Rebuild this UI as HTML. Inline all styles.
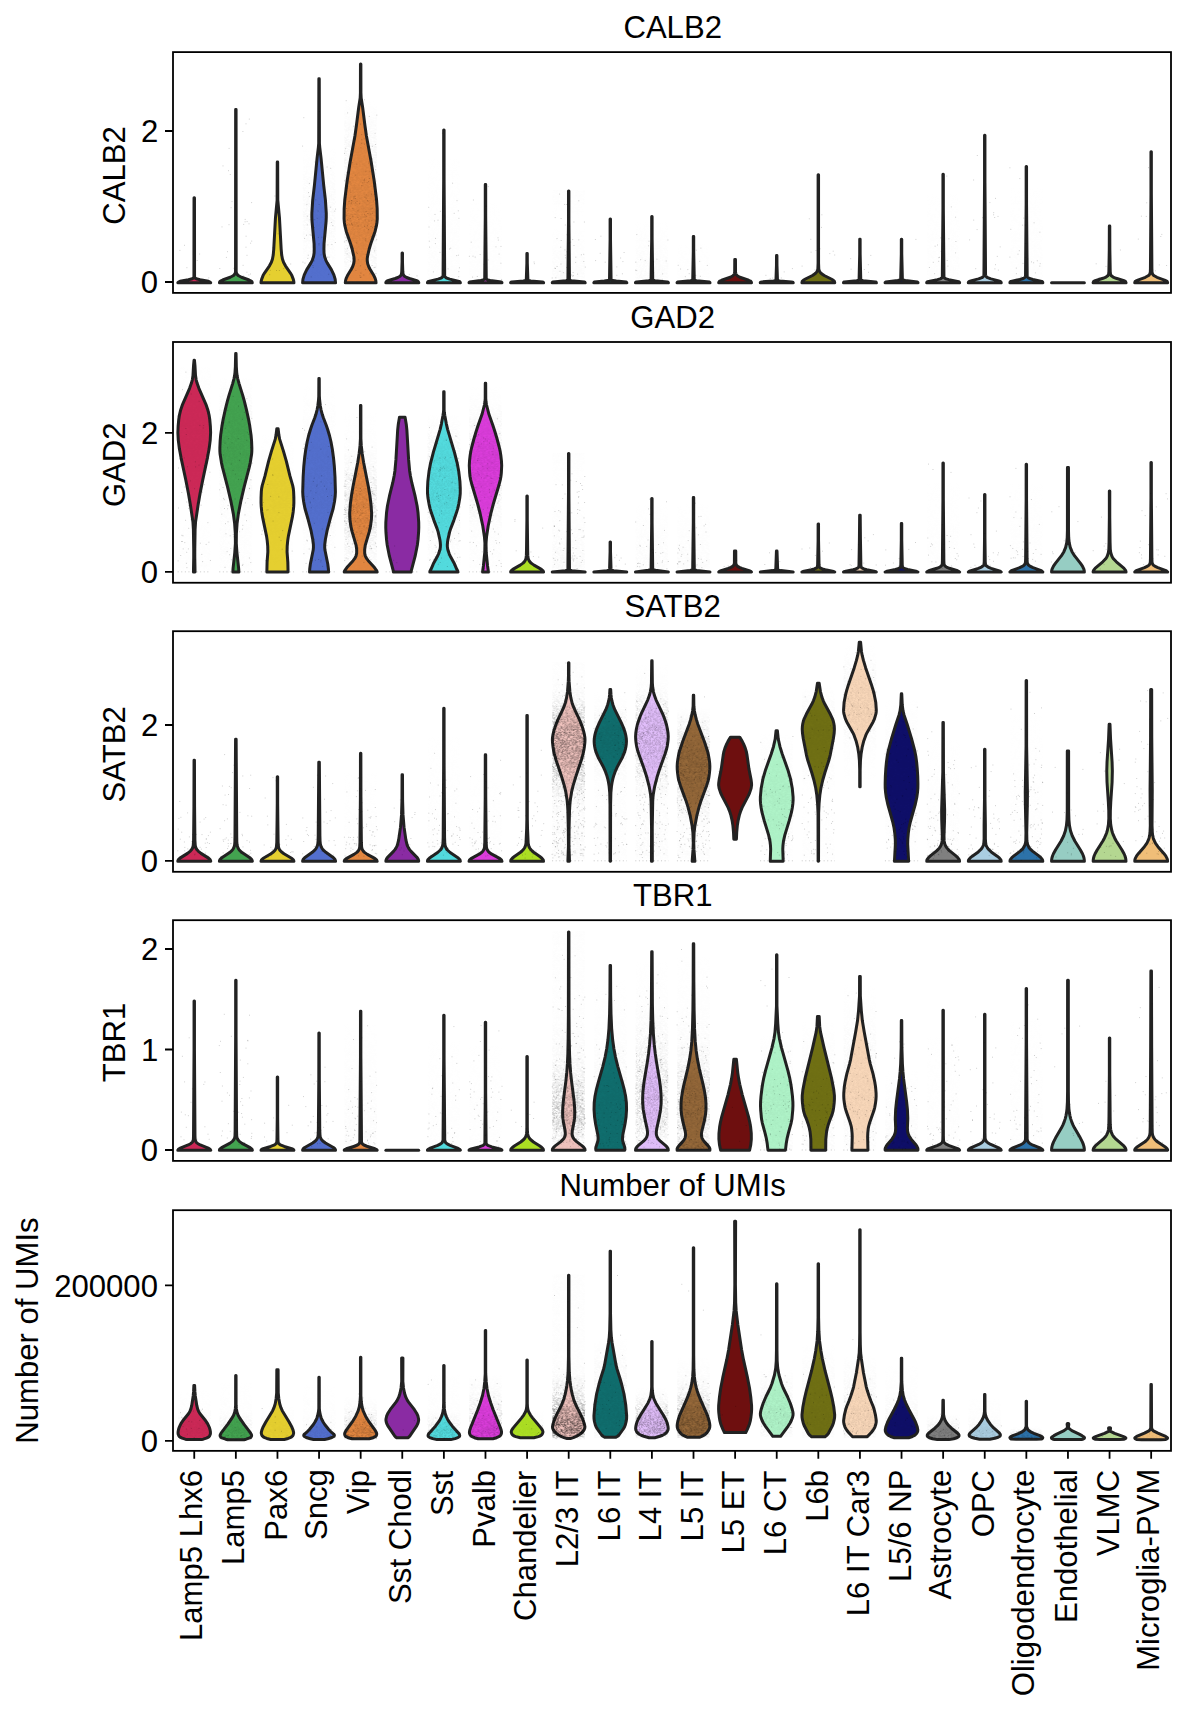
<!DOCTYPE html>
<html lang="en"><head><meta charset="utf-8"><title>Violin plots</title>
<style>html,body{margin:0;padding:0;background:#fff}svg{display:block}text{font-family:"Liberation Sans",sans-serif;font-size:31.1px;fill:#000}.v{stroke:#222222;stroke-width:3.0;stroke-linejoin:round}.ax{fill:none;stroke:#000;stroke-width:1.8}.tk{stroke:#000;stroke-width:1.8;fill:none}stop{stop-color:#fff}.dt{fill:none;stroke:#000;stroke-width:.85;stroke-linecap:square;stroke-opacity:.22}</style></head><body>
<svg width="1187" height="1709" viewBox="0 0 1187 1709">
<rect width="1187" height="1709" fill="#fff"/>
<defs><pattern id="hz" patternUnits="userSpaceOnUse" x="173.447" y="0" width="41.605" height="37"><path d="M4.4 .2h0m2.1 0h0m.9 .3h0m3.7-.2h0m.2-.1h0m1.1-.2h0m.8 .1h0m5.6 .2h0m.4 .2h0m5.7-.2h0m1.9 .1h0m1.2 .1h0m4.4-.4h0m-23.8 1.4h0m.4-.2h0m4.8-.5h0m.7-.1h0m.4-.2h0m.7 .2h0m1 .2h0m2.4 .2h0m.1-.5h0m2.2 .4h0m.9-.4h0m1 .3h0m0 .2h0m.1-.5h0m3.2 0h0m1.4 .6h0m3.4-.1h0m0 .2h0m.2 0h0m2.3 .1h0m.7-.8h0m.2 .3h0m1.7-.1h0m-31.8 1.5h0m.7-.1h0m3.7-.2h0m3.1-.1h0m2.1 0h0m.2 .2h0m.3-.5h0m1.8 .7h0m1.2-.3h0m1.4 .1h0m1.9 .4h0m.6-.4h0m3.4-.5h0m.2 .2h0m2.1-.1h0m.4 .6h0m.5 .1h0m.1-.4h0m.9 .2h0m.3-.5h0m3.6 .8h0m.9-.5h0m1.6-.3h0m.7 .4h0m-31.9 .9h0m.9 .1h0m.4 .3h0m.6 .1h0m.6-.1h0m.5-.7h0m3.1 .5h0m.4 0h0m1.8-.6h0m.4 0h0m1.5 .5h0m.6-.2h0m.2 .3h0m.3-.6h0m1.4 .6h0m1 .2h0m.9-.2h0m.7-.4h0m1.6 0h0m.3 .4h0m2.5 .2h0m.4-.9h0m.6 .3h0m1.1 .3h0m.5 0h0m2-.5h0m5 .1h0m1.2 .6h0m0-.1h0m-30 .8h0m3.7-.4h0m4.4 .1h0m.1 0h0m1.7 .1h0m.6 0h0m.1-.2h0m1.3 .8h0m1.4 0h0m2.4-.5h0m.1-.2h0m3.7 .2h0m3.1-.1h0m1.3 .1h0m3 .5h0m.5-.8h0m1.4 .8h0m1.3-.6h0m.4 .4h0m-29.9 .9h0m.9 .4h0m.2-.8h0m3.3 .4h0m3.3 .1h0m.4-.1h0m1-.6h0m1.6 .3h0m.9-.1h0m.8 .4h0m.8-.3h0m.3-.1h0m2.5 0h0m.6 .8h0m.2-.3h0m.7-.1h0m2.1-.4h0m.4-.1h0m1.2 .6h0m.1-.6h0m1.7 .4h0m.8 .4h0m6.2-.7h0m.3 0h0m.7 .3h0m.6 .1h0m.1-.5h0m-30.4 1.3h0m1.3 .1h0m1.6-.2h0m2.7 0h0m.2 .2h0m.1-.2h0m3.9 .3h0m2 .1h0m4.5-.6h0m2.2 .1h0m4 .6h0m1.5-.3h0m3.6 .4h0m2.1 0h0m.5-.4h0m-32 1.2h0m.9 .1h0m.7 .1h0m1.9-.2h0m.3-.2h0m.4-.4h0m2.3 .5h0m1.5 .4h0m.6-1h0m.7 1h0m1-.5h0m1.5-.3h0m.8 .7h0m0-.1h0m1.5-.3h0m.7-.1h0m.6 .1h0m0-.1h0m1.1-.3h0m2.9 .8h0m.4-.1h0m3.1-.1h0m.5 0h0m.7 .2h0m.3-.3h0m1.5-.2h0m0 .1h0m1.7-.5h0m2.2 .9h0m1-.1h0m.1-.1h0m.5-.3h0m-28.7 1.5h0m1.2-.2h0m2.4-.6h0m1.5 .6h0m1.8-.6h0m5.1 .5h0m0-.3h0m3.8 .3h0m1.2 0h0m4.2-.6h0m0 .8h0m1.9 .2h0m.2-.5h0m.8 .5h0m1.5-.6h0m2.6 .3h0m1.4-.6h0m-27.4 .9h0m3.2 .2h0m2.1 .4h0m2.4 .4h0m.6-.9h0m3.3 .2h0m2.3 .2h0m.1 .1h0m.9-.4h0m2.9 .7h0m0-.6h0m.2 .3h0m1.4 .3h0m.4-.4h0m1.6 .2h0m1.9 .1h0m1.4 .2h0m2.4-.4h0m.3 .1h0m-32 .5h0m.4 .5h0m1.2-.3h0m2.5-.1h0m1 0h0m1-.1h0m1.1 .3h0m2.4-.1h0m2.8-.4h0m1.6 .7h0m.1-.1h0m.6-.2h0m2.5 .5h0m2-.9h0m.6 .3h0m2.3 .6h0m.8 .1h0m3.1-.7h0m.4 .4h0m1.5 .2h0m.2-.6h0m0-.2h0m2.3 0h0m-31 1.3h0m3.3 .4h0m.7-.6h0m1.3 .3h0m1 .2h0m0-.2h0m1.4 0h0m2 .4h0m.2-.9h0m2.2 .2h0m1.3 .3h0m.4-.2h0m.8 0h0m0-.2h0m2.1 .3h0m2.4 .2h0m1.5-.4h0m.7 .2h0m1.7-.2h0m.5 .6h0m.1 .1h0m.1-.3h0m1-.4h0m.2 .2h0m1.7-.3h0m0 .2h0m.8-.1h0m1.1-.2h0m.4 .9h0m1.1-.2h0m.9-.3h0m-30.5 1.3h0m.1-.4h0m.1 .6h0m.1-.6h0m1 0h0m3.9 .3h0m.3 .3h0m0-.7h0m1 .4h0m1.8 .2h0m.8 .1h0m0-.7h0m.7 .2h0m3.7 .1h0m1.2 0h0m1.3 .3h0m1.2 .1h0m1.1-.5h0m1.4 0h0m.3 .5h0m1.6-.9h0m.5 .8h0m2.9 0h0m.6-.6h0m.5 .2h0m.5-.1h0m.6-.1h0m.9 .4h0m3.5 0h0m-31.6 .4h0m1.7 .1h0m1.2 .9h0m.5-.8h0m.9 .2h0m.8 .1h0m3.7-.2h0m.4-.3h0m3.5 .2h0m1.3 .4h0m.3 .3h0m.4 0h0m.8 0h0m.3 .1h0m.3-.6h0m5.2 .4h0m2.1 0h0m1.3-.2h0m.2 .3h0m1.2 .1h0m1.6-.6h0m.8 .2h0m1.8 .2h0m1.9-.8h0m-32.6 1.1h0m.2 .8h0m2.1 .1h0m2.7-.6h0m.3-.1h0m.3 .4h0m0 0h0m3.1 .1h0m1.1-.3h0m.6-.4h0m1.2 .4h0m.7-.2h0m.3 .5h0m2.7-.6h0m1.3 .5h0m.9 0h0m.7-.4h0m3.3 .4h0m.2-.7h0m.5 .6h0m5.9-.1h0m2-.5h0m.9 .8h0m-30.9 .8h0m1.9-.2h0m1.2-.1h0m1.8 .4h0m3.3 .1h0m1.9-.4h0m.4 .4h0m1.4-.2h0m1.3-.6h0m1.1 1h0m.6-.9h0m5.7 .3h0m3.9 .5h0m.4-.3h0m1.1 .3h0m.5-.9h0m.3 .6h0m1.5-.1h0m1.5-.2h0m.1-.1h0m.7 .4h0m.3-.1h0m.4-.4h0m-30.6 1.1h0m.4 .2h0m2.5 .4h0m.9-.1h0m.4-.4h0m1.2-.2h0m1.3 .8h0m.5 0h0m.6-.1h0m1.4-.3h0m4.7-.4h0m3.1 .5h0m.1 0h0m.3 .3h0m0-.3h0m.2-.3h0m1 .5h0m.3-.7h0m1.6 .3h0m2.4 .4h0m1.8-.1h0m-23.4 .8h0m1.8 .1h0m.3-.2h0m.7-.3h0m1.1 .6h0m2.3-.1h0m1.3-.5h0m.6 .1h0m1.6-.1h0m.1 .8h0m.8-.9h0m2.2 .5h0m.1 .2h0m.2-.5h0m4.1 .6h0m.3-.2h0m.5 0h0m.2 .2h0m.5 .1h0m.5-.3h0m1 0h0m2.2 .1h0m1.5 0h0m.1-.2h0m1.1 .3h0m2.1-.2h0m.6 .4h0m2.5-.7h0m0 .3h0m0-.4h0m.3 .3h0m-33 1.2h0m2 .3h0m1.7-.8h0m.6 .1h0m.4 .6h0m1-.2h0m.7 .1h0m.1 .2h0m.2-.2h0m1.5-.6h0m1.1 .7h0m0 0h0m2.8 .1h0m3.5-.3h0m.5-.1h0m2.2 0h0m1.6-.1h0m1.9 .4h0m3.2-.4h0m0-.2h0m.9 .3h0m2.5-.4h0m2.6 .6h0m-29.6 .5h0m.7 .4h0m.7 0h0m1.3-.2h0m.1-.4h0m.6 .1h0m1.4 .2h0m.2-.1h0m.5-.1h0m0 .3h0m.5 0h0m2.7-.1h0m.3 .2h0m1.2-.5h0m.5 .3h0m.8 .4h0m.4-.5h0m.2 .5h0m1.7-.6h0m2.6 .1h0m2.9-.1h0m1.6 .5h0m.8 .1h0m1.2-.1h0m.4-.3h0m0 .1h0m4.9 .3h0m1-.6h0m1.1 .4h0m.2-.5h0m-30.8 1.5h0m2.1-.4h0m.7 .2h0m2.5 .1h0m1.6-.2h0m2.8 .5h0m.2 .2h0m1.2-.6h0m.6-.1h0m5.9 .3h0m.7-.1h0m2.5-.4h0m.3 .7h0m.6-.5h0m.1 .1h0m1.3-.2h0m2.1 .7h0m.9-.1h0m.1-.2h0m.1 .1h0m1.2-.4h0m1.7 .4h0m-27.7 .3h0m3.4 .3h0m.5 .7h0m5-.7h0m1.8 .5h0m1-.6h0m3.3 0h0m.1 .2h0m1 .4h0m0 .1h0m2.7-.3h0m3.9-.5h0m3.6 .7h0m-27.5 .6h0m2.7-.4h0m8.9 .1h0m1.1 .9h0m1.3-.5h0m.9 .1h0m.4-.5h0m2.3 .3h0m1 .5h0m1.2-.7h0m3.4 .4h0m1 .1h0m.5 .1h0m.2-.8h0m2.3 .8h0m.6-.4h0m2.8-.2h0m-29.7 1.8h0m2.1-.6h0m.5 0h0m2.9 .2h0m1.6 .3h0m2.9-.2h0m.2-.2h0m2.8 .1h0m1.6 .3h0m.3-.3h0m1.1-.3h0m.5 .3h0m.6 .2h0m1.8-.6h0m1.3-.1h0m.1 .3h0m1.1 0h0m.9 .4h0m2.7-.5h0m.5-.1h0m0-.2h0m1.2 .5h0m-27.5 .7h0m2.5-.1h0m.4 .9h0m4.6-.4h0m.6-.1h0m2.7 .3h0m1.7 .1h0m.3-.4h0m.7 .1h0m2 .1h0m1.3-.1h0m.5 .4h0m.4-.9h0m.6 .1h0m.3-.2h0m.9 .4h0m1.3 0h0m1.9 .4h0m.2-.6h0m.6 .2h0m.1 .4h0m.1 0h0m.2 .1h0m1.1-.1h0m.5 .1h0m2.9-.2h0m.5-.5h0m-30.5 1.3h0m3 .4h0m.3-.3h0m2.7-.2h0m2.9 .3h0m0-.4h0m.4 .1h0m.3 .2h0m0-.1h0m1.3-.2h0m3 .3h0m.4 .3h0m.7-.2h0m.4-.6h0m3.2 .4h0m2.3-.4h0m.3-.1h0m2.3 .4h0m2.7 .3h0m.2-.2h0m2.9 .4h0m1-.5h0m0-.3h0m1.6 .7h0m-29 .9h0m.2 .2h0m1.1-.7h0m.2 .1h0m2 .4h0m1-.2h0m.3 0h0m2.4-.2h0m1.6 .6h0m1.1-.6h0m.2 .3h0m.3-.2h0m2.3 .5h0m1-.4h0m1.6-.1h0m.9 .2h0m.7-.5h0m2.6 .1h0m.5 .8h0m.9-.2h0m1-.5h0m1.4 .4h0m1.4 .3h0m.6 0h0m.3 0h0m2.5-.3h0m-30.6 .4h0m.6 .6h0m.2-.2h0m.1 .1h0m9.8-.5h0m1.3 .8h0m.1-.5h0m2.1 0h0m2.8 0h0m1.6-.3h0m.5 .5h0m.2-.5h0m1.3 .2h0m.8 .3h0m0-.5h0m3.2 .1h0m3.2 0h0m.4-.2h0m.5 .7h0m1.3-.5h0m.1 .1h0m.1 .2h0m.4 .2h0m-29.2 .4h0m.2 .5h0m2.1 .2h0m4.2-.6h0m4.1 .1h0m.4 .2h0m2.3-.5h0m1.9 .1h0m2.4 .2h0m1.7-.2h0m3.2 .8h0m.6-.3h0m.1-.5h0m.2 .9h0m.2-.9h0m1.4 .8h0m2.8-.4h0m2.9 .1h0m-32.5 .8h0m1.9 0h0m1.4-.1h0m1.2-.1h0m2.1 .2h0m.5 .5h0m1.9 0h0m1.3-.9h0m1.9 .9h0m.1-.1h0m.5-.2h0m.8-.2h0m4.5 .2h0m.1 .3h0m.1-.1h0m5.3-.7h0m3 .1h0m3.4 .4h0m1.8-.3h0m-30.8 1.2h0m.3-.1h0m.6 .1h0m.2-.5h0m.9 .1h0m1.6 .9h0m1.4-.4h0m.5-.6h0m.5 0h0m.4 .4h0m.8-.1h0m0-.2h0m.1 .4h0m5.5-.3h0m.9 .6h0m.2-.1h0m2.1-.4h0m1.1 .5h0m3-.1h0m.3 .3h0m.5-1h0m2.3 .2h0m.6 .5h0m.6-.6h0m.1 .8h0m1.2-.5h0m.6 .4h0m2.3 .1h0m-28.6 1h0m0-.3h0m1 .4h0m2.5-.8h0m.5 .3h0m.4 .2h0m.6-.1h0m2.4 0h0m.8 .3h0m3.3-.7h0m.8 .1h0m.2 .1h0m2 .5h0m9.7-.3h0m4.9-.3h0m.9 .2h0m.7 0h0m-30.6 .6h0m1.5 .1h0m1 .6h0m.7 0h0m1-.8h0m1.7 .6h0m1.1 .2h0m.2-.1h0m.5 0h0m1.2-.2h0m1.6 .4h0m.9-.9h0m1.6 1h0m1.9-.6h0m1.3-.3h0m.9 .2h0m.9 0h0m.1 .4h0m.1-.3h0m.3 .3h0m.4-.2h0m1 .5h0m1-.9h0m.1 .4h0m.3 0h0m4.4-.2h0m.7 .6h0m-27.2 1h0m1.5-.1h0m.8-.4h0m1.7 .2h0m.2-.3h0m.7 .4h0m3.6-.1h0m2.7-.5h0m.8 .7h0m3.5 .2h0m.3-.3h0m.6-.3h0m.1 .1h0m.5 .4h0m.4-.8h0m4.5 .6h0m2.7-.4h0m.8 0h0m.3 0h0m2.1 .4h0m.6-.2h0m3.1 .1h0m.7-.2h0m.5 .2h0m-29 .8h0m0 0h0m.4-.2h0m.5-.2h0m1.3 .3h0m1.4 .1h0m1.6 .3h0m6.4 .1h0m1.1 0h0m.2 0h0m4 0h0m2.6 .2h0m.4-.3h0m2.8-.1h0m1.3 0h0m.6-.1h0m-26.5 1h0m1.4-.2h0m.2 .7h0m1.5-.3h0m.1-.5h0m.2 .1h0m.4 .4h0m.1-.3h0m.5 .2h0m4.3-.4h0m.5 .3h0m7.2 .4h0m3.4-.7h0m1.9 .5h0m1.2-.6h0m1.2 .5h0m1.8 .1h0m1.2-.6h0m.1 .5h0m.1-.5h0m.9 .2h0m-29.4 1.3h0m1.2-.4h0m1.7-.2h0m2 .3h0m.2 .6h0m1.1-.9h0m.3 .1h0m2.5 .8h0m2.7-.7h0m2.1 .6h0m.2-.6h0m5.3 0h0m1.1 .7h0m3.8-.7h0m.3 .8h0m1.7-.7h0m2.6 .1h0m1.2-.4h0m0 0h0m.3 .7h0m.1-.7h0m.2 .1h0m.5 .4h0m.4 .2h0m-31.6 .6h0m1.2-.1h0m3.9 .3h0m.2-.3h0m.2 0h0m.7 0h0m3.4-.1h0m3.5 .1h0m5.1-.1h0m1.8 .2h0m.3 0h0m1.6-.2h0m2.6 .1h0m4.6-.1h0m1.6 0h0" fill="none" stroke="#000" stroke-width="0.8" stroke-linecap="square"/></pattern></defs>
<g>
<path class="v" fill="#cc2957" d="M194.47 197.8l.09 79l.24 .75l.38 .5l1.95 1l2.97 .75l8.37 1.5l1.55 .75l.55 .5l.08 .25l-32.8 0l.08-.25l.55-.5l1.55-.75l8.37-1.5l2.97-.75l1.95-1l.38-.5l.24-.75l.09-79z"/>
<path class="v" fill="#43a350" d="M236.07 109.52l.1 162l.27 1.5l.44 1l.8 1l.92 .75l2.88 1.5l7.62 2.75l2.19 1l.68 .75l.29 1.03l-32.81 0l.29-1.03l.68-.75l2.19-1l7.62-2.75l2.88-1.5l.92-.75l.8-1l.44-1l.27-1.5l.1-162z"/>
<path class="v" fill="#e5cf30" d="M277.66 162.09l.13 38l1.65 17.5l1.73 31.5l.53 6l.74 4l1.1 3.25l1.9 3.5l4.82 7l1.62 2.75l1.44 3.75l.47 2l.13 1.46l-32.92 0l.13-1.46l.47-2l1.44-3.75l1.62-2.75l4.82-7l1.9-3.5l1.1-3.25l.74-4l.53-6l1.73-31.5l1.65-17.5l.13-38z"/>
<path class="v" fill="#536fcd" d="M319.26 78.86l.16 64.5l.34 4l1.29 10.75l2.69 27.5l1.67 14.25l.85 13.25l.01 4.25l-.22 4.5l-2.01 21.75l-.12 5.25l.11 4.25l.56 3.5l1.29 3.75l1.3 2.5l4.32 7l2.36 5l1.3 4.25l.37 3.69l-32.93 0l.37-3.69l1.3-4.25l2.36-5l4.32-7l1.3-2.5l1.29-3.75l.56-3.5l.11-4.25l-.12-5.25l-2.01-21.75l-.22-4.5l.01-4.25l.85-13.25l1.67-14.25l2.69-27.5l1.29-10.75l.34-4l.15-64.5z"/>
<path class="v" fill="#e38741" d="M360.87 63.96l.05 28.75l.25 5.25l1.45 9.25l2.24 17.75l1.56 11l4.83 26.25l3.03 19.25l2.27 18.25l.63 9.25l.09 10l-.27 3.25l-.6 3.75l-1.34 5.5l-4.38 12.5l-1.54 5.25l-1.63 7.25l-.27 2.5l.02 2l.44 2.75l1.05 3l1.16 2.25l3.63 6l1.62 3.5l.64 2.25l.24 2.09l-30.74 0l.24-2.09l.64-2.25l1.62-3.5l3.63-6l1.16-2.25l1.05-3l.44-2.75l.02-2l-.27-2.5l-1.63-7.25l-1.54-5.25l-4.38-12.5l-1.34-5.5l-.6-3.75l-.27-3.25l.09-10l.63-9.25l2.27-18.25l3.03-19.25l4.83-26.25l1.56-11l2.24-17.75l1.45-9.25l.25-5.25l.05-28.75z"/>
<path class="v" fill="#8a2ba3" d="M402.48 252.99l0 8.75l.3 9.5l.19 2.25l.47 1.5l1.07 1.25l2.18 1.25l2.73 1l6.57 2l1.87 .75l.52 .5l.36 1.06l-32.93 0l.36-1.06l.52-.5l1.87-.75l6.57-2l2.73-1l2.18-1.25l1.07-1.25l.47-1.5l.19-2.25l.3-9.5l.01-8.75z"/>
<path class="v" fill="#53dbde" d="M444.08 129.89l.01 49.75l.58 95.75l.14 .75l.36 .75l.78 .75l.88 .5l2.94 1l9.4 2.25l.61 .25l.21 .25l.35 .91l-32.92 0l.35-.91l.21-.25l.61-.25l9.4-2.25l2.94-1l.88-.5l.78-.75l.36-.75l.14-.75l.58-95.75l.01-49.75z"/>
<path class="v" fill="#dc3ddc" d="M485.68 184.43l.02 32.5l.55 61.5l.12 .5l.41 .5l1.11 .5l2.32 .5l11.21 1.5l.44 .5l.09 .37l-32.93 0l.09-.37l.44-.5l11.21-1.5l2.32-.5l1.11-.5l.41-.5l.12-.5l.55-61.5l.01-32.5z"/>
<path class="v" fill="#acde23" d="M527.29 253.43l.02 9.5l.58 17l.55 .5l2.34 .5l11.56 1l.89 .25l.32 .62l-32.92 0l.32-.62l.89-.25l11.56-1l2.34-.5l.55-.5l.58-17l.02-9.5z"/>
<path class="v" fill="#f0c3be" d="M568.9 191l0 30l.56 58.75l.29 .5l1.5 .5l13.28 1.25l.38 .25l.25 .55l-32.93 0l.25-.55l.38-.25l13.28-1.25l1.5-.5l.29-.5l.56-58.75l0-30z"/>
<path class="v" fill="#106e6e" d="M610.5 219.04l0 20.25l.58 40.25l.31 .5l1.32 .5l3.54 .5l10.04 1l.47 .76l-32.92 0l.47-.76l10.04-1l3.54-.5l1.32-.5l.31-.5l.58-40.25l0-20.25z"/>
<path class="v" fill="#e1befa" d="M652.1 216.41l.02 22.25l.6 41l.46 .5l1.75 .5l12.37 1.25l.74 .25l.33 .64l-32.93 0l.33-.64l.74-.25l12.37-1.25l1.75-.5l.46-.5l.6-41l.01-22.25z"/>
<path class="v" fill="#96693a" d="M693.71 236.56l.02 15.25l.55 28l.37 .5l1.75 .5l13.1 1.25l.28 .25l.19 .49l-32.92 0l.19-.49l.28-.25l13.1-1.25l1.75-.5l.37-.5l.55-28l.02-15.25z"/>
<path class="v" fill="#6e0f0f" d="M735.48 259.53l.05 12.25l.25 1.75l.58 1.25l1.27 1.25l2.3 1.25l8.7 3l1.78 .75l.41 .25l.37 .5l.33 1.02l-32.81 0l.33-1.02l.37-.5l.41-.25l1.78-.75l8.7-3l2.3-1.25l1.27-1.25l.58-1.25l.25-1.75l.05-12.25z"/>
<path class="v" fill="#aff3c8" d="M776.92 255.62l.05 9.75l.47 14l.19 .75l1.02 .5l1.33 .25l11.39 1l1.41 .25l.4 .68l-32.92 0l.4-.68l1.41-.25l11.39-1l1.33-.25l1.02-.5l.19-.75l.47-14l.05-9.75z"/>
<path class="v" fill="#707014" d="M818.54 174.74l.01 88.25l.23 5.75l.26 1.25l.48 1.25l.81 1.25l.96 1l2.89 2l7.05 3.5l2.09 1.25l1.07 1l.34 1.56l-32.81 0l.34-1.56l1.07-1l2.09-1.25l7.05-3.5l2.89-2l.96-1l.81-1.25l.48-1.25l.26-1.25l.23-5.75l.01-88.25z"/>
<path class="v" fill="#f8d7b9" d="M860.13 239.19l.03 15l.6 25.5l.5 .5l1.87 .5l12.43 1.25l.54 .25l.29 .61l-32.92 0l.29-.61l.54-.25l12.43-1.25l1.87-.5l.5-.5l.6-25.5l.03-15z"/>
<path class="v" fill="#0f0f69" d="M901.74 239.19l.02 14.75l.62 25.25l.41 .5l.47 .25l1.94 .5l12.23 1.5l.48 .5l.09 .36l-32.93 0l.09-.36l.48-.5l12.23-1.5l1.94-.5l.47-.25l.41-.5l.62-25.25l.02-14.75z"/>
<path class="v" fill="#808080" d="M943.34 174.14l0 34.75l.6 67.75l.2 .75l.34 .5l.62 .5l1.06 .5l2.66 .75l9.96 2l.6 .5l.22 .66l-32.92 0l.22-.66l.6-.5l9.96-2l2.66-.75l1.06-.5l.62-.5l.34-.5l.2-.75l.6-67.75l0-34.75z"/>
<path class="v" fill="#aacde1" d="M984.94 135.37l.01 47.25l.59 92l.19 1l.37 .75l.73 .75l.78 .5l3.32 1.25l6.89 1.75l2.41 .75l.64 .5l.34 .93l-32.93 0l.34-.93l.64-.5l2.41-.75l6.89-1.75l3.32-1.25l.78-.5l.73-.75l.37-.75l.19-1l.59-92l0-47.25z"/>
<path class="v" fill="#2d73aa" d="M1026.55 166.47l0 37.25l.62 72.25l.19 .75l.51 .75l1.64 1l3.34 1l8.89 2l.56 .25l.36 .5l.15 .58l-32.92 0l.15-.58l.36-.5l.56-.25l8.89-2l3.34-1l1.64-1l.51-.75l.19-.75l.62-72.25l0-37.25z"/>
<path class="v" fill="#b4d791" d="M1109.76 226.05l.09 24l.38 21.5l.3 2.75l.31 .75l.54 .75l1.72 1.25l3.04 1.25l8.58 2.75l.82 .5l.48 1.25l-32.92 0l.48-1.25l.82-.5l8.58-2.75l3.04-1.25l1.72-1.25l.54-.75l.31-.75l.3-2.75l.38-21.5l.09-24z"/>
<path class="v" fill="#f0be78" d="M1151.36 151.8l.01 42.75l.51 74l.13 3.5l.58 2l.73 1l.87 .75l2.78 1.5l7.54 2.75l2.19 1l.65 .75l.28 1l-32.93 0l.28-1l.65-.75l2.19-1l7.54-2.75l2.78-1.5l.87-.75l.73-1l.58-2l.13-3.5l.51-74l0-42.75z"/>
<defs><linearGradient id="g0_3" gradientUnits="userSpaceOnUse" x1="0" x2="0" y1="78.9" y2="282.8"><stop offset="0" stop-opacity="0"/><stop offset=".32" stop-opacity="0"/><stop offset=".67" stop-opacity=".03"/><stop offset="1" stop-opacity="0"/></linearGradient><mask id="m0_3" maskUnits="userSpaceOnUse" x="302.4" y="77.9" width="33.4" height="205.9"><rect x="302.4" y="77.9" width="33.4" height="205.9" fill="url(#g0_3)"/></mask><linearGradient id="g0_4" gradientUnits="userSpaceOnUse" x1="0" x2="0" y1="64" y2="282.8"><stop offset="0" stop-opacity="0"/><stop offset=".16" stop-opacity="0"/><stop offset=".55" stop-opacity=".07"/><stop offset=".69" stop-opacity=".09"/><stop offset=".75" stop-opacity=".08"/><stop offset=".95" stop-opacity=".02"/><stop offset="1" stop-opacity=".01"/></linearGradient><mask id="m0_4" maskUnits="userSpaceOnUse" x="344" y="63" width="33.4" height="220.8"><rect x="344" y="63" width="33.4" height="220.8" fill="url(#g0_4)"/></mask><linearGradient id="g0_6" gradientUnits="userSpaceOnUse" x1="0" x2="0" y1="129.9" y2="282.8"><stop offset="0" stop-opacity="0"/><stop offset=".96" stop-opacity=".01"/><stop offset="1" stop-opacity="0"/></linearGradient><mask id="m0_6" maskUnits="userSpaceOnUse" x="427.2" y="128.9" width="33.4" height="154.9"><rect x="427.2" y="128.9" width="33.4" height="154.9" fill="url(#g0_6)"/></mask><linearGradient id="g0_7" gradientUnits="userSpaceOnUse" x1="0" x2="0" y1="184.4" y2="282.8"><stop offset="0" stop-opacity="0"/><stop offset=".94" stop-opacity=".01"/><stop offset="1" stop-opacity="0"/></linearGradient><mask id="m0_7" maskUnits="userSpaceOnUse" x="468.8" y="183.4" width="33.4" height="100.4"><rect x="468.8" y="183.4" width="33.4" height="100.4" fill="url(#g0_7)"/></mask><linearGradient id="g0_9" gradientUnits="userSpaceOnUse" x1="0" x2="0" y1="191" y2="282.8"><stop offset="0" stop-opacity=".01"/><stop offset=".36" stop-opacity="0"/><stop offset=".93" stop-opacity=".02"/><stop offset="1" stop-opacity="0"/></linearGradient><mask id="m0_9" maskUnits="userSpaceOnUse" x="552" y="190" width="33.4" height="93.8"><rect x="552" y="190" width="33.4" height="93.8" fill="url(#g0_9)"/></mask><linearGradient id="g0_11" gradientUnits="userSpaceOnUse" x1="0" x2="0" y1="216.4" y2="282.8"><stop offset="0" stop-opacity="0"/><stop offset=".91" stop-opacity=".02"/><stop offset="1" stop-opacity="0"/></linearGradient><mask id="m0_11" maskUnits="userSpaceOnUse" x="635.2" y="215.4" width="33.4" height="68.4"><rect x="635.2" y="215.4" width="33.4" height="68.4" fill="url(#g0_11)"/></mask><linearGradient id="g0_12" gradientUnits="userSpaceOnUse" x1="0" x2="0" y1="236.6" y2="282.8"><stop offset="0" stop-opacity="0"/><stop offset=".87" stop-opacity=".01"/><stop offset="1" stop-opacity="0"/></linearGradient><mask id="m0_12" maskUnits="userSpaceOnUse" x="676.8" y="235.6" width="33.4" height="48.2"><rect x="676.8" y="235.6" width="33.4" height="48.2" fill="url(#g0_12)"/></mask><linearGradient id="g0_18" gradientUnits="userSpaceOnUse" x1="0" x2="0" y1="174.1" y2="282.8"><stop offset="0" stop-opacity="0"/><stop offset=".94" stop-opacity=".01"/><stop offset="1" stop-opacity="0"/></linearGradient><mask id="m0_18" maskUnits="userSpaceOnUse" x="926.4" y="173.1" width="33.4" height="110.7"><rect x="926.4" y="173.1" width="33.4" height="110.7" fill="url(#g0_18)"/></mask><linearGradient id="g0_20" gradientUnits="userSpaceOnUse" x1="0" x2="0" y1="166.5" y2="282.8"><stop offset="0" stop-opacity="0"/><stop offset=".95" stop-opacity=".01"/><stop offset="1" stop-opacity="0"/></linearGradient><mask id="m0_20" maskUnits="userSpaceOnUse" x="1009.6" y="165.5" width="33.4" height="118.3"><rect x="1009.6" y="165.5" width="33.4" height="118.3" fill="url(#g0_20)"/></mask></defs>
<rect x="302.4" y="77.9" width="33.4" height="205.9" fill="url(#hz)" mask="url(#m0_3)"/><rect x="344" y="63" width="33.4" height="220.8" fill="url(#hz)" mask="url(#m0_4)"/><rect x="427.2" y="128.9" width="33.4" height="154.9" fill="url(#hz)" mask="url(#m0_6)"/><rect x="468.8" y="183.4" width="33.4" height="100.4" fill="url(#hz)" mask="url(#m0_7)"/><rect x="552" y="190" width="33.4" height="93.8" fill="url(#hz)" mask="url(#m0_9)"/><rect x="635.2" y="215.4" width="33.4" height="68.4" fill="url(#hz)" mask="url(#m0_11)"/><rect x="676.8" y="235.6" width="33.4" height="48.2" fill="url(#hz)" mask="url(#m0_12)"/><rect x="926.4" y="173.1" width="33.4" height="110.7" fill="url(#hz)" mask="url(#m0_18)"/><rect x="1009.6" y="165.5" width="33.4" height="118.3" fill="url(#hz)" mask="url(#m0_20)"/>
<path d="M1051.55 282.8H1084.36" fill="none" stroke="#222222" stroke-width="3.0" stroke-linecap="round"/>
<path class="dt" d="M364.5 99.8h0m-18.3 .9h0m-26.8 10.8h0m28.2 1.4h0m29.2 2.2h0m-7.5 1.3h0m-65.5 1.3h0m-54.5 1.4h0m-3.3 4.7h0m114.5 .3h0m-6.8 2.1h0m-110.8 5.3h0m132.2 1.8h0m67.3-.1h0m-80.7 1.4h0m-6.5 4.8h0m9-.5h0m-2.4 .8h0m-.1 3.6h0m2.7 .9h0m11 .3h0m-72.8 1.6h0m65.2 .4h0m1.9-.4h0m2.6 .2h0m-143.2 2.1h0m131.8-.6h0m-15.3 .9h0m-1.1 4.7h0m632.8 2.1h0m-627.4 3.3h0m22.6 .1h0m-57.4 3.1h0m53.7 .1h0m-16.4 .6h0m16.5 .7h0m-12.1 .6h0m-8.2 1h0m21.4-.2h0m-147 1.1h0m104.1 1.1h0m3.6 1.3h0m679.2-.5h0m138.6-.1h0m-773 2.1h0m-147 .9h0m137.4 .6h0m4.1 0h0m-23.5 1.4h0m-116.2 1.8h0m124.9 .8h0m591.6 .8h0m-582.3 3.1h0m4.9-.7h0m650.4 .1h0m-655.6 1.8h0m609.4-.4h0m-628.9 .7h0m23.9 .8h0m-18.7 .4h0m14.3 .1h0m-54.8 1.4h0m53.3-.6h0m4.5 0h0m85.4 .4h0m-106.3 3.1h0m15.5-.6h0m12 .6h0m114.5 .3h0m-141.2 1.5h0m3 1.9h0m.3 2.1h0m-41.9 .5h0m63 1.6h0m3 0h0m185.1-.1h0m-212.7 .5h0m19.4 .3h0m-91.4 1.1h0m34.5 .4h0m14.7-.6h0m29.9 .6h0m1.3-.2h0m9.6 .9h0m-19.4 .8h0m8.4 .3h0m12.2-.2h0m629.4 .4h0m-640.1 .2h0m-39.6 1.3h0m58.8 0h0m98.8 .1h0m-124.3 1.3h0m2.3-.6h0m.5-.1h0m5.2 .6h0m10.3-.7h0m.6 .7h0m5.3-.1h0m83.7-.4h0m121.8 .1h0m-346.8 .8h0m19.6 1h0m99.9 .4h0m3.9-.2h0m634.5-.2h0m156.8 .2h0m-827.6 1.7h0m40.5-.7h0m205.1 .7h0m2 0h0m-259.8 .2h0m179.2 1.4h0m-155.8 1h0m98.4 .2h0m522.6-.4h0m-720.2 .8h0m115.6 .8h0m6.1-.1h0m-17.2 .7h0m35.3-.3h0m1.3-.2h0m-54.1 2.4h0m16.7 .2h0m23.2-.3h0m8.1 .5h0m74.3-.1h0m17.9-.5h0m-90.5 2.7h0m4.7-.2h0m81.7 0h0m539.5-.6h0m-638.7 1.7h0m9.5-.1h0m6.3-.2h0m64.2 .3h0m386.9 .4h0m171.7 0h0m-686.3 1.4h0m39.5-.7h0m6 .8h0m12.3-.2h0m1.6 .1h0m77.5-.3h0m553.8 .5h0m143.4-.2h0m4.9 .2h0m-788.5 .9h0m19.2-.2h0m578.6 .1h0m-638.4 1.1h0m141.7 0h0m96.3-.7h0m427.4 .1h0m12.1-.2h0m29.1 .6h0m-778.6 1.3h0m105.2-.9h0m8.4 .8h0m202.3-.8h0m91 .4h0m157.2-.1h0m-499.1 .9h0m4.5 0h0m32.8 .1h0m17.7 .3h0m72.8 .1h0m535.7-.1h0m-604.8 .9h0m2.9-.2h0m62.8 .1h0m-189.5 .9h0m2-.2h0m84.3 .8h0m242.5-.4h0m10.5 0h0m-227.4 1h0m18.6-.1h0m658.5-.1h0m-790.4 1.6h0m5.3-.6h0m102.5 0h0m.4 .2h0m-122.9 .7h0m78.3 .2h0m37.5-.1h0m.3-.2h0m2.6 .2h0m2 0h0m2.7 .3h0m212.9-.1h0m457.3 .2h0m2.7-.2h0m-692.5 .6h0m11.6 0h0m13.7 .3h0m6.4 .4h0m3-.5h0m3.5 .7h0m3.9-.1h0m194.8-.2h0m-347.7 .7h0m152.9-.2h0m54.1 .3h0m392.5 .4h0m-507.2 .1h0m52.6 .7h0m5.7-.6h0m638.2 1.7h0m-642.3 .4h0m608.6-.1h0m62.8 2.6h0m-761.8 1.6h0m883.7 .6h0m-855.3 .8h0m3.6-.4h0m1 .5h0m64.9-.1h0m190.9-.4h0m69.9-.2h0m-390.7 1.6h0m79.5 .1h0m275.3-.1h0m559.9 .3h0m-842.4 .9h0m3.5-.2h0m49.4-.5h0m-66.7 1.7h0m41.5-.5h0m27-.3h0m62.4 .8h0m50.8-.3h0m11.7-.3h0m442.6 .1h0m-574.9 1h0m191.3-.3h0m38.4 .9h0m215.4-.2h0m105.1 .1h0m33-.6h0m189.4 .3h0m-792 1.4h0m30.4-.8h0m121.6 .4h0m62.9 .4h0m11.5-.9h0m6.1 .3h0m89.1 .1h0m301.7-.1h0m-717.9 1.2h0m114-.3h0m63.6 .4h0m219.7 0h0m-313.7 1.3h0m9.1-.6h0m26.8 0h0m100 .3h0m99.5-.1h0m385.2-.6h0m-705.3 1.7h0m106.1-.3h0m212.6 .1h0m-250.3 .6h0m116.4 0h0m590.3-.1h0m-841.2 1.8h0m134.4-.4h0m9 0h0m4-.3h0m605.6 .4h0m-436.5 1.4h0m73-.9h0m74.6 .3h0m286.5 .4h0m-689.1 1h0m183.5-.1h0m66.5-.2h0m64.7 .3h0m439.5-.3h0m-727.4 .9h0m80.7 .5h0m97.2-.1h0m250.2-.1h0m-353.5 .7h0m102.2 .2h0m370.5-.2h0m-640.2 1.6h0m385-.5h0m131.4 .3h0m119.7 .3h0m304.4-.5h0m-745.7 .9h0m458.5 .3h0m107.9 .1h0m78.2-.6h0m-791.8 1h0m129.1 .6h0m83.4 .1h0m126.9-.6h0m57.2 .7h0m187-.3h0m-458.1 .6h0m4.3 .7h0m242.9-.2h0m355.4-.4h0m-756 1.1h0m147.6-.1h0m133 .6h0m18.9-.4h0m84.6 .2h0m246.1-.7h0m188.2 .6h0m-771 1.1h0m33.7-.3h0m27.6 .2h0m12.7-.3h0m45.2-.2h0m76.6 .2h0m15.6 .3h0m106.9 .1h0m16.1-.5h0m253.3 .2h0m36.1 .4h0m-414.1 .2h0m12.7 .7h0m3.6-.1h0m524.3 .2h0m-770.9 1h0m101.1-.2h0m1.5-.1h0m38.5 .1h0m107.7-.1h0m100.6 .1h0m363.6 .1h0m70.5-.2h0m15.9 .4h0m-718 .9h0m45.2 0h0m212.6-.6h0m55 .2h0m318.2-.3h0m-586.2 1.2h0m304.3 .3h0m193.8-.5h0m177 .1h0m-669.4 1h0m130 .2h0m152.4-.3h0m306.5 .8h0m-750 0h0m117.2 .4h0m36.1 .3h0m17.3-.2h0m216 .5h0m11.8-.9h0m49.6 0h0m7.9 .7h0m13.1-.3h0m33.5 .3h0m239 0h0m98.6-.5h0m-734.4 1.3h0m231.2-.1h0m41.6 .4h0m29.5-.2h0m17.7-.6h0m12.9 .6h0m17.9-.3h0m279.6 .4h0m98.2-.4h0m-726.5 1.2h0m195.9 .1h0m522.1 .2h0m10.6-.6h0m-742.9 1.2h0m193.4 .4h0m50.3-.7h0m26.6 .3h0m479.2-.3h0m56 .1h0m-853.1 1.5h0m42.8-.2h0m86.2 .4h0m306.1-.2h0m29.1 .1h0m161-.7h0m127.2 0h0m163.8 .2h0m-846.4 .6h0m39.9 .8h0m7.8-.5h0m441.5 .3h0m145.8 0h0m91.9 0h0m66.2 .3h0m60.6-.9h0m-853.4 1.9h0m61.9-.1h0m182-.8h0m9.6 1h0m18.6-.4h0m31.5-.2h0m312.6 .6h0m-742.5 .2h0m32.9 .8h0m14-.2h0m117.4-.3h0m22.9-.4h0m85.3 .2h0m95.4 .4h0m461.5-.1h0m-732.6 .5h0m164.4 .3h0m107.4-.4h0m125.1 .5h0m111.8-.4h0m58.7 .6h0m13.2 .3h0m111.4-.8h0m19.2 .2h0m-760.3 1.2h0m35.7 .3h0m85.6 .1h0m9.5-.9h0m77.3 .6h0m192.8 0h0m1.2 .2h0m51.1-.8h0m127.2 .3h0m183.4 .2h0m-721.9 .4h0m2.9 0h0m72.7 0h0m92.4 .1h0m115.5 .7h0m92.6-.1h0m502.8-.4h0m-918.8 1.3h0m10.3 .1h0m186.5-.3h0m25.4-.2h0m114.3 .8h0m211.1-.6h0m30.5 .6h0m53.8-.2h0m-633.7 .9h0m126.1-.1h0m202.5-.4h0m5.8 .7h0m84.6-.6h0m381.6 .1h0m-784.9 1.1h0m78.2 .2h0m41.3-.4h0m6-.2h0m33.3 .8h0m168.3-.3h0m44.8-.3h0m40.3 .1h0m26.5-.2h0m245.4 0h0m81.8 0h0m-767.5 1.2h0m20.8-.2h0m94.1 .3h0m207.8 0h0m1.7 .5h0m43.5-.2h0m79 .1h0m70.1-.1h0m-522.3 .6h0m116.4-.2h0m57 .2h0m23.9 .1h0m129.6 .3h0m2.3-.1h0m120.4 .3h0m7.1-.2h0m159.1-.2h0m-548.2 .8h0m49.1 .6h0m.8-.4h0m97.6-.4h0m13.9 .4h0m4.7-.6h0m208 .2h0m335.9-.1h0m-812.4 1.3h0m343.4 .1h0m3.6-.2h0m216.9 .3h0m8.6-.1h0m317.8-.5h0m-754 1.5h0m156.5 .4h0m160.7-.1h0m107.9-.7h0m206 .4h0"/>
<rect class="ax" x="173" y="52.1" width="998" height="240.8"/>
<path class="tk" d="M173 131h-8M173 282h-8"/>
<text x="158.4" y="142.33" text-anchor="end">2</text>
<text x="158" y="293.33" text-anchor="end">0</text>
<text x="672.7" y="38.2" text-anchor="middle">CALB2</text>
<text transform="translate(125.3 175.4) rotate(-90)" text-anchor="middle">CALB2</text>
</g>
<g>
<path class="v" fill="#cc2957" d="M194.47 360.33l.49 5.25l.56 10l.64 4.25l.98 3.5l1.77 5l7 16l2.1 6.25l1.06 4.5l.73 4.75l.56 6.25l.25 6.5l-.38 7.5l-1.12 8.75l-1.68 9l-4.73 22.25l-2.6 13.25l-2.1 12.25l-2.46 16.5l-.44 7.25l-.31 19.5l-.01 8.25l.26 14.97l-1.58 0l.26-14.97l-.01-8.25l-.31-19.5l-.44-7.25l-2.46-16.5l-2.1-12.25l-2.6-13.25l-4.73-22.25l-1.68-9l-1.12-8.75l-.38-7.5l.25-6.5l.56-6.25l.73-4.75l1.06-4.5l2.1-6.25l7-16l1.77-5l.98-3.5l.64-4.25l.56-10l.49-5.25z"/>
<path class="v" fill="#43a350" d="M236.05 353.6l.29 13.25l.37 5.5l.44 3.5l.62 3l1.29 4.75l3.66 11.75l1.61 5.75l2.04 8.25l2.08 9.5l1.32 7.25l1.29 9l.5 5.75l.29 7.25l-.03 3.25l-.23 3l-1.36 8.5l-1.01 4.5l-5.18 20l-3.15 13.5l-2.53 13l-1.3 9.75l-.67 9.75l-.09 10l.63 9.25l1.69 15.5l.25 3.95l-6.03 0l.25-3.95l1.69-15.5l.63-9.25l-.09-10l-.67-9.75l-1.3-9.75l-2.53-13l-3.15-13.5l-5.18-20l-1.01-4.5l-1.36-8.5l-.23-3l-.03-3.25l.29-7.25l.5-5.75l1.29-9l1.32-7.25l2.08-9.5l2.04-8.25l1.61-5.75l3.66-11.75l1.29-4.75l.62-3l.44-3.5l.37-5.5l.29-13.25z"/>
<path class="v" fill="#e5cf30" d="M278.11 428.65l.77 6.5l.76 4l3.73 11.75l2.95 10.25l3.6 14.75l2.8 9.75l.59 3l.3 3l.25 6l.03 5l-.2 4l-.48 5l-.91 5.75l-3.97 19l-.62 4.25l-.51 5.5l-.13 5.75l.76 10.25l.23 9.9l-21.2 0l.23-9.9l.76-10.25l-.13-5.75l-.51-5.5l-.62-4.25l-3.97-19l-.91-5.75l-.48-5l-.2-4l.03-5l.25-6l.3-3l.59-3l2.8-9.75l3.6-14.75l2.95-10.25l3.73-11.75l.76-4l.77-6.5z"/>
<path class="v" fill="#536fcd" d="M319.26 378.52l.09 17.5l.33 4.75l.65 5.25l.78 4l1.18 4.5l1.17 3.5l2.79 7.25l1.51 4.5l1.85 6.25l1.36 5.75l1.44 8l1.13 8.5l.83 8.5l.62 10l.43 15.25l-.23 4.25l-.67 5.25l-1.35 7l-3.2 11l-2.74 10.5l-1.81 9.25l-.67 5.25l-.05 2.75l.24 2.75l2.83 14l.62 4.75l.2 3.28l-19.05 0l.2-3.28l.62-4.75l2.83-14l.24-2.75l-.05-2.75l-.67-5.25l-1.81-9.25l-2.74-10.5l-3.2-11l-1.35-7l-.67-5.25l-.23-4.25l.43-15.25l.62-10l.83-8.5l1.13-8.5l1.44-8l1.36-5.75l1.85-6.25l1.51-4.5l2.79-7.25l1.17-3.5l1.18-4.5l.78-4l.65-5.25l.33-4.75l.08-17.5z"/>
<path class="v" fill="#e38741" d="M360.87 405.45l.03 33.25l.4 7.25l.92 7.75l1.34 8.5l4.78 24.25l1.56 9.25l1.07 8.25l.66 9l-.18 6l-.94 7.25l-1.25 5.5l-4.04 13.75l-.55 4l0 3.75l.63 2.75l1.42 2.75l1.54 2l5.51 6l3.03 4.25l.34 1.1l-32.94 0l.34-1.1l3.03-4.25l5.51-6l1.54-2l1.42-2.75l.63-2.75l0-3.75l-.55-4l-4.04-13.75l-1.25-5.5l-.94-7.25l-.18-6l.66-9l1.07-8.25l1.56-9.25l4.78-24.25l1.34-8.5l.92-7.75l.4-7.25l.03-33.25z"/>
<path class="v" fill="#8a2ba3" d="M405.07 417.19l1.18 7l.62 5.75l1.76 30l.98 10.75l.78 5l1.34 6.75l3.4 13.75l1.95 9.5l.92 6.75l.72 10l.06 5l-.19 5l-.57 7.25l-.61 5l-2.27 11.5l-3.82 14.5l-.16 1.36l-17.77 0l-.16-1.36l-3.82-14.5l-2.27-11.5l-.61-5l-.57-7.25l-.19-5l.06-5l.72-10l.92-6.75l1.95-9.5l3.4-13.75l1.34-6.75l.78-5l.98-10.75l1.76-30l.62-5.75l1.18-7z"/>
<path class="v" fill="#53dbde" d="M444.08 391.84l.03 17.75l.18 2.75l.46 3l1.58 8.5l1.28 5.5l6.82 23l2.7 10.5l1.63 8.75l1.16 9.75l.36 7.25l-.04 5l-.46 4.5l-1.05 6l-1.04 4.5l-1.45 4.75l-2.39 7l-3.18 8.25l-1.04 3.25l-1.68 7.5l-.45 3l-.18 2.5l.05 2l.28 2l.59 2.25l.88 2.5l1.48 3.25l3.84 7l2.34 5.5l.97 1.75l.24 .96l-28.22 0l.24-.96l.97-1.75l2.34-5.5l3.84-7l1.48-3.25l.88-2.5l.59-2.25l.28-2l.05-2l-.18-2.5l-.45-3l-1.68-7.5l-1.04-3.25l-3.18-8.25l-2.39-7l-1.45-4.75l-1.04-4.5l-1.05-6l-.46-4.5l-.04-5l.36-7.25l1.16-9.75l1.63-8.75l2.7-10.5l6.82-23l1.28-5.5l1.58-8.5l.46-3l.18-2.75l.03-17.75z"/>
<path class="v" fill="#dc3ddc" d="M485.68 383.25l.07 15.25l.22 3l.47 3l2.33 9.25l4.06 11.5l2.11 6.5l1.95 6.5l2.26 8.5l.96 4.25l.7 4.25l.65 5.75l.23 4.5l-.34 7.25l-.43 3.75l-.52 3l-1.29 5l-5.75 19.25l-2.41 9.25l-2.77 13l-1.63 10.75l-.52 6.5l.15 9l1.35 13.5l.89 6.3l-5.87 0l.89-6.3l1.35-13.5l.15-9l-.52-6.5l-1.63-10.75l-2.77-13l-2.41-9.25l-5.75-19.25l-1.29-5l-.52-3l-.43-3.75l-.34-7.25l.23-4.5l.65-5.75l.7-4.25l.96-4.25l2.26-8.5l1.95-6.5l2.11-6.5l4.06-11.5l2.33-9.25l.47-3l.22-3l.06-15.25z"/>
<path class="v" fill="#acde23" d="M527.29 495.9l0 24l.37 29.5l.13 5.75l.35 3l.45 1.5l.62 1.25l.72 1l1.24 1.25l2.82 2l7.39 4.25l1.48 1.25l.49 .75l.2 .65l-32.92 0l.2-.65l.49-.75l1.48-1.25l7.39-4.25l2.82-2l1.24-1.25l.72-1l.62-1.25l.45-1.5l.35-3l.13-5.75l.37-29.5l0-24z"/>
<path class="v" fill="#f0c3be" d="M568.9 453.62l0 38.5l.57 77.25l.25 .5l.36 .25l1.83 .5l13.25 1.43l-32.93 0l13.25-1.43l1.83-.5l.36-.25l.25-.5l.57-77.25l0-38.5z"/>
<path class="v" fill="#106e6e" d="M610.5 541.9l.01 10l.5 16.75l.14 1l.57 .5l1.92 .5l13.12 1.4l-32.92 0l13.12-1.4l1.92-.5l.57-.5l.14-1l.5-16.75l.01-10z"/>
<path class="v" fill="#e1befa" d="M652.1 498.53l.02 24.75l.58 45.5l.22 .5l.7 .5l1.74 .5l13.01 1.77l-32.93 0l13.01-1.77l1.74-.5l.7-.5l.22-.5l.58-45.5l.01-24.75z"/>
<path class="v" fill="#96693a" d="M693.71 497.43l.02 25.25l.59 46.5l.31 .5l.39 .25l1.74 .5l13.21 1.62l-32.92 0l13.21-1.62l1.74-.5l.39-.25l.31-.5l.59-46.5l.02-25.25z"/>
<path class="v" fill="#6e0f0f" d="M735.76 551.1l.05 11.5l.21 1.5l.58 1.25l1 1l1.75 1l2.6 1l7.17 2.25l1.67 .75l.73 .7l-32.81 0l.73-.7l1.67-.75l7.17-2.25l2.6-1l1.75-1l1-1l.58-1.25l.21-1.5l.05-11.5z"/>
<path class="v" fill="#aff3c8" d="M777 551.1l.61 17.25l.07 .75l.23 .5l.82 .5l2.2 .5l12.25 1.45l-32.92 0l12.25-1.45l2.2-.5l.82-.5l.23-.5l.07-.75l.61-17.25z"/>
<path class="v" fill="#707014" d="M818.52 523.94l.03 16.5l.47 24.25l.2 2l.38 .75l.53 .5l2.19 1l2.92 .75l7.29 1.5l1.62 .5l.64 .36l-32.93 0l.64-.36l1.62-.5l7.29-1.5l2.92-.75l2.19-1l.53-.5l.38-.75l.2-2l.47-24.25l.02-16.5z"/>
<path class="v" fill="#f8d7b9" d="M860.21 515.17l.23 24l.42 25.75l.16 1.75l.34 .75l.49 .5l2.07 1l2.83 .75l7.31 1.5l1.65 .5l.68 .38l-32.92 0l.68-.38l1.65-.5l7.31-1.5l2.83-.75l2.07-1l.49-.5l.34-.75l.16-1.75l.42-25.75l.23-24z"/>
<path class="v" fill="#0f0f69" d="M901.74 523.5l.02 16.75l.47 24.5l.22 2l.66 1l1.88 1l2.62 .75l8.37 1.75l2.02 .8l-32.93 0l2.02-.8l8.37-1.75l2.62-.75l1.88-1l.66-1l.22-2l.47-24.5l.02-16.75z"/>
<path class="v" fill="#808080" d="M943.34 463.04l.01 36.5l.5 61.25l.14 3l.24 1l.39 .75l.69 .75l1.1 .75l2.96 1.25l8.2 2.5l1.14 .5l.89 .76l-32.92 0l.89-.76l1.14-.5l8.2-2.5l2.96-1.25l1.1-.75l.69-.75l.39-.75l.24-1l.14-3l.5-61.25l.01-36.5z"/>
<path class="v" fill="#aacde1" d="M984.94 494.58l.02 44l.27 23l.21 2.5l.35 1l.53 .75l1.72 1.25l3.09 1.25l8.17 2.5l1.11 .5l.8 .72l-32.93 0l.8-.72l1.11-.5l8.17-2.5l3.09-1.25l1.72-1.25l.53-.75l.35-1l.21-2.5l.27-23l.01-44z"/>
<path class="v" fill="#2d73aa" d="M1026.55 464.14l.01 35.5l.5 59.25l.18 3.5l.35 1.25l.57 1l.72 .75l1.02 .75l3.11 1.5l7.54 2.75l1.44 .75l.82 .91l-32.92 0l.82-.91l1.44-.75l7.54-2.75l3.11-1.5l1.02-.75l.72-.75l.57-1l.35-1.25l.18-3.5l.5-59.25l.01-35.5z"/>
<path class="v" fill="#96cdc3" d="M1068.46 467.43l.03 63l.2 7.25l.48 5l1.08 4.75l1.75 4.25l2.64 4.25l5.89 7.5l1.89 2.75l1.42 3l.38 1.5l.14 1.37l-32.81 0l.14-1.37l.38-1.5l1.42-3l1.89-2.75l5.89-7.5l2.64-4.25l1.75-4.25l1.08-4.75l.48-5l.2-7.25l.03-63z"/>
<path class="v" fill="#b4d791" d="M1109.76 491.08l0 26l.31 25.5l.21 6.5l.48 3.75l1.05 3.25l.8 1.5l1.07 1.5l2.67 2.75l7.47 6.25l1.59 2l.5 1.25l.11 .72l-32.92 0l.11-.72l.5-1.25l1.59-2l7.47-6.25l2.67-2.75l1.07-1.5l.8-1.5l1.05-3.25l.48-3.75l.21-6.5l.31-25.5l0-26z"/>
<path class="v" fill="#f0be78" d="M1151.36 462.39l.01 35.5l.5 60.75l.15 3.5l.28 1.25l.5 1l.89 1l1.02 .75l3.11 1.5l7.54 2.75l1.44 .75l.83 .91l-32.93 0l.83-.91l1.44-.75l7.54-2.75l3.11-1.5l1.02-.75l.89-1l.5-1l.28-1.25l.15-3.5l.5-60.75l0-35.5z"/>
<defs><linearGradient id="g1_0" gradientUnits="userSpaceOnUse" x1="0" x2="0" y1="360.3" y2="572.1"><stop offset="0" stop-opacity="0"/><stop offset=".34" stop-opacity=".02"/><stop offset=".71" stop-opacity="0"/><stop offset=".97" stop-opacity=".01"/><stop offset="1" stop-opacity="0"/></linearGradient><mask id="m1_0" maskUnits="userSpaceOnUse" x="177.6" y="359.3" width="33.4" height="213.7"><rect x="177.6" y="359.3" width="33.4" height="213.7" fill="url(#g1_0)"/></mask><linearGradient id="g1_1" gradientUnits="userSpaceOnUse" x1="0" x2="0" y1="353.6" y2="572.1"><stop offset="0" stop-opacity="0"/><stop offset=".1" stop-opacity="0"/><stop offset=".3" stop-opacity=".04"/><stop offset=".44" stop-opacity=".05"/><stop offset=".74" stop-opacity=".01"/><stop offset=".97" stop-opacity=".01"/><stop offset="1" stop-opacity="0"/></linearGradient><mask id="m1_1" maskUnits="userSpaceOnUse" x="219.2" y="352.6" width="33.4" height="220.4"><rect x="219.2" y="352.6" width="33.4" height="220.4" fill="url(#g1_1)"/></mask><linearGradient id="g1_2" gradientUnits="userSpaceOnUse" x1="0" x2="0" y1="428.6" y2="572.1"><stop offset="0" stop-opacity="0"/><stop offset=".49" stop-opacity=".02"/><stop offset="1" stop-opacity="0"/></linearGradient><mask id="m1_2" maskUnits="userSpaceOnUse" x="260.8" y="427.6" width="33.4" height="145.4"><rect x="260.8" y="427.6" width="33.4" height="145.4" fill="url(#g1_2)"/></mask><linearGradient id="g1_3" gradientUnits="userSpaceOnUse" x1="0" x2="0" y1="378.5" y2="572.1"><stop offset="0" stop-opacity="0"/><stop offset=".58" stop-opacity=".03"/><stop offset="1" stop-opacity="0"/></linearGradient><mask id="m1_3" maskUnits="userSpaceOnUse" x="302.4" y="377.5" width="33.4" height="195.5"><rect x="302.4" y="377.5" width="33.4" height="195.5" fill="url(#g1_3)"/></mask><linearGradient id="g1_4" gradientUnits="userSpaceOnUse" x1="0" x2="0" y1="405.4" y2="572.1"><stop offset="0" stop-opacity="0"/><stop offset=".24" stop-opacity=".01"/><stop offset=".34" stop-opacity=".03"/><stop offset=".54" stop-opacity=".11"/><stop offset=".65" stop-opacity=".13"/><stop offset=".73" stop-opacity=".11"/><stop offset=".84" stop-opacity=".05"/><stop offset=".95" stop-opacity=".02"/><stop offset="1" stop-opacity=".01"/></linearGradient><mask id="m1_4" maskUnits="userSpaceOnUse" x="344" y="404.4" width="33.4" height="168.6"><rect x="344" y="404.4" width="33.4" height="168.6" fill="url(#g1_4)"/></mask><linearGradient id="g1_6" gradientUnits="userSpaceOnUse" x1="0" x2="0" y1="391.8" y2="572.1"><stop offset="0" stop-opacity="0"/><stop offset=".12" stop-opacity="0"/><stop offset=".41" stop-opacity=".06"/><stop offset=".55" stop-opacity=".07"/><stop offset=".64" stop-opacity=".06"/><stop offset=".81" stop-opacity=".02"/><stop offset=".97" stop-opacity=".01"/><stop offset="1" stop-opacity="0"/></linearGradient><mask id="m1_6" maskUnits="userSpaceOnUse" x="427.2" y="390.8" width="33.4" height="182.2"><rect x="427.2" y="390.8" width="33.4" height="182.2" fill="url(#g1_6)"/></mask><linearGradient id="g1_7" gradientUnits="userSpaceOnUse" x1="0" x2="0" y1="383.2" y2="572.1"><stop offset="0" stop-opacity="0"/><stop offset=".11" stop-opacity=".01"/><stop offset=".34" stop-opacity=".08"/><stop offset=".44" stop-opacity=".09"/><stop offset=".51" stop-opacity=".08"/><stop offset=".78" stop-opacity=".01"/><stop offset=".97" stop-opacity=".01"/><stop offset="1" stop-opacity="0"/></linearGradient><mask id="m1_7" maskUnits="userSpaceOnUse" x="468.8" y="382.2" width="33.4" height="190.8"><rect x="468.8" y="382.2" width="33.4" height="190.8" fill="url(#g1_7)"/></mask><linearGradient id="g1_9" gradientUnits="userSpaceOnUse" x1="0" x2="0" y1="453.6" y2="572.1"><stop offset="0" stop-opacity=".01"/><stop offset=".36" stop-opacity="0"/><stop offset=".95" stop-opacity=".03"/><stop offset="1" stop-opacity="0"/></linearGradient><mask id="m1_9" maskUnits="userSpaceOnUse" x="552" y="452.6" width="33.4" height="120.4"><rect x="552" y="452.6" width="33.4" height="120.4" fill="url(#g1_9)"/></mask><linearGradient id="g1_11" gradientUnits="userSpaceOnUse" x1="0" x2="0" y1="498.5" y2="572.1"><stop offset="0" stop-opacity="0"/><stop offset=".92" stop-opacity=".02"/><stop offset="1" stop-opacity="0"/></linearGradient><mask id="m1_11" maskUnits="userSpaceOnUse" x="635.2" y="497.5" width="33.4" height="75.5"><rect x="635.2" y="497.5" width="33.4" height="75.5" fill="url(#g1_11)"/></mask><linearGradient id="g1_12" gradientUnits="userSpaceOnUse" x1="0" x2="0" y1="497.4" y2="572.1"><stop offset="0" stop-opacity="0"/><stop offset=".92" stop-opacity=".02"/><stop offset="1" stop-opacity="0"/></linearGradient><mask id="m1_12" maskUnits="userSpaceOnUse" x="676.8" y="496.4" width="33.4" height="76.6"><rect x="676.8" y="496.4" width="33.4" height="76.6" fill="url(#g1_12)"/></mask><linearGradient id="g1_18" gradientUnits="userSpaceOnUse" x1="0" x2="0" y1="463" y2="572.1"><stop offset="0" stop-opacity="0"/><stop offset=".94" stop-opacity=".01"/><stop offset="1" stop-opacity="0"/></linearGradient><mask id="m1_18" maskUnits="userSpaceOnUse" x="926.4" y="462" width="33.4" height="111"><rect x="926.4" y="462" width="33.4" height="111" fill="url(#g1_18)"/></mask><linearGradient id="g1_20" gradientUnits="userSpaceOnUse" x1="0" x2="0" y1="464.1" y2="572.1"><stop offset="0" stop-opacity="0"/><stop offset=".94" stop-opacity=".01"/><stop offset="1" stop-opacity="0"/></linearGradient><mask id="m1_20" maskUnits="userSpaceOnUse" x="1009.6" y="463.1" width="33.4" height="109.9"><rect x="1009.6" y="463.1" width="33.4" height="109.9" fill="url(#g1_20)"/></mask></defs>
<rect x="177.6" y="359.3" width="33.4" height="213.7" fill="url(#hz)" mask="url(#m1_0)"/><rect x="219.2" y="352.6" width="33.4" height="220.4" fill="url(#hz)" mask="url(#m1_1)"/><rect x="260.8" y="427.6" width="33.4" height="145.4" fill="url(#hz)" mask="url(#m1_2)"/><rect x="302.4" y="377.5" width="33.4" height="195.5" fill="url(#hz)" mask="url(#m1_3)"/><rect x="344" y="404.4" width="33.4" height="168.6" fill="url(#hz)" mask="url(#m1_4)"/><rect x="427.2" y="390.8" width="33.4" height="182.2" fill="url(#hz)" mask="url(#m1_6)"/><rect x="468.8" y="382.2" width="33.4" height="190.8" fill="url(#hz)" mask="url(#m1_7)"/><rect x="552" y="452.6" width="33.4" height="120.4" fill="url(#hz)" mask="url(#m1_9)"/><rect x="635.2" y="497.5" width="33.4" height="75.5" fill="url(#hz)" mask="url(#m1_11)"/><rect x="676.8" y="496.4" width="33.4" height="76.6" fill="url(#hz)" mask="url(#m1_12)"/><rect x="926.4" y="462" width="33.4" height="111" fill="url(#hz)" mask="url(#m1_18)"/><rect x="1009.6" y="463.1" width="33.4" height="109.9" fill="url(#hz)" mask="url(#m1_20)"/>
<path d="M177.65 571.85H191.96M196.54 571.85H210.85M219.25 571.85H231.34M240.37 571.85H252.45M260.86 571.85H265.36M289.56 571.85H294.06M302.46 571.85H308.04M330.09 571.85H335.67M385.67 571.85H391.89M412.66 571.85H418.88M468.88 571.85H481.05M489.92 571.85H502.08" fill="none" stroke="#000" stroke-opacity=".22" stroke-width="1" stroke-dasharray="1 2.6"/>
<path class="dt" d="M185.9 372.1h0m-3.4 17.6h0m8.7 4.3h0m42 2.4h0m13.7 2.3h0m-18.5 1.4h0m-29.3 1.2h0m284.1 2.1h0m-157.7 1.2h0m-87 1.5h0m6.7 .3h0m-64.5 4.8h0m47.1-.5h0m261 .7h0m-279.3 .3h0m34.9 .6h0m-66.7 3.8h0m179.2 1.4h0m-105.1 .8h0m-42.5 .4h0m33.1 .6h0m255-.5h0m-183.5 1.8h0m-84.7 1.5h0m91.7-.3h0m-97.1 .8h0m24.7 1h0m-48.6 1.8h0m274.6 .1h0m-270.8 .1h0m-.5 2.4h0m22 .3h0m77.4 .2h0m126.9-.9h0m-243.6 .9h0m118.7 1.7h0m-57.2 2.1h0m1.2 2h0m59.3-.5h0m170.8 .7h0m21.2-.9h0m-313.6 1h0m290.4 .6h0m2-.2h0m-23.2 1h0m1.2 .2h0m19.8 .2h0m7.1 1.6h0m-255 .6h0m9.6 0h0m108.4 .3h0m124.2 .5h0m14.5-.4h0m-238.6 1.3h0m199.4-.2h0m.4 .2h0m40.8 .7h0m-309.6 .7h0m133.6 .7h0m138.7 0h0m28 .1h0m5.8-.9h0m-258.9 1.6h0m7.1-.3h0m205.7 .6h0m51.9-.4h0m-185.4 1.1h0m177.2-.3h0m-11.8 .8h0m-110.9 1.2h0m120.2 .2h0m-270.3 .6h0m.5 .5h0m119.6-.7h0m43.4 .6h0m100.1 0h0m-244.7 .8h0m23-.3h0m52.8 .9h0m190.1-.3h0m-172.5 .9h0m27.5 .8h0m-38.6 .8h0m145.5 .1h0m43.9 .1h0m-167.6 .7h0m33.2 .1h0m104.4 .1h0m22.8-.2h0m-283.4 1h0m31.8 1.2h0m252.5 .5h0m-286 .7h0m16.8 0h0m27.5 1.2h0m53.1-.1h0m47.5 .2h0m-23.7 .5h0m101.4 0h0m16 .5h0m5.3 .1h0m-266.5 .5h0m24.5 .2h0m98.7 .2h0m26.2-.6h0m106.2 .3h0m18.3 .4h0m-278.4 .5h0m92.8 .1h0m172.2-.2h0m33.2-.1h0m-238.4 1.7h0m238 0h0m-46.9 .8h0m3.8-.3h0m-239.1 .9h0m163.3 .3h0m98.9 .2h0m34.5 0h0m-239.7 .8h0m98.7-.6h0m9.6 .9h0m139.7-.4h0m-293.5 .6h0m15.1 .7h0m9.3-.3h0m256.4-.3h0m440.8 .4h0m-729.5 1h0m5.4 .4h0m250.8-.1h0m-267.6 1.3h0m8 .2h0m177.7 0h0m70.3 .1h0m39.2-.3h0m-304.3 1.3h0m184.2 .3h0m70.4-.6h0m7.4 .1h0m1.6 .4h0m573.8 .2h0m-571.3 .3h0m13.5 .5h0m29.2-.5h0m445.7 .8h0m-493.2 0h0m.6 .7h0m10.6-.5h0m-217.9 .8h0m205.8 .7h0m62.3-.5h0m-291.3 1.5h0m267.9-.3h0m473.2 .5h0m-492.8 .9h0m-222.8 .9h0m123.2-.3h0m120.2 .2h0m93.2-.3h0m-299.3 .8h0m.2 .9h0m73.8-.9h0m132.6 .3h0m-157.7 .9h0m30.7-.2h0m4.8 .4h0m82.8 .1h0m29.1 0h0m18.1-.4h0m97.7 .8h0m-270.6 1.6h0m41.7-.5h0m17.9 .2h0m71.2-.2h0m36.5 .3h0m2.5 .3h0m6.9-.3h0m7.9-.3h0m-260.3 1.7h0m2.7 .2h0m110.3-.3h0m140.4-.6h0m-241 1.2h0m191.5 0h0m128.3 .4h0m-380.3 .7h0m55.5 .1h0m67.5 .4h0m32.2-.4h0m5.3-.4h0m2.2 .2h0m-32 1.1h0m49.8 .6h0m81.7-.6h0m123.7-.4h0m-245.2 1.7h0m22.7 0h0m98.1-.6h0m39.3 .8h0m-223.4 1.1h0m187.3-.9h0m125.4-.1h0m-376 1.2h0m112.7 .3h0m51.2 0h0m43.9 .3h0m87.4 0h0m56.3-.6h0m6.3 .2h0m19.6 .6h0m-265.2 .8h0m7.8-.1h0m19.7 0h0m1 .3h0m154.9-1h0m-315.4 1.5h0m118.1-.3h0m53.2 .4h0m118 .1h0m7.2-.4h0m-258.2 .7h0m26.5 .8h0m110.9 .2h0m11-1h0m87.3 .4h0m17.2-.4h0m-281.3 1.2h0m47.3 .5h0m7.5-.4h0m77.1 .3h0m39.3-.3h0m-146.1 1h0m133.5-.2h0m2.9 .9h0m5.6-.3h0m83.2-.7h0m10.1 .6h0m34.5-.4h0m5 .4h0m88.1-.6h0m-271.7 1.3h0m-129.1 1.7h0m20.7-.4h0m157.8-.6h0m11.8 .1h0m55.6 .6h0m52.5-.3h0m9.3 .3h0m87.7 0h0m1.8-.7h0m-263.1 1.3h0m37.6 .3h0m19 .3h0m64.5-.1h0m713.6 .1h0m-804.5 1.1h0m5.8-.7h0m4.5 .1h0m3.4 0h0m14 .2h0m.4 0h0m55.1 .2h0m135.7-.3h0m601.1-.3h0m-725.4 1.7h0m7.8 0h0m11-.4h0m40.1-.3h0m-229 1.7h0m36.4 .1h0m24.6-1h0m13.6 .2h0m11.8 .5h0m81.4-.3h0m52.8 .5h0m-212.4 .5h0m48.7-.4h0m109.3 0h0m48 .8h0m93.7-.1h0m.3-.5h0m431.2 .1h0m-786.4 1.6h0m19.4-.3h0m4.9 .4h0m44.9-.9h0m157.5 .5h0m518.7-.1h0m-733.9 1h0m7.2-.3h0m71.3-.1h0m42.2 .3h0m11 .4h0m71.6-.8h0m124.3 .1h0m86.9 .6h0m381.8 .3h0m136.1-.6h0m-943.2 .8h0m126.8 .4h0m87.8 1.2h0m41.3-.5h0m18.6 .3h0m482.1-.1h0m-794.2 1h0m3.7-.4h0m72.9 .9h0m46.9-.5h0m356.3-.2h0m-469.2 1.4h0m48.1-.3h0m65 0h0m63.1 .5h0m73.3-.8h0m51 .4h0m80.5 0h0m6.3-.5h0m110.8 .7h0m-392.4 .9h0m53.6 0h0m88.1-.3h0m-243.6 1.4h0m27 .2h0m24.3-.6h0m217.9 .6h0m3.9-.5h0m-285.7 .8h0m161.1 .7h0m2.5-.8h0m19.9 .8h0m1.1-.4h0m-140.2 .7h0m117.1 .7h0m3.6-.1h0m10-.7h0m96.6 .4h0m598.8-.3h0m97.3 .2h0m-977.8 1.1h0m10.1 .4h0m35.9 .1h0m86.8-.7h0m161.3 0h0m6.4 .4h0m8.6-.2h0m490.8 0h0m-750.8 .8h0m116.9 .7h0m9.1-.2h0m129.7 .1h0m165.3-.5h0m-409.1 1.2h0m27.3 0h0m1.2-.4h0m77.6 .5h0m14.9-.5h0m16.6 .6h0m100.7-.6h0m99.9-.2h0m2.1 .8h0m-138.3 .7h0m113.5 .5h0m3.7-.9h0m583.3 .1h0m-814 1.8h0m26.3-1h0m3.3 .6h0m70.6 .2h0m132.1-.4h0m455.6 .1h0m35.9-.2h0m-813.4 .8h0m40.5 0h0m83.2 .7h0m11.8-.6h0m55.9 .6h0m48.5 0h0m10.5-.3h0m80.8 0h0m2.2-.2h0m5.7 .6h0m399.4-.7h0m-755.1 1.5h0m123.8 .2h0m96.1-.6h0m208.3 .6h0m-405 .5h0m99.1-.3h0m95.4 .6h0m53.4-.1h0m-133.1 .4h0m15.6 0h0m.8 .2h0m113.7 0h0m211.1 .7h0m444.2-.8h0m-796.4 1.6h0m26.6-.4h0m77.5 .1h0m35-.3h0m211 .1h0m402.6 .4h0m-794.5 1.3h0m60.1-.3h0m216.9-.2h0m429.9-.3h0m7.4 .5h0m-756.5 1.1h0m92.8-.6h0m97.1 .2h0m-269.1 1.5h0m5.4-.6h0m169.3 .1h0m99.2 .6h0m55.5-.8h0m-268.5 1.1h0m26.6 .4h0m71.5 .1h0m11.1 .1h0m159.2 0h0m44.9-.6h0m-331.8 1.1h0m120.4 .1h0m21.3 .2h0m122-.5h0m93.2 .9h0m50.8-.5h0m442.2-.4h0m-870 1.1h0m106.4 .6h0m17.1-.5h0m43.7 .2h0m63.9 .1h0m.1-.6h0m-213.6 1.2h0m120.8 0h0m359.3 .6h0m333.7 .1h0m-796.5 .9h0m400.6 .2h0m298.9-.9h0m-611.4 1.3h0m28.9 .6h0m4.2-.3h0m4.5-.5h0m185.6 .5h0m.3-.2h0m.1 .3h0m149.6-.4h0m315.8 .5h0m-646.2 .6h0m63 0h0m9.4-.3h0m-257.4 1.6h0m159.4-.6h0m18.6 .1h0m176 .3h0m153.6-.3h0m-453.9 1.4h0m79.9-.2h0m49.1-.2h0m122 .2h0m-143 1.3h0m208.4-.1h0m12.8-.3h0m7.4-.3h0m1.2 0h0m84.3 .8h0m-402.1 .5h0m20.3-.3h0m70.5 0h0m118.5 .5h0m88-.1h0m23.5-.2h0m106-.1h0m3.9 .2h0m303.3 .2h0m-756.8 .7h0m108.5-.1h0m8.7 .4h0m76-.1h0m62-.1h0m71.8-.3h0m139.4 .4h0m-344.3 1.1h0m86-.1h0m537.1 .5h0m-790.8 .5h0m32-.2h0m35.8 .5h0m93-.1h0m5.8-.5h0m98.1 0h0m39.6 .4h0m74.2-.5h0m-390.6 1.7h0m51.4-.7h0m32.4 .6h0m88.3-.5h0m344.4 .1h0m175-.2h0m97.6 .1h0m-788 1.1h0m47.2 0h0m100-.2h0m224.1 .2h0m29.8 .2h0m363-.5h0m3.5 .8h0m-716.8 .5h0m2.2 .7h0m43.2-.3h0m302.9 .2h0m1.6-.2h0m-129.2 1.2h0m410.3-.6h0m63 .2h0m97.7 .4h0m-711 .8h0m31.6 .3h0m215.2-.5h0m-254.5 1.2h0m50.8 .1h0m93.4-.3h0m124.7 .4h0m72.3-.4h0m-466.2 1.5h0m99.2-.9h0m26.4 .3h0m122.9-.4h0m28.7 .6h0m1.1-.4h0m35.8-.2h0m192.3 .1h0m179.9 .3h0m196.1-.1h0m76.2 .3h0m-958.2 .4h0m26.7 .7h0m241.6-.4h0m19.5 .5h0m445.5 .2h0m33.8-.9h0m74.1 .3h0m-838.6 .7h0m15.5 .6h0m35.4-.4h0m139.8 .3h0m97.9-.6h0m13.6 .5h0m9.6 .1h0m2.9-.4h0m60 .3h0m104-.2h0m165.8 .2h0m200.7 0h0m-823.8 1.4h0m141.4-.5h0m4.9 .1h0m1.5-.3h0m94.7 .1h0m111.2 .2h0m140.5 .5h0m231.1-.6h0m12.3 .5h0m30-.4h0m132-.4h0m-778.9 1.9h0m29.2-.1h0m79-.1h0m50.1-.2h0m154.7 .2h0m18.7-.8h0m20.8 .8h0m179.1-.7h0m74.1 .3h0m215.9-.2h0m-799.4 1.6h0m21.2-.2h0m24.3-.1h0m81.8-.2h0m163.9 .4h0m6.3 .2h0m284.1 0h0m79.7-.8h0m93.8 .5h0m-769.3 1.2h0m41.5-.5h0m59.8 .3h0m246.9 .1h0m291.6 .1h0m-743.9 1.1h0m127.5-.4h0m13.4 .3h0m115.2-.3h0m77.1 .4h0m9-.6h0m105.6 .6h0m131.1-.4h0m139.9-.5h0m4.7 .9h0m185.7-.8h0m-956.8 1.3h0m5.2 0h0m93.8 .3h0m27-.2h0m60.9-.3h0m1.5 .1h0m204.4-.2h0m226 .4h0m106.8 .4h0m104-.9h0m9.8 .8h0m5-.7h0m78.6 .8h0m-664.7 .5h0m7.3 .3h0m45-.4h0m89.1 .7h0m69.5-1h0m27.1 .5h0m172.1-.4h0m34.2 .3h0m150.1-.4h0m120.9 .3h0m1.5 .1h0m-866.1 1.2h0m195.4-.1h0m2.7 .5h0m25.9-.7h0m47-.3h0m87.6 .4h0m171.7 .3h0m193.9-.5h0m76.8 0h0m-906.5 1.6h0m40.4-.6h0m12.2 .6h0m113-.4h0m83.4 .4h0m46.5-.4h0m48.7 .1h0m24.6 .3h0m462-.4h0m10.3-.4h0m24.7 .4h0m-611.8 1.2h0m127.6-.5h0m5.1 .5h0m79.4-.5h0m2.9 0h0m5.1 .7h0m2-.7h0m15.1 .4h0m91.6-.2h0m223.8 0h0m5.2 0h0m76.7-.1h0m64.2 0h0m-937.6 1.7h0m102.1-.7h0m150.9 .2h0m37.6 0h0m195.3 .3h0m269.4-.6h0m76.2-.1h0m7.8 .9h0m12-.7h0m-872.4 1.8h0m49-.8h0m134.2 .3h0m84.2 .3h0m168.6-.2h0m65.1-.5h0m133.6 .8h0m113.1-.3h0m69.3-.2h0m20-.3h0m57 .8h0m66.7-.5h0m16.6 0h0m-795.8 1.3h0m121.9 0h0m49.2 .3h0m39.3-.5h0m2.1-.1h0m5.3 .5h0m101.1-.1h0m277.1-.3h0m30.2 .4h0m176.3-.1h0m-729.6 .5h0m24.7 .4h0m78.8-.1h0m484.3-.6h0m-773.6 1.5h0m96.8 0h0m19.3-.5h0m4.1 .3h0m71.9 .2h0m16.1-.4h0m96.1 .7h0m18.3-.3h0m5 .3h0m37.8-.6h0m6.3 .3h0m390 .2h0m2.3-.4h0m1.8 .1h0m126.5 .2h0m-793.7 .8h0m85.4 .5h0m2.7-.8h0m137.9 .2h0m124.4-.3h0m2.8 .7h0m197.9-.6h0m56.2-.1h0m77.4 .9h0m-837.3 .3h0m36 .1h0m84 .5h0m3.3-.8h0m2.3 .8h0m49.9-.5h0m22.7 .5h0m35.9-.1h0m.9-.5h0m7.5 .2h0m117.3 .4h0m2.5-.4h0m15.4-.1h0m9.2 .7h0m37.1-.2h0m337.3-.5h0m33-.2h0m-811.6 1.3h0m32.3-.4h0m55.3 .1h0m46.7 .1h0m32.3-.1h0m23.7 .3h0m88 .3h0m16.9-.6h0m25.8 0h0m74.5 .4h0m89-.2h0m25.2 0h0m18.9-.1h0m30-.2h0m256.8 .8h0m41.9-.1h0m-832.8 .4h0m118.2 .3h0m43.1 .5h0m76.3 .1h0m123.8-.2h0m17.2 .1h0m81-.2h0m6.1-.7h0m10.2 .4h0m1.2 0h0m.4-.3h0m12.3 .4h0m87.4-.4h0m152.1 .2h0m4 .2h0m115.5 0h0m-865 1.3h0m64.4-.7h0m55.3 .8h0m90.7-.7h0m135.6-.1h0m106.1 .6h0m19.1 .1h0m45.1-.8h0m161.1 .6h0m29.6-.1h0m-650.5 1.4h0m195.4-.2h0m41.5 .2h0m21.3-.8h0m29.2 .2h0m24.3 .5h0m70.7-.2h0m12.2-.6h0m2.4 0h0m37.5 .1h0m.4 .5h0m5.9-.2h0m81.1 .6h0m387.5-.3h0m-698.1 1.1h0m189.1-.5h0m53.7 .1h0m153.1-.2h0m26.1 .3h0m9.3 .2h0m89.5 .1h0m13-.3h0m2 .2h0m114.1-.6h0m39.5 0h0m-901.2 .9h0m80.3 .9h0m173.6-.8h0m5 .8h0m114.8-.3h0m21.5 .3h0m58.3-.3h0m32.2-.2h0m123.2-.3h0m47.3 .5h0m53-.1h0m-726.6 1.3h0m222.4-.8h0m192.4 .3h0m84.4-.2h0m86.3 .8h0m45.3 .1h0m115.1-.1h0m49.2-.3h0m4.2-.5h0m121.3 .6h0m-958.7 .5h0m352.2 .6h0m.3-.8h0m37.7 1h0m124.7-.9h0m-217 1.1h0m182.1 .1h0m275.3-.3h0m11.8 .4h0m146.2 .1h0"/>
<rect class="ax" x="173" y="342" width="998" height="240.75"/>
<path class="tk" d="M173 432.95h-8M173 571.85h-8"/>
<text x="158.4" y="444.28" text-anchor="end">2</text>
<text x="158" y="583.18" text-anchor="end">0</text>
<text x="672.7" y="328.1" text-anchor="middle">GAD2</text>
<text transform="translate(125.3 464.77) rotate(-90)" text-anchor="middle">GAD2</text>
</g>
<g>
<path class="v" fill="#cc2957" d="M194.45 760.37l.12 46l.34 33.75l.34 5.25l.33 1.5l.57 1.5l.91 1.5l1.11 1.25l2.82 2.25l7.54 4.75l1.58 1.5l.47 1l.13 .68l-32.92 0l.13-.68l.47-1l1.58-1.5l7.54-4.75l2.82-2.25l1.11-1.25l.91-1.5l.57-1.5l.33-1.5l.34-5.25l.34-33.75l.12-46z"/>
<path class="v" fill="#43a350" d="M236.14 739.34l.59 97.75l.09 4.75l.23 2.75l.36 1.75l.54 1.5l.85 1.5l1.02 1.25l2.59 2.25l7.86 5.25l1.48 1.5l.44 1l.13 .71l-32.93 0l.13-.71l.44-1l1.48-1.5l7.86-5.25l2.59-2.25l1.02-1.25l.85-1.5l.54-1.5l.36-1.75l.23-2.75l.09-4.75l.59-97.75z"/>
<path class="v" fill="#e5cf30" d="M277.66 776.79l0 26.5l.17 16.75l.29 22.25l.38 4.5l.41 1.5l.58 1.25l.87 1.25l.95 1l2.66 2l8.03 4.75l1.37 1.25l.55 1.51l-32.92 0l.55-1.51l1.37-1.25l8.03-4.75l2.66-2l.95-1l.87-1.25l.58-1.25l.41-1.5l.38-4.5l.29-22.25l.17-16.75l0-26.5z"/>
<path class="v" fill="#536fcd" d="M319.35 762.34l.54 73.25l.14 5.25l.3 3l.4 1.75l.57 1.5l.86 1.5l.98 1.25l2.74 2.5l7.61 5.5l1.4 1.5l.52 1.25l.12 .71l-32.93 0l.12-.71l.52-1.25l1.4-1.5l7.61-5.5l2.74-2.5l.98-1.25l.86-1.5l.57-1.5l.4-1.75l.3-3l.14-5.25l.54-73.25z"/>
<path class="v" fill="#e38741" d="M360.87 753.14l.07 43.75l.41 45.25l.27 5l.42 1.75l.56 1.25l.88 1.25l1 1l2.86 2l7.75 4.25l1.48 1.25l.56 1.41l-32.92 0l.56-1.41l1.48-1.25l7.75-4.25l2.86-2l1-1l.88-1.25l.56-1.25l.42-1.75l.27-5l.41-45.25l.07-43.75z"/>
<path class="v" fill="#8a2ba3" d="M402.49 774.65l.1 25.75l.42 14.25l1.03 12.5l1.85 12.75l1.15 4.75l.67 1.75l.91 1.75l1 1.5l1.44 1.75l6.12 6.25l1.09 1.75l.27 .75l.14 1.15l-32.81 0l.14-1.15l.27-.75l1.09-1.75l6.12-6.25l1.44-1.75l1-1.5l.91-1.75l.67-1.75l1.15-4.75l1.85-12.75l1.03-12.5l.42-14.25l.1-25.75z"/>
<path class="v" fill="#53dbde" d="M444.08 708.24l.04 57.25l.45 72l.23 6l.32 2l.55 1.75l.78 1.5l.94 1.25l2.74 2.5l8.11 5.5l1.49 1.5l.45 1l.16 .81l-32.92 0l.16-.81l.45-1l1.49-1.5l8.11-5.5l2.74-2.5l.94-1.25l.78-1.5l.55-1.75l.32-2l.23-6l.45-72l.04-57.25z"/>
<path class="v" fill="#dc3ddc" d="M485.68 754.67l.08 43.5l.4 44l.28 5l.34 1.5l.51 1.25l.83 1.25l.94 1l2.73 2l8.17 4.5l1.45 1.25l.54 1.38l-32.93 0l.54-1.38l1.45-1.25l8.17-4.5l2.73-2l.94-1l.83-1.25l.51-1.25l.34-1.5l.28-5l.4-44l.07-43.5z"/>
<path class="v" fill="#acde23" d="M527.31 715.5l.02 103.75l.19 9.5l.64 14.25l.34 2l.46 1.5l.72 1.5l1.06 1.5l1.44 1.5l1.49 1.25l6.09 4.25l1.87 1.5l1.46 1.75l.24 .5l.16 1.05l-32.8 0l.16-1.05l.24-.5l1.46-1.75l1.87-1.5l6.09-4.25l1.49-1.25l1.44-1.5l1.06-1.5l.72-1.5l.46-1.5l.34-2l.64-14.25l.19-9.5l.02-103.75z"/>
<path class="v" fill="#f0c3be" d="M568.9 662.65l.01 13.25l.17 5.25l.78 10.25l.99 6.5l1.11 4.5l1.35 4l2.07 4.75l4.41 9.25l2.45 6.25l1.22 4l.98 4l.43 2.75l.13 2.5l-.13 2.75l-.43 3.75l-.64 4l-.81 3.75l-1.6 5.75l-5.14 15.25l-3.14 10.5l-1.52 6.25l-1.2 7.5l-.49 4.75l-.38 6.5l-.45 17.75l-.13 17.5l.55 15.4l-1.59 0l.55-15.4l-.13-17.5l-.45-17.75l-.38-6.5l-.49-4.75l-1.2-7.5l-1.52-6.25l-3.14-10.5l-5.14-15.25l-1.6-5.75l-.81-3.75l-.64-4l-.43-3.75l-.13-2.75l.13-2.5l.43-2.75l.98-4l1.22-4l2.45-6.25l4.41-9.25l2.07-4.75l1.35-4l1.11-4.5l.99-6.5l.78-10.25l.17-5.25l.01-13.25z"/>
<path class="v" fill="#106e6e" d="M610.66 689.44l.33 5.25l.37 3.25l.63 3.25l.93 3.5l1.89 5l6.34 12.75l2.81 6.5l1.05 3.25l.85 3.5l.44 2.75l.15 2.75l-.13 2.5l-.4 3l-.55 2.75l-.71 2.5l-2.18 5.25l-4.99 9.25l-2.44 5.5l-1.15 3.25l-1.07 3.75l-.72 3.25l-.6 3.75l-.65 7l-.27 11.75l-.07 56.61l-.44 0l-.07-56.61l-.27-11.75l-.65-7l-.6-3.75l-.72-3.25l-1.07-3.75l-1.15-3.25l-2.44-5.5l-4.99-9.25l-2.18-5.25l-.71-2.5l-.55-2.75l-.4-3l-.13-2.5l.15-2.75l.44-2.75l.85-3.5l1.05-3.25l2.81-6.5l6.34-12.75l1.89-5l.93-3.5l.63-3.25l.37-3.25l.33-5.25z"/>
<path class="v" fill="#e1befa" d="M652.1 660.79l.26 22.25l.33 4.25l.69 4.25l.99 3.75l1.63 4.5l6.18 13l1.64 4l1.6 4.5l1.13 3.75l.83 3.75l.64 4.25l.21 3.5l-.1 2.75l-.34 3.25l-.54 3.5l-.66 3l-1.48 4.75l-5.66 15.75l-2.46 7.75l-2.37 9.25l-1.37 8l-.36 3.5l-.19 4l-.44 26.25l.08 33.01l-.87 0l.08-33.01l-.44-26.25l-.19-4l-.36-3.5l-1.37-8l-2.37-9.25l-2.46-7.75l-5.66-15.75l-1.48-4.75l-.66-3l-.54-3.5l-.34-3.25l-.1-2.75l.21-3.5l.64-4.25l.83-3.75l1.13-3.75l1.6-4.5l1.64-4l6.18-13l1.63-4.5l.99-3.75l.69-4.25l.33-4.25l.25-22.25z"/>
<path class="v" fill="#96693a" d="M693.71 695.16l.18 11l.51 4.5l.81 4.25l1.21 4.75l1.23 4l6.6 17.5l3.14 9.5l.93 3.75l.86 4.75l.48 3.75l.19 3.5l-.09 3.25l-.34 3.75l-.55 4l-.62 3l-1.65 5.25l-5.46 14.75l-2.06 6.5l-2.36 9.25l-1.83 9.75l-.79 6.75l-.35 10.25l.23 6.75l.89 11.64l-2.72 0l.89-11.64l.23-6.75l-.35-10.25l-.79-6.75l-1.83-9.75l-2.36-9.25l-2.06-6.5l-5.46-14.75l-1.65-5.25l-.62-3l-.55-4l-.34-3.75l-.09-3.25l.19-3.5l.48-3.75l.86-4.75l.93-3.75l3.14-9.5l6.6-17.5l1.23-4l1.21-4.75l.81-4.25l.51-4.5l.18-11z"/>
<path class="v" fill="#6e0f0f" d="M739.7 737.13l2.55 4.25l1.28 2.5l1.67 4l1.09 3.5l.77 4l1.89 13.5l2.12 10.75l.43 3.25l.09 2.25l-.48 3.25l-1.59 4.75l-1.27 2.75l-6.16 11.75l-1.42 3.5l-1.36 4.25l-1.15 5l-.84 5.25l-.59 6.5l-.32 7.05l-2.59 0l-.32-7.05l-.59-6.5l-.84-5.25l-1.15-5l-1.36-4.25l-1.42-3.5l-6.16-11.75l-1.27-2.75l-1.59-4.75l-.48-3.25l.09-2.25l.43-3.25l2.12-10.75l1.89-13.5l.77-4l1.09-3.5l1.67-4l1.28-2.5l2.55-4.25z"/>
<path class="v" fill="#aff3c8" d="M777.37 730.68l.9 8.5l1.7 7.5l2.26 7.25l5.61 15.75l2.68 9.25l1.74 9.25l.82 8.75l.03 3.25l-.22 3.25l-.61 4.5l-.79 4.25l-2.18 8.25l-4.5 14.75l-1.33 6l-.5 4.25l-.19 3.75l.38 12.12l-12.9 0l.38-12.12l-.19-3.75l-.5-4.25l-1.33-6l-4.5-14.75l-2.18-8.25l-.79-4.25l-.61-4.5l-.22-3.25l.03-3.25l.82-8.75l1.74-9.25l2.68-9.25l5.61-15.75l2.26-7.25l1.7-7.5l.9-8.5z"/>
<path class="v" fill="#707014" d="M819.19 683.28l1.19 8l1.58 6l1.22 3.25l1.61 3.5l5.48 10l2.22 4.75l.84 2.5l.57 2.5l.38 2.75l.13 2.75l-.22 3.75l-.84 5.75l-3.14 16.25l-1.41 5.5l-3.86 12l-2.17 7.5l-1.83 8l-1.09 7l-.76 8.25l-.46 10l-.11 48.02l-.4 0l-.1-48.02l-.46-10l-.76-8.25l-1.09-7l-1.83-8l-2.17-7.5l-3.86-12l-1.41-5.5l-3.14-16.25l-.84-5.75l-.22-3.75l.13-2.75l.38-2.75l.57-2.5l.84-2.5l2.22-4.75l5.48-10l1.61-3.5l1.22-3.25l1.58-6l1.19-8z"/>
<path class="v" fill="#f8d7b9" d="M860.58 642.17l.94 9.75l.68 3.5l1.23 5l2.25 7.5l5.75 16.75l1.75 5.75l1.09 4.25l1.47 7.5l.56 7.75l-.09 2l-.31 2l-1.43 5l-1.39 3l-5.79 10.25l-1.46 3l-2.07 5.75l-1.63 6.5l-1.03 6.25l-.65 7l-.29 9.5l-.01 16.59l-.44 0l-.01-16.59l-.29-9.5l-.65-7l-1.03-6.25l-1.63-6.5l-2.07-5.75l-1.46-3l-5.79-10.25l-1.39-3l-1.43-5l-.31-2l-.09-2l.56-7.75l1.47-7.5l1.09-4.25l1.75-5.75l5.75-16.75l2.25-7.5l1.23-5l.68-3.5l.94-9.75z"/>
<path class="v" fill="#0f0f69" d="M901.75 693.73l.51 11.25l.77 6l1 4l3.11 9.25l4.41 14.5l3.31 12.5l.96 5l.82 6l.65 7l.43 7l.19 7.5l-.06 4.5l-.34 4l-.74 5.25l-1.41 6.5l-5.04 18l-1.3 6l-.71 5l-.51 6.25l-.12 4.75l.95 17.32l-14.19 0l.95-17.32l-.12-4.75l-.51-6.25l-.71-5l-1.3-6l-5.04-18l-1.41-6.5l-.74-5.25l-.34-4l-.06-4.5l.19-7.5l.43-7l.65-7l.82-6l.96-5l3.31-12.5l4.41-14.5l3.11-9.25l1-4l.77-6l.51-11.25z"/>
<path class="v" fill="#808080" d="M943.36 722.38l.12 49.75l1.16 38.25l-.09 9.5l-.56 16l.16 5l.34 2l.53 1.75l.82 1.75l1 1.5l1.29 1.5l1.57 1.5l5.94 4.75l1.92 1.75l1.51 2l.31 .75l.16 1.17l-32.8 0l.16-1.17l.31-.75l1.51-2l1.92-1.75l5.94-4.75l1.57-1.5l1.29-1.5l1-1.5l.82-1.75l.53-1.75l.34-2l.16-5l-.56-16l-.09-9.5l1.16-38.25l.12-49.75z"/>
<path class="v" fill="#aacde1" d="M984.96 749.16l.05 50.5l.36 25.25l0 14l.26 4l.34 1.75l.61 1.75l.81 1.5l.93 1.25l2.91 2.75l5.94 4.25l2.13 1.75l1.42 1.75l.31 .75l.12 .89l-32.81 0l.12-.89l.31-.75l1.42-1.75l2.13-1.75l5.94-4.25l2.91-2.75l.93-1.25l.81-1.5l.61-1.75l.34-1.75l.26-4l0-14l.36-25.25l.05-50.5z"/>
<path class="v" fill="#2d73aa" d="M1026.57 680.41l.07 65.75l.79 46.25l-.09 11.5l-.6 28.75l.15 8l.32 2.25l.55 2l.81 1.75l.99 1.5l1.31 1.5l1.63 1.5l6.3 4.75l2.04 1.75l1.39 1.75l.35 .75l.17 1.14l-32.8 0l.17-1.14l.35-.75l1.39-1.75l2.04-1.75l6.3-4.75l1.63-1.5l1.31-1.5l.99-1.5l.81-1.75l.55-2l.32-2.25l.15-8l-.6-28.75l-.09-11.5l.79-46.25l.07-65.75z"/>
<path class="v" fill="#96cdc3" d="M1068.6 751.02l.05 60l.25 8.5l.57 6l1.04 5.25l1.7 5l2.61 5.25l5.62 9l2.04 3.75l.84 2l.61 2l.32 1.75l.11 1.78l-32.81 0l.11-1.78l.32-1.75l.61-2l.84-2l2.04-3.75l5.62-9l2.61-5.25l1.7-5l1.04-5.25l.57-6l.25-8.5l.05-60z"/>
<path class="v" fill="#b4d791" d="M1109.97 724.24l.59 14.75l1.52 23l.27 9l-.26 11.25l-1.33 20l-.41 8.5l-.05 7.75l.4 6l.97 5.5l.79 2.75l.93 2.5l1.25 2.75l1.48 2.75l5.86 9.25l2.07 3.75l.86 2l.62 2l.32 1.75l.11 1.81l-32.8 0l.11-1.81l.32-1.75l.62-2l.86-2l2.07-3.75l5.86-9.25l1.48-2.75l1.25-2.75l.93-2.5l.79-2.75l.97-5.5l.4-6l-.05-7.75l-.41-8.5l-1.33-20l-.26-11.25l.27-9l1.52-23l.59-14.75z"/>
<path class="v" fill="#f0be78" d="M1151.67 689.44l.08 47.75l.49 52.75l-.21 35.5l.28 7.25l.37 2.75l.56 2.5l.77 2.25l1.06 2.25l1.21 2l1.65 2.25l5.89 6.75l1.9 2.5l1.4 2.75l.34 1.25l.11 1.36l-32.81 0l.11-1.36l.34-1.25l1.4-2.75l1.9-2.5l5.89-6.75l1.65-2.25l1.21-2l1.06-2.25l.77-2.25l.56-2.5l.37-2.75l.28-7.25l-.21-35.5l.49-52.75l.08-47.75z"/>
<defs><linearGradient id="g2_4" gradientUnits="userSpaceOnUse" x1="0" x2="0" y1="753.1" y2="861.3"><stop offset="0" stop-opacity="0"/><stop offset=".94" stop-opacity=".01"/><stop offset="1" stop-opacity="0"/></linearGradient><mask id="m2_4" maskUnits="userSpaceOnUse" x="344" y="752.1" width="33.4" height="110.2"><rect x="344" y="752.1" width="33.4" height="110.2" fill="url(#g2_4)"/></mask><linearGradient id="g2_6" gradientUnits="userSpaceOnUse" x1="0" x2="0" y1="708.2" y2="861.3"><stop offset="0" stop-opacity="0"/><stop offset=".96" stop-opacity=".01"/><stop offset="1" stop-opacity="0"/></linearGradient><mask id="m2_6" maskUnits="userSpaceOnUse" x="427.2" y="707.2" width="33.4" height="155.1"><rect x="427.2" y="707.2" width="33.4" height="155.1" fill="url(#g2_6)"/></mask><linearGradient id="g2_7" gradientUnits="userSpaceOnUse" x1="0" x2="0" y1="754.7" y2="861.3"><stop offset="0" stop-opacity="0"/><stop offset=".94" stop-opacity=".01"/><stop offset="1" stop-opacity="0"/></linearGradient><mask id="m2_7" maskUnits="userSpaceOnUse" x="468.8" y="753.7" width="33.4" height="108.6"><rect x="468.8" y="753.7" width="33.4" height="108.6" fill="url(#g2_7)"/></mask><linearGradient id="g2_9" gradientUnits="userSpaceOnUse" x1="0" x2="0" y1="662.7" y2="861.3"><stop offset="0" stop-opacity=".01"/><stop offset=".09" stop-opacity=".01"/><stop offset=".14" stop-opacity=".03"/><stop offset=".18" stop-opacity=".05"/><stop offset=".22" stop-opacity=".12"/><stop offset=".32" stop-opacity=".34"/><stop offset=".36" stop-opacity=".4"/><stop offset=".39" stop-opacity=".41"/><stop offset=".42" stop-opacity=".4"/><stop offset=".46" stop-opacity=".36"/><stop offset=".62" stop-opacity=".12"/><stop offset=".65" stop-opacity=".08"/><stop offset=".68" stop-opacity=".05"/><stop offset=".76" stop-opacity=".02"/><stop offset=".97" stop-opacity=".03"/><stop offset="1" stop-opacity="0"/></linearGradient><mask id="m2_9" maskUnits="userSpaceOnUse" x="552" y="661.7" width="33.4" height="200.6"><rect x="552" y="661.7" width="33.4" height="200.6" fill="url(#g2_9)"/></mask><linearGradient id="g2_10" gradientUnits="userSpaceOnUse" x1="0" x2="0" y1="689.4" y2="861.3"><stop offset="0" stop-opacity="0"/><stop offset=".09" stop-opacity=".01"/><stop offset=".23" stop-opacity=".07"/><stop offset=".3" stop-opacity=".08"/><stop offset=".36" stop-opacity=".07"/><stop offset=".48" stop-opacity=".02"/><stop offset=".56" stop-opacity=".01"/><stop offset=".96" stop-opacity=".01"/><stop offset="1" stop-opacity="0"/></linearGradient><mask id="m2_10" maskUnits="userSpaceOnUse" x="593.6" y="688.4" width="33.4" height="173.9"><rect x="593.6" y="688.4" width="33.4" height="173.9" fill="url(#g2_10)"/></mask><linearGradient id="g2_11" gradientUnits="userSpaceOnUse" x1="0" x2="0" y1="660.8" y2="861.3"><stop offset="0" stop-opacity="0"/><stop offset=".11" stop-opacity=".01"/><stop offset=".15" stop-opacity=".02"/><stop offset=".19" stop-opacity=".05"/><stop offset=".3" stop-opacity=".16"/><stop offset=".34" stop-opacity=".18"/><stop offset=".38" stop-opacity=".19"/><stop offset=".44" stop-opacity=".17"/><stop offset=".58" stop-opacity=".06"/><stop offset=".67" stop-opacity=".02"/><stop offset=".7" stop-opacity=".01"/><stop offset=".97" stop-opacity=".02"/><stop offset="1" stop-opacity="0"/></linearGradient><mask id="m2_11" maskUnits="userSpaceOnUse" x="635.2" y="659.8" width="33.4" height="202.5"><rect x="635.2" y="659.8" width="33.4" height="202.5" fill="url(#g2_11)"/></mask><linearGradient id="g2_12" gradientUnits="userSpaceOnUse" x1="0" x2="0" y1="695.2" y2="861.3"><stop offset="0" stop-opacity="0"/><stop offset=".07" stop-opacity="0"/><stop offset=".12" stop-opacity=".02"/><stop offset=".34" stop-opacity=".15"/><stop offset=".43" stop-opacity=".18"/><stop offset=".51" stop-opacity=".16"/><stop offset=".67" stop-opacity=".06"/><stop offset=".77" stop-opacity=".02"/><stop offset=".8" stop-opacity=".01"/><stop offset=".96" stop-opacity=".02"/><stop offset="1" stop-opacity="0"/></linearGradient><mask id="m2_12" maskUnits="userSpaceOnUse" x="676.8" y="694.2" width="33.4" height="168.1"><rect x="676.8" y="694.2" width="33.4" height="168.1" fill="url(#g2_12)"/></mask><linearGradient id="g2_14" gradientUnits="userSpaceOnUse" x1="0" x2="0" y1="730.7" y2="861.3"><stop offset="0" stop-opacity="0"/><stop offset=".52" stop-opacity=".04"/><stop offset="1" stop-opacity="0"/></linearGradient><mask id="m2_14" maskUnits="userSpaceOnUse" x="760" y="729.7" width="33.4" height="132.6"><rect x="760" y="729.7" width="33.4" height="132.6" fill="url(#g2_14)"/></mask><linearGradient id="g2_15" gradientUnits="userSpaceOnUse" x1="0" x2="0" y1="683.3" y2="861.3"><stop offset="0" stop-opacity="0"/><stop offset=".26" stop-opacity=".04"/><stop offset=".63" stop-opacity="0"/><stop offset=".97" stop-opacity=".01"/><stop offset="1" stop-opacity="0"/></linearGradient><mask id="m2_15" maskUnits="userSpaceOnUse" x="801.6" y="682.3" width="33.4" height="180"><rect x="801.6" y="682.3" width="33.4" height="180" fill="url(#g2_15)"/></mask><linearGradient id="g2_16" gradientUnits="userSpaceOnUse" x1="0" x2="0" y1="642.2" y2="786.8"><stop offset="0" stop-opacity="0"/><stop offset=".13" stop-opacity=".01"/><stop offset=".36" stop-opacity=".06"/><stop offset=".47" stop-opacity=".07"/><stop offset=".53" stop-opacity=".06"/><stop offset=".64" stop-opacity=".02"/><stop offset=".73" stop-opacity=".01"/><stop offset="1" stop-opacity="0"/></linearGradient><mask id="m2_16" maskUnits="userSpaceOnUse" x="843.2" y="641.2" width="33.4" height="146.6"><rect x="843.2" y="641.2" width="33.4" height="146.6" fill="url(#g2_16)"/></mask><linearGradient id="g2_17" gradientUnits="userSpaceOnUse" x1="0" x2="0" y1="693.7" y2="861.3"><stop offset="0" stop-opacity="0"/><stop offset=".54" stop-opacity=".03"/><stop offset="1" stop-opacity="0"/></linearGradient><mask id="m2_17" maskUnits="userSpaceOnUse" x="884.8" y="692.7" width="33.4" height="169.6"><rect x="884.8" y="692.7" width="33.4" height="169.6" fill="url(#g2_17)"/></mask><linearGradient id="g2_18" gradientUnits="userSpaceOnUse" x1="0" x2="0" y1="722.4" y2="861.3"><stop offset="0" stop-opacity="0"/><stop offset=".65" stop-opacity=".01"/><stop offset=".96" stop-opacity=".01"/><stop offset="1" stop-opacity="0"/></linearGradient><mask id="m2_18" maskUnits="userSpaceOnUse" x="926.4" y="721.4" width="33.4" height="140.9"><rect x="926.4" y="721.4" width="33.4" height="140.9" fill="url(#g2_18)"/></mask><linearGradient id="g2_20" gradientUnits="userSpaceOnUse" x1="0" x2="0" y1="680.4" y2="861.3"><stop offset="0" stop-opacity="0"/><stop offset=".97" stop-opacity=".01"/><stop offset="1" stop-opacity="0"/></linearGradient><mask id="m2_20" maskUnits="userSpaceOnUse" x="1009.6" y="679.4" width="33.4" height="182.9"><rect x="1009.6" y="679.4" width="33.4" height="182.9" fill="url(#g2_20)"/></mask></defs>
<rect x="344" y="752.1" width="33.4" height="110.2" fill="url(#hz)" mask="url(#m2_4)"/><rect x="427.2" y="707.2" width="33.4" height="155.1" fill="url(#hz)" mask="url(#m2_6)"/><rect x="468.8" y="753.7" width="33.4" height="108.6" fill="url(#hz)" mask="url(#m2_7)"/><rect x="552" y="661.7" width="33.4" height="200.6" fill="url(#hz)" mask="url(#m2_9)"/><rect x="593.6" y="688.4" width="33.4" height="173.9" fill="url(#hz)" mask="url(#m2_10)"/><rect x="635.2" y="659.8" width="33.4" height="202.5" fill="url(#hz)" mask="url(#m2_11)"/><rect x="676.8" y="694.2" width="33.4" height="168.1" fill="url(#hz)" mask="url(#m2_12)"/><rect x="760" y="729.7" width="33.4" height="132.6" fill="url(#hz)" mask="url(#m2_14)"/><rect x="801.6" y="682.3" width="33.4" height="180" fill="url(#hz)" mask="url(#m2_15)"/><rect x="843.2" y="641.2" width="33.4" height="146.6" fill="url(#hz)" mask="url(#m2_16)"/><rect x="884.8" y="692.7" width="33.4" height="169.6" fill="url(#hz)" mask="url(#m2_17)"/><rect x="926.4" y="721.4" width="33.4" height="140.9" fill="url(#hz)" mask="url(#m2_18)"/><rect x="1009.6" y="679.4" width="33.4" height="182.9" fill="url(#hz)" mask="url(#m2_20)"/>
<path d="M552.09 860.8H566.4M570.99 860.8H585.29M593.7 860.8H608.58M612.02 860.8H626.9M635.3 860.8H649.97M653.84 860.8H668.5M676.91 860.8H690.65M696.37 860.8H710.11M760.12 860.8H768.77M784.67 860.8H793.32M801.72 860.8H816.62M820.02 860.8H834.92M884.93 860.8H892.94M910.13 860.8H918.13" fill="none" stroke="#000" stroke-opacity=".22" stroke-width="1" stroke-dasharray="1 2.6"/>
<path class="dt" d="M855.9 652.6h0m15.1 7.7h0m-305.1 2.7h0m278 3.9h0m7 1.9h0m13.8 .4h0m-3.5 .3h0m11.8 .6h0m-299.8 2.2h0m71.5 1.1h0m216.2 2.9h0m-279 .6h0m291.8 .6h0m-8.1 1.2h0m5.4 0h0m-312.8 1.1h0m289.4 1.5h0m-270.5 2.7h0m-14.7 .7h0m21.9 3.2h0m267.9 .4h0m8.8-.7h0m-206.9 1.7h0m219.8-.6h0m273.7 1.9h0m-271.7 1.2h0m154 .5h0m-470.7 .5h0m65.6-.1h0m226.2 .2h0m7.4 0h0m17.2-.2h0m287.6 .2h0m-593.1 .7h0m303.8 .4h0m-309.6 1.4h0m279.2-.5h0m-281 1.3h0m142 .7h0m100.7 0h0m-225.8 2.1h0m81.4-.1h0m187.8-.1h0m-283.8 1.2h0m293.8-.1h0m-222.1 1h0m504.1 .1h0m-572.9 1h0m69.4-.4h0m509.1 .2h0m-481.1 1.6h0m-93.4 .6h0m279.6 .3h0m-269.3 .7h0m81.6-.3h0m-106.8 1.6h0m295.3-.7h0m.6 .7h0m-291.8 .4h0m6.5 .1h0m2.1 .6h0m5.9-.1h0m9.4-.4h0m74.8 0h0m257.7 .3h0m-361.4 .7h0m8.2 .5h0m15-.5h0m4.7 .4h0m67-.2h0m5.6 .4h0m2.8-.3h0m201.3-.7h0m6.7 .3h0m174.3 .1h0m-483.4 1.3h0m19.2 .3h0m60.4-.5h0m5.3-.2h0m12.8 .1h0m212.8 0h0m142.4 .2h0m-429.3 .9h0m43.8-.3h0m26.3 .4h0m-91.6 1.1h0m5.9-.3h0m9.9-.3h0m92.5 .6h0m206.1-.2h0m-321.7 1.3h0m20.6-.4h0m4.5-.1h0m70.5 .3h0m6.3-.1h0m9.4 .3h0m189.9 0h0m-295.2 1.1h0m7.3-.6h0m1.2 .6h0m11.4 0h0m22.7-.2h0m47.6 .3h0m7.8-.4h0m9.9 .3h0m143.5-.2h0m50.9-.1h0m173.3 .4h0m-471.8 .5h0m16.7-.4h0m62.8 .5h0m10.9 .1h0m7.9-.3h0m5 .1h0m190.8 .5h0m2.4-.2h0m12.3 0h0m-272.1 1h0m5.6 0h0m209.8 0h0m33.5 .1h0m1-.7h0m-292.9 1.2h0m11.5-.2h0m3.7 .7h0m117.9-.6h0m122.2 .1h0m-245.1 1.1h0m8.2 0h0m46.4 .4h0m27.3-.6h0m10.6-.2h0m5.8 0h0m16.3 .5h0m188-.5h0m-314.8 1.5h0m25.9-.5h0m65.3 .8h0m.2-.5h0m.3-.3h0m521.6 .8h0m-612.6 .9h0m2.6 .1h0m1.7-.1h0m8.4-.4h0m37.4-.4h0m13.8 .3h0m21.5 0h0m51.2 .5h0m457.9-.1h0m-587.9 .3h0m6 .7h0m99.3-.4h0m149.9 .1h0m-238.1 1.2h0m71-.2h0m55.2 .3h0m455.8-.3h0m-603.4 1h0m.8 .2h0m15.4 .3h0m1.7-.2h0m8.7-.2h0m25-.3h0m93.8 .6h0m200.4-.3h0m-350.1 .9h0m1.2-.1h0m1.9 0h0m27.3 .5h0m1.1-.7h0m62.5 .4h0m-93.5 1.3h0m8.9-.1h0m6.7-.2h0m10.6 .1h0m3 .3h0m84.5-.6h0m30.2 .3h0m151.5 .2h0m-290.8 1h0m19.1-.4h0m5.1 .2h0m2 .4h0m68.1-.2h0m28.1-.3h0m-124.9 1.3h0m25.3-.6h0m32.8-.1h0m29.3-.1h0m187.4 .3h0m4.4-.1h0m-273.6 1.4h0m6-.4h0m7.5 .5h0m6.6-.1h0m75.2 .3h0m-62.6 1.1h0m28.9-.8h0m28.8-.1h0m3.9 .7h0m3.2-.2h0m173.5 .1h0m-264.2 .8h0m7.7 .4h0m2.2-.1h0m42.8-.7h0m28.5 .6h0m16.3-.4h0m25.3 0h0m121.3 .3h0m45.3 .2h0m55.7-.4h0m108.1 .4h0m-462.5 1.1h0m1.6-.2h0m7.2-.5h0m5.7 .3h0m.2 .2h0m.8-.3h0m46.4 .4h0m2.5-.4h0m32.2 .3h0m48.7-.5h0m119.2 .3h0m5.7 .2h0m-250.9 .3h0m3.8 0h0m42.5 .5h0m22.1 .5h0m10.7-.5h0m1.3-.3h0m30.5-.1h0m129.3 .2h0m52.3 .3h0m269 .3h0m-577.3 .6h0m2.3 .5h0m3.3-.2h0m1.1-.2h0m.5 .3h0m14.2 0h0m64-.8h0m284.1 .2h0m-368.2 1h0m.2-.1h0m2.1 .5h0m5.5 0h0m4 0h0m39.3 0h0m28.8 0h0m3.2-.2h0m1.6-.1h0m4.9 0h0m12.7-.2h0m2-.1h0m-101.3 1.4h0m15.1-.1h0m.1 .1h0m17.9-.1h0m43.5-.3h0m19 0h0m-105.5 1.1h0m1.1-.1h0m3.6 0h0m12 .7h0m3.2-.8h0m40.7 .7h0m21.5-.4h0m6.6 .3h0m55.6-.4h0m202.9 0h0m1.1 .8h0m-329.7 .2h0m3 .7h0m16.9-.2h0m23.3-.4h0m46.3-.1h0m27.7 .6h0m2.4-.1h0m98 .3h0m73.8-.8h0m-306.4 1.5h0m18.7-.3h0m1.6-.1h0m1.6 .5h0m2.3-.3h0m16.8-.2h0m40.9-.3h0m.2 0h0m10.6 .7h0m49.9-.6h0m2.1 .6h0m3.4-.7h0m.1 .1h0m196.8 .8h0m-353 1h0m2.4-.5h0m13 0h0m12.1 .5h0m56-.3h0m5.9-.1h0m8.2-.4h0m6 .4h0m44.6 0h0m109.6 .2h0m39.7-.3h0m93.3 .2h0m-359.5 1.1h0m53.1 0h0m291-.6h0m-374.4 1.4h0m6.7-.5h0m.9 .8h0m1.9-.2h0m38.1 .4h0m23-.9h0m16.1-.1h0m51 1h0m-137.7 .6h0m4.8-.2h0m6.5 .3h0m4.2-.7h0m11.1 .1h0m63 .4h0m4.8 0h0m39.7 .1h0m-128.5 .5h0m5.9 .1h0m.2-.2h0m10.8 .9h0m1.4-.7h0m2.7 .6h0m2.4-.5h0m1.4 0h0m.4 .3h0m38.4 .4h0m23.5-.4h0m33.6 .4h0m30.1-.5h0m51.1 .3h0m73.4-.8h0m61.6 .5h0m245.7-.2h0m-585.4 1.4h0m4.3-.6h0m18.5 .1h0m39.9 .5h0m19.8 .2h0m21.8 .1h0m-103 .5h0m1.8 .4h0m3 .1h0m3.6-.5h0m9.4-.4h0m47.9 .5h0m16.1-.3h0m.3 0h0m.1 0h0m10.7 .1h0m4.9 .3h0m11-.4h0m16.3 .4h0m16.1-.2h0m8.3-.3h0m440.9 .6h0m-592.6 .5h0m.7 0h0m5.8 .4h0m7.4-.4h0m14.9 .6h0m30.9 0h0m.5-.2h0m7.7-.6h0m36.8 0h0m2.3 .8h0m26.7 0h0m-136.5 .2h0m7.5 .6h0m4.1 0h0m59.7-.3h0m2.4 .4h0m59.6-.2h0m7.7-.6h0m203.2 .1h0m-338.5 1.2h0m6.7 .2h0m3.7-.3h0m9.1 .1h0m47 .6h0m42 0h0m17-.8h0m24.8 .8h0m115.7 .1h0m-269.8 1h0m.9-.2h0m6.8-.5h0m5.6 .5h0m86.1-.7h0m9.4 0h0m24-.1h0m.5 .7h0m145.5 .3h0m202.7-.1h0m-481.5 .2h0m1.1 .7h0m7.8 0h0m.8-.1h0m8.6-.6h0m3.4-.1h0m43.1 .3h0m80.2 .3h0m118.4 .2h0m69-.1h0m21.4 .1h0m211.5-.1h0m24.3-.6h0m-602.6 1.7h0m14.2-.3h0m4-.4h0m5.9 .7h0m30.5-.4h0m28.8 .5h0m28.4-.4h0m25 .2h0m13.7-.5h0m4.2 .1h0m112 .4h0m-250.2 .9h0m.2-.4h0m4.5 .4h0m1.5 .3h0m.6-.6h0m17.4 0h0m25-.1h0m8.7-.2h0m38.7 .4h0m35.5 0h0m135.8 .3h0m91.8-.3h0m10.4 .4h0m111.7-.2h0m-487.1 .8h0m10.8-.4h0m9.8 .8h0m7.6-.4h0m73.3 .5h0m8.9-.4h0m25.7-.4h0m9.1 0h0m327.7 .2h0m-590.8 1.5h0m126.4-.7h0m1.4 .6h0m7.1 .2h0m68.8-.3h0m9.7-.5h0m.7 .6h0m2.5-.6h0m30.5 .3h0m418.7-.2h0m-547.5 .8h0m3.6 .5h0m60.9 .3h0m4.2-.4h0m72.7-.1h0m13.4 .1h0m177.4 .1h0m5.5-.3h0m-666 .9h0m327.7 .5h0m2.1-.5h0m.7 .8h0m18.2-.1h0m74.1-.6h0m45.9 .5h0m235.2 0h0m-361.5 .6h0m.2 .4h0m11.3-.3h0m57.1 0h0m26 .1h0m16.8-.2h0m11.3-.3h0m216.8 .3h0m-349.8 1.4h0m17.5-.4h0m1.4 .3h0m5-.2h0m.7 0h0m.2 0h0m.5-.2h0m2.7 .1h0m16.1 .1h0m13.1 .1h0m23.3 0h0m14.5-.3h0m4.8 0h0m9.7 .7h0m14.4 0h0m7.2-.6h0m93.4 .5h0m-215.8 .4h0m3.3 0h0m2.5 .7h0m1.2 0h0m3.2-.2h0m1-.6h0m5.9 .8h0m20.2-.1h0m42.4-.1h0m16.1-.1h0m26.5-.3h0m9.2-.2h0m4.9 .7h0m4.9-.7h0m-148.6 1h0m1.8 .9h0m1.5-.3h0m4.3-.3h0m5.9 .1h0m7.1-.3h0m3.8-.1h0m60.5 .8h0m35.5-.5h0m13.9 .3h0m72.1 .1h0m62.8-.7h0m308.5 .4h0m-635.2 1.3h0m151.3-.4h0m53.9-.1h0m1.9-.1h0m189 .5h0m57.9 .2h0m81.3-.7h0m83.1 .5h0m-548.7 .5h0m9.1-.2h0m5.2 .9h0m107.3-.5h0m-137.7 1.3h0m1-.4h0m7.4 .7h0m.4-.2h0m5.9 .1h0m.9-.2h0m7.4-.6h0m3.4 .4h0m61-.4h0m6.6 .8h0m40.4-.6h0m4.6 .4h0m115.5-.2h0m80.4-.3h0m9.1 .6h0m237.1-.1h0m-582.1 .7h0m8.2-.3h0m10.7 0h0m1.6 0h0m.3 0h0m68.8 .8h0m16.4-.6h0m162.5 .1h0m126.4-.4h0m-395.2 1.7h0m2.5-.4h0m3.1 .4h0m5.3-.1h0m19.1 .3h0m56.1-.8h0m2.4-.1h0m39.1 0h0m16.4 .7h0m7.3-.2h0m2.7-.1h0m327.2 .1h0m-800.2 1.2h0m334.3-.5h0m11.9 0h0m2.8 .1h0m.3-.2h0m97.7 .2h0m5.7 .7h0m13.9-.5h0m6.3 .3h0m70.2-.7h0m176.7 .1h0m39.2 .3h0m36.3-.1h0m12.5 .3h0m-489.2 1.1h0m13.3-.8h0m13 .2h0m61.8 .1h0m5.5 .4h0m36.1-.1h0m27.2-.1h0m176.8-.2h0m89.7 .4h0m-408 1h0m7.1-.6h0m3.8 .7h0m73.4-.2h0m9.1 .4h0m1.6-1h0m1.8 .1h0m36.4 .3h0m3.6-.1h0m110.3-.1h0m3.5 .5h0m5.1-.7h0m89 .5h0m142.6 .4h0m-624.3 .9h0m122.7-.5h0m8.9 0h0m7.5 .7h0m.8-.6h0m3.7-.3h0m5 .6h0m37.9-.2h0m34.9 .3h0m47-.5h0m10.4 .5h0m239.2-.7h0m22.4 .1h0m70.1-.2h0m-460 1.7h0m80.4 .1h0m26.3-.7h0m262.4 .1h0m3.9-.1h0m128.5 .8h0m-501 .2h0m31.3 .3h0m4.7 .2h0m60.3-.2h0m23.4 0h0m6.4-.3h0m206.1 .3h0m20.4-.3h0m-378.7 1.2h0m4.4-.2h0m4.6 .8h0m77.2-.6h0m23.5 .5h0m19.1 .2h0m15.9-.4h0m1.5 0h0m4 .3h0m13.1 .1h0m197-.8h0m109.4 .3h0m78.9 .1h0m-545.4 .7h0m14.7 .3h0m7.3 .2h0m29-.3h0m27.5 0h0m5.5-.5h0m34.4 .3h0m12.6-.1h0m5.2 .8h0m4.6-.4h0m291.3-.5h0m156.7 .1h0m-915.3 .9h0m210.8 .8h0m83.3-.2h0m45.8 .2h0m9.6-.8h0m1.3 .5h0m1.2 .3h0m54.4-.1h0m5.6-.6h0m36.2 .2h0m.3 .3h0m8.6-.3h0m5.1 .1h0m9.8-.2h0m.6 .1h0m64.4 .6h0m51.4-.1h0m-253.4 .3h0m51.2 .2h0m46.6 .3h0m268.9 0h0m79.4-.3h0m-762.9 1.3h0m66.7 0h0m166.3-.7h0m57.6 .6h0m17.6-.4h0m11.5 0h0m14.8 .1h0m77 0h0m21.2-.3h0m16.6 .4h0m246.1-.2h0m88.5 .5h0m-791.8 .8h0m82.8 0h0m230.7 .2h0m8.1 0h0m12.4-.1h0m89.9-.3h0m17.1-.2h0m92.6 .3h0m11.1 .2h0m20.9-.5h0m79.5 .6h0m-417.3 .4h0m49.6 .3h0m36.6 .3h0m79-.2h0m4.1-.3h0m5.4 .1h0m3.4 .6h0m17.3-.5h0m23.2 .4h0m6.5-.5h0m4.2 0h0m1.6 .3h0m60-.2h0m67.8 .5h0m79.2-.8h0m23.5 0h0m-659 1h0m85.2 .6h0m.4-.4h0m215.5 0h0m2.7 .1h0m1.9 0h0m106.3 0h0m1.7 .5h0m17.2-.4h0m2.8 .4h0m98 0h0m228.6-.6h0m103.4 .7h0m-583.5 .3h0m3.3 .2h0m104.3 0h0m21 .3h0m12.6-.2h0m5.1-.4h0m9.5 .7h0m83.4-.1h0m11.6-.7h0m27 .2h0m-385 1.3h0m117.3-.1h0m.1 .3h0m6-.3h0m2-.1h0m6.8 0h0m1.5-.3h0m2.7 .7h0m100.5 .1h0m11.4-.5h0m67.2-.3h0m166.8 .5h0m13.2-.6h0m81 .9h0m-746.4 .4h0m277.4 .6h0m9.1-.8h0m19.1 .7h0m3 0h0m72.8-.2h0m2.9-.2h0m40.3-.3h0m.6 .7h0m87.8-.6h0m114.8-.1h0m110.9 0h0m-528.9 1.1h0m87.5 .3h0m74.2 .1h0m7.1-.1h0m24.5 .2h0m1-.3h0m27.7-.3h0m119.6 .4h0m81.8 .5h0m115.1 0h0m8.8-.7h0m.5 .3h0m8.8 .1h0m-612 .8h0m136.2 .2h0m76.6-.7h0m48.6 .8h0m3.8 .1h0m252.3-.6h0m94.7-.2h0m111.9 0h0m-821.9 1h0m110.2 .5h0m109.3-.1h0m19.3-.5h0m9.6 .9h0m69.2-.1h0m18-.3h0m456-.4h0m-686.1 1.5h0m75.1-.2h0m43.2-.1h0m131.9 .2h0m15.2 .3h0m120.5 0h0m128.3-.4h0m-730 1.1h0m7 .4h0m413.4-.6h0m19.3 .5h0m121.1-.4h0m107.6-.4h0m-577.4 1.8h0m239.3-.1h0m7.3-.6h0m2.6 .1h0m5.2 .2h0m90.2 .5h0m31.8-.1h0m74.3-.1h0m18.8-.6h0m6 .1h0m102.4 .2h0m88 .5h0m35.7-.8h0m7.7 0h0m8.4 .5h0m105.9-.4h0m-905.8 1h0m18.4 .8h0m196.6-.9h0m41.9 .3h0m74.8-.2h0m61.7-.2h0m41.6 .4h0m12.9 .2h0m14.8-.2h0m9.9-.2h0m119.8-.1h0m4.8 .6h0m58.5-.3h0m-526.7 .8h0m15.1 .8h0m81.5-.5h0m113.6 0h0m1.5 0h0m5.3 .3h0m4 0h0m78.4-.4h0m120.5 .6h0m126.1-.2h0m6.2-.1h0m228.6-.3h0m-775.5 1.5h0m219.7-.9h0m13.2 .8h0m61.4-.8h0m110.7 0h0m45.3 .2h0m214 .3h0m1.2-.4h0m3.2 .2h0m-676.8 1h0m97.4 .1h0m83.1 .3h0m41.5-.6h0m72.1 .3h0m41.3 .3h0m72-.1h0m224.8-.5h0m-642.7 1.4h0m236.6 .3h0m37.1-.2h0m.8-.6h0m60.5 .6h0m90.3 .2h0m3.3-.3h0m250.7 .5h0m3.2-.8h0m8.5 .5h0m-596.2 .5h0m1.5 .8h0m56.4-.1h0m1.1-.8h0m76.3 .7h0m4.7 0h0m.2 0h0m116.9-.5h0m336.5 0h0m31.8 .4h0m-838.6 1.3h0m271.8-.4h0m58.5-.3h0m7.8 .6h0m51-.2h0m26.6 0h0m6.9-.1h0m1-.3h0m8.6 0h0m45.7 .6h0m60-.2h0m168.4 0h0m24.4-.5h0m68.9 .5h0m107.2-.6h0m6.8 .3h0m-917 1.2h0m352.6-.4h0m1.9 .3h0m22.8 .4h0m4.6-.1h0m33.1-.1h0m4.9-.5h0m20.5-.2h0m32.9 .9h0m10.1 .1h0m1.1 0h0m92.7-.5h0m87.5 .4h0m24.7-.6h0m31 0h0m72.8 .6h0m-578.3 .6h0m124.1-.1h0m.4-.3h0m72.1 .1h0m56.1 .2h0m7.9 0h0m201.7 .3h0m.4-.4h0m86.3 .4h0m30.5 .2h0m-663.1 .2h0m73.1 .4h0m123.3-.5h0m8.3 .1h0m14.5 .7h0m8.7 .1h0m61.2-.4h0m4.2 .3h0m11.5 .1h0m21.3-.8h0m15.1 .2h0m5.3 .7h0m108.7-.2h0m204.9-.5h0m13-.2h0m-764.3 1.4h0m219.3 .3h0m90-.3h0m9.8-.3h0m58.4 0h0m11.3 .6h0m23.3-.1h0m11.9-.4h0m451.8 .1h0m-816.5 1.3h0m244.3 .2h0m13.8-.3h0m114.9-.5h0m65.3 .4h0m16.8-.4h0m31.3 .1h0m21.6 .6h0m64.4 0h0m34.1-.6h0m12.3 .7h0m73.6-.4h0m-616.5 .9h0m154.4 .5h0m15.9-.1h0m8-.4h0m27.9-.3h0m33.4 .8h0m10.2-.4h0m7.1-.2h0m20.1 .3h0m3.8-.1h0m.5 .4h0m.2-.8h0m7.4 .6h0m11.9-.7h0m209.7 .3h0m27.6 0h0m34.2 0h0m180.6-.3h0m-973.5 1.9h0m313.6-.7h0m65.2 .7h0m.5-.9h0m2.2 .3h0m22.5-.1h0m115.7 0h0m77.9 .5h0m13.3-.7h0m2.5 0h0m38.8 .4h0m.6 .5h0m189.8 0h0m-502.3 1h0m9-.8h0m33.9 0h0m3.7 .5h0m43.8 .3h0m34.2-.2h0m32.6 .1h0m18.7 .1h0m112.4 .1h0m9.2-.9h0m-455.4 1.1h0m93.7 .5h0m79.1-.3h0m33.6 .2h0m9.3-.2h0m112.8 .4h0m88.4-.2h0m116-.3h0m59.6 .6h0m183.8 0h0m5.9 0h0m-589.7 .1h0m6.4 .8h0m5.2-.3h0m2.8 .3h0m.5-.1h0m1.1-.6h0m8.7 .4h0m61.4 .2h0m7.8 .1h0m13-.7h0m27.8 .7h0m6.1-.6h0m6.3 .3h0m7.8-.2h0m217.7 .4h0m16.6 0h0m10.9 .3h0m61-.1h0m22.1-.6h0m65.4 .5h0m-880.2 .4h0m3 .5h0m338.4-.3h0m3.6-.3h0m45.9 .8h0m29.7-.5h0m20.4 0h0m35.1-.1h0m75.7 .3h0m40.6-.4h0m208.7-.1h0m3.2 .7h0m2.8 0h0m12.5 .1h0m-485.9 .7h0m21.6 .2h0m101.2-.7h0m11.7 .8h0m72.6-.1h0m130-.1h0m101.6-.5h0m147.1 .1h0m7-.2h0m-774.3 1.9h0m162.1-.8h0m47.2 .4h0m11.8-.5h0m91.1 0h0m2.8 .9h0m14.8-.8h0m98.9 .5h0m19.1-.3h0m151.4 0h0m3.9 .6h0m50-.8h0m107 .1h0m.4 .6h0m-741.6 .7h0m85.4 .1h0m38.6-.3h0m58.7-.1h0m.6-.2h0m74.6 .2h0m15.4 .4h0m33.8 .1h0m7.2-.8h0m53.7 .2h0m216.7 .3h0m45.7 .1h0m-666 1.4h0m114 0h0m110.9-.7h0m1.4-.2h0m58.5 .6h0m.3 .2h0m40-.4h0m5.8 .1h0m92.1 0h0m2.7-.2h0m4.9 .5h0m105.9-.1h0m74.2-.5h0m67.5 0h0m103.3 .5h0m-772.3 .9h0m67.7-.6h0m82.5 .8h0m64-.5h0m2.6 0h0m72.2 .5h0m23 .1h0m1.5-.9h0m150.3 .2h0m57-.1h0m85.1 .2h0m62-.2h0m35.5 .3h0m67.4 .3h0m-807.5 .3h0m158.1 .8h0m29.7-.9h0m41.7 .9h0m19.4-.5h0m64.1 0h0m41.4-.2h0m77.4 .3h0m27.4-.5h0m33.9 .6h0m73.9-.4h0m116.7-.2h0m82.9 .6h0m6.1 .1h0m-863.9 1.2h0m86.4-.3h0m34.2 .1h0m1.6-.5h0m52.9 .8h0m62.6-.7h0m8-.1h0m52 0h0m15.6 .1h0m19.9 0h0m113.6 .6h0m5.5-.5h0m122.9 .2h0m85.1-.5h0m29.9 .4h0m9.2 0h0m73.1 .3h0m4.9 .2h0m35.2-.4h0m82.4-.4h0m-947.3 1.2h0m241.2 .3h0m128.6 0h0m1.2-.7h0m8.2 0h0m5.4 .4h0m6.4 .4h0m33-.1h0m26.4-.4h0m9.4-.2h0m12.2 .5h0m7.7 .1h0m14.8-.3h0m20.2 .4h0m105.9-.4h0m18-.2h0m8.1 .3h0m81.8 .4h0m22.6-.1h0m45.3-.5h0m80.5-.2h0m-632.1 1.2h0m15.3 .2h0m.5-.5h0m108.2 .5h0m2.2 .5h0m12.5-.1h0m44.5-.3h0m.9-.5h0m71.5 .4h0m2.1 .2h0m125.5 0h0m12.5-.2h0m155.8 .2h0m9.8-.1h0m-578.9 .4h0m164.2 .8h0m59.6-.1h0m1.4 .2h0m38.5-.4h0m20.6 .5h0m83.5-.9h0m133.1 .8h0m31.8-.6h0m6 .1h0m57.3-.3h0m-762.9 1.2h0m3.8 .4h0m15.7 0h0m226.8 .1h0m6.1-.5h0m25.4 0h0m8.2 0h0m23.8 .6h0m14.1-.2h0m39.9-.3h0m4.1 .1h0m43.9-.4h0m31.1 0h0m14.5 .5h0m87.7-.1h0m143-.4h0m139.5 .2h0m72.5 .4h0m-967.1 1.1h0m190.1-.6h0m5.1-.1h0m78.4 .3h0m64.3 .3h0m33.7-.3h0m10.9-.1h0m.6 .2h0m58.2-.2h0m162.6-.1h0m4.9 .5h0m185.1-.5h0m51.2 .1h0m-847.1 1.6h0m26.8-.8h0m97.1 .4h0m32.5-.1h0m33.9-.2h0m1.3 .3h0m41.6-.4h0m22.4 .6h0m149.7-.2h0m39.7 .5h0m16.2-.5h0m146-.5h0m40.4 .1h0m105.1 .2h0m2.1 .5h0m46.7-.1h0m13.6 0h0m124.2-.2h0m-914.1 1.1h0m23.3-.2h0m129.4 0h0m79.7 .2h0m95.9-.4h0m29.7 .8h0m62.9-.2h0m1.8-.4h0m76.8 .1h0m.7 .3h0m2.6-.5h0m198.8 .4h0m24-.4h0m69.1-.1h0m21.9 .4h0m124.4-.1h0m-588.1 1.4h0m21.9-.9h0m189.3 .5h0m5-.3h0m48.6 .3h0m116 .2h0m59.9-.3h0m16.4 .4h0m27-.4h0m-816.5 .8h0m105.4 0h0m98.9 .1h0m59.4 .1h0m4.5 .4h0m42.8-.5h0m47.3-.3h0m61 .5h0m36.6-.2h0m11.9 .4h0m9.7 0h0m205.6 0h0m230.8-.5h0m-938.4 1.4h0m116 0h0m7.9-.1h0m25.1 .3h0m45.6-.6h0m92.1 0h0m8.5 .2h0m80.7-.1h0m8.8 0h0m70.6 .4h0m4.7-.2h0m48.8-.1h0m.5 .4h0m52.6-.5h0m16.8 .2h0m29.4-.1h0m24.4-.3h0m166.6 .3h0m155.9 0h0m-827.9 1.5h0m144.7-.3h0m86.2-.2h0m7.1-.1h0m15.3 .6h0m15.2-.1h0m25.7-.3h0m86 .3h0m124.1 .1h0m73.8-.7h0m10.6-.1h0m74.7 .8h0m51.5-.6h0m.3 .5h0m-756 1.1h0m71.2-.7h0m9 .5h0m177.1-.5h0m53 .6h0m24-.6h0m21.9 0h0m.6 .7h0m8-.5h0m5.9-.2h0m5 .6h0m6.3-.3h0m95.5-.2h0m17.8-.2h0m20.5-.1h0m101.3 .2h0m127.7 .8h0m3.1-.2h0m62.8-.4h0m-861.6 1.2h0m32.3-.2h0m171.7 .5h0m142-.5h0m1.5 .1h0m12.3 .1h0m27.1-.4h0m19.2-.1h0m9.2 0h0m32.9 .2h0m14 .1h0m78.9 .3h0m2.3 .1h0m4.3-.2h0m4.5-.6h0m114 0h0m10.9 .8h0m125.7-.3h0m-720.5 .5h0m48.8 .8h0m165.9-.4h0m34.7 .1h0m7.6 .1h0m60.8-.5h0m30.3-.1h0m31.8 .1h0m190.7 .7h0m26-.2h0m16.2 .2h0m92.5-.3h0m7.1-.2h0m3 .2h0m125.9 .5h0m-852.2 1h0m69.5-.9h0m80.2 0h0m2.5 .8h0m95.2-.7h0m3.2 .4h0m1.8-.3h0m12.1 .6h0m3-.8h0m3.9 .3h0m5.2 .1h0m.4-.4h0m10.2 .3h0m10.3 .2h0m99.7-.6h0m211.2 .2h0m13.1 .1h0m42.9 .2h0m-607.8 .8h0m110.7 .5h0m90.9 .1h0m2.5-.4h0m.9 .1h0m9.9-.1h0m27.1-.2h0m35 .7h0m10.3-.6h0m8.9 .5h0m30.4-.2h0m210.5-.2h0m33.7-.1h0m58.1 .4h0m38.5-.6h0m-852.7 1.4h0m41.9-.4h0m214.5 .1h0m9.8-.1h0m15.5 .2h0m98 .2h0m7.4 .3h0m5.6-.8h0m115.9 .2h0m92.7-.1h0m25.1 .4h0m21.5-.1h0m86.3 0h0m17.5-.5h0m11.5 0h0m58.1 .2h0m35.8 .4h0m6 0h0m41.8 .3h0m69.9 0h0m-783.1 1.1h0m7.3-.7h0m55.7 .1h0m5.9 .4h0m21.3 .1h0m97-.8h0m9.6 .5h0m85.4-.3h0m13.1 .1h0m38.2 .4h0m130.5-.7h0m65.5-.1h0m13.5 0h0m22.1 .8h0m215-.2h0m-843.8 .6h0m141.5-.1h0m73.7 .8h0m.7-.3h0m19.9-.6h0m21.5 .2h0m.5 .3h0m12.8 .2h0m119.5-.1h0m205.9 .1h0m33.4-.3h0m17.7-.2h0m65.6 .4h0m144.7 0h0m-981.9 1.1h0m28.7 0h0m162.1-.2h0m.9-.1h0m104.6 .6h0m4.5-.4h0m82.8-.5h0m9.4 .9h0m102.4-1h0m25.6 .1h0m4.2 .1h0m1.7-.2h0m100.4 .4h0m136.6 .3h0m211.1-.5h0m-712 1.2h0m108.1-.2h0m1.7 .1h0m8 .1h0m1.4-.3h0m.3 .1h0m17.7 .3h0m.2 .3h0m63.6-.3h0m2.5 0h0m36.2-.5h0m149.2 .5h0m124.4-.4h0m.5 .6h0m190.2-.5h0m4.4 .3h0m9.4 .4h0m-966.2 1h0m34.5-.4h0m11.3 .3h0m31.9-.1h0m33.4 .2h0m53-.5h0m76.8 0h0m16.1 .1h0m101.6 .3h0m14.2 0h0m8.9-.4h0m47.1 .2h0m30.2 0h0m9 .2h0m16.4 0h0m17.1-.7h0m2.4 .7h0m88.4-.4h0m115.5-.4h0m91.8 .9h0m45.7-.3h0m37.3 .3h0m3.6-.2h0m-890 .4h0m9.5 0h0m113 .6h0m56.9-.1h0m26.3 .1h0m35.1-.5h0m24 .7h0m28-.8h0m55.9 .7h0m11.7-.7h0m10.7 .5h0m4.4 .2h0m1.9-.5h0m71.1-.1h0m17.1 0h0m32-.2h0m7.2 .7h0m12.1-.6h0m97.8 .2h0m85.1 .6h0m40.1-.1h0m7.9-.7h0m29.6 0h0m50.8 .6h0m128.7 0h0m-941 .4h0m34.1 .1h0m45.7 .2h0m20.3-.3h0m66.2 .7h0m77-.1h0m.2-.5h0m123.1 .2h0m7-.1h0m2.4 .5h0m53.9-.7h0m45.2 .4h0m13.7-.2h0m11.4 .4h0m80 .3h0m4-.6h0m103.1 .1h0m-706.3 .9h0m155 .3h0m4.3 .1h0m1.7 .2h0m3.2-.1h0m3.9-.2h0m102 .2h0m21.1-.2h0m83.8 .1h0m6.5 .1h0m80.1-.7h0m5.7 .8h0m26.2-.5h0m18.5-.4h0m201.9 .3h0m107.5 .3h0m21.6-.5h0m109.8-.1h0m-915.9 1.3h0m5.6-.4h0m179 1h0m59-.6h0m19.6-.1h0m29.8-.1h0m37.2-.1h0m4.2 .6h0m15 .2h0m18.6 0h0m3.4-.6h0m13.8 0h0m28.7 .6h0m148-.4h0m4.7 .1h0m15.5-.4h0m167.7 .4h0m64.2 .2h0m68.6-.2h0m44.1-.2h0m7.6 .2h0m4.1-.1h0m-984.4 1.2h0m26-.1h0m0-.2h0m18.7 .3h0m9.3 .1h0m57 0h0m24.7 .1h0m128-.2h0m28.3 .1h0m14.6-.6h0m1.4 0h0m71.1 .3h0m15-.3h0m5.1 0h0m35.8 .1h0m49.8 .3h0m15.6-.6h0m7.4 .6h0m2.3-.4h0m74.9-.1h0m2.7 0h0m3.5 .5h0m117 .3h0m11-.8h0m4.1 .4h0m23.7 .2h0m20.7-.1h0m2.2 .3h0m3.6-.5h0m120.3 .1h0m78.4 .4h0m-929.3 .4h0m5.1 .3h0m57.6-.5h0m67.3 .3h0m6.6 .5h0m84.4-.6h0m15.9-.2h0m61.7 0h0m32.2 .8h0m8.6-.3h0m129.9 .1h0m13.5-.1h0m86.5-.3h0m22.9 .7h0m73.3-.5h0m12.1-.3h0m26.8-.1h0m14 0h0m2 .1h0m9 .7h0m63.8-.2h0m-824.6 1.3h0m31.8-.2h0m23.4-.7h0m82 .2h0m5.1-.2h0m27.9 .1h0m75.3-.2h0m38.9 .5h0m49.1 .3h0m33.2-.7h0m14.1 .9h0m38.5-.5h0m48.4 .5h0m2.5-.3h0m17.6-.6h0m.1 .2h0m9 .1h0m3.5 .2h0m1-.2h0m3.4 0h0m12.7-.2h0m61 .8h0m15.5-.8h0m5.8-.1h0m146.6-.1h0m99.2 .3h0m86 .7h0m12.5-.8h0m23.6 .6h0m-975.1 .7h0m65.1 .1h0m54.2-.6h0m16.1 .1h0m26.9 .6h0m86.1 0h0m22.4 .1h0m19.7-.3h0m15.5-.4h0m64.6 .1h0m1.5-.2h0m6.5 .1h0m6 .9h0m73.9-.1h0m11.7 0h0m40-.4h0m1.2-.3h0m.6-.2h0m190.2 .7h0m15.6 0h0m13-.4h0m98.5 .2h0m1.3-.4h0m4.6 .5h0m16.8-.5h0m2 0h0m29.2 .7h0m79.4 0h0m7.8 .2h0m1.3-.9h0m-950.8 1.6h0m2.1-.5h0m2 .8h0m18.8 0h0m2.8-.1h0m3.9-.6h0m43.1-.2h0m39.5 .2h0m2.4 .6h0m40.4 .1h0m2.2-.6h0m65.3-.1h0m13.1-.1h0m3.7 .8h0m27.6-.7h0m3.2 .1h0m6.4 .4h0m7.8-.3h0m10.7 .4h0m18.2-.1h0m34.1 0h0m4-.4h0m.9 .1h0m.8 .1h0m49.1-.2h0m14.7-.4h0m34.1 .5h0m46.6 .3h0m67.8-.7h0m40.3-.1h0m91.7 .8h0m37.7-.1h0m54.1 .2h0m21.3 0h0m25.2-.6h0m72.1 .5h0m39.2-.2h0m.3 .2h0m-921.7 .4h0m49 .7h0m37.9-.4h0m31.7 0h0m4.9-.3h0m.7-.1h0m1.6 .3h0m81.2 .1h0m15.1 .1h0m21.6-.4h0m19.3 .7h0m5.6-.4h0m53.5-.5h0m48 .6h0m25.7 .1h0m15.4 0h0m39.4 .1h0m3.4 0h0m20.7-.1h0m80.6-.7h0m39.9 .6h0m4.3 .1h0m62.8-.3h0m44.4 .1h0m13.8 .1h0m.3 0h0m42.8 .3h0m155.7-.2h0m-885.9 .8h0m22.3 .1h0m48.7 .1h0m11-.4h0m10.1 .4h0m13.8-.4h0m5.8 .5h0m23.7-.3h0m10.2-.1h0m73.3 0h0m34.2 .3h0m48.2-.5h0m8.4-.1h0m6.6 0h0m.3 .6h0m14.9 .2h0m27.6-.6h0m3.5-.3h0m14.1 .9h0m13.5-.5h0m26.5-.3h0m12.7 .7h0m.2-.7h0m240.9 .9h0m36.5-.5h0m57.1-.4h0m11.6-.1h0m-811.5 1.6h0m144.2-.2h0m1.5-.4h0m.5 .4h0m58.4 .5h0m11.1-.3h0m14.2-.6h0m14.6 .4h0m84.5 .1h0m13.1 .4h0m35.4-.8h0m12.7 .1h0m31.4 .5h0m39.4 .2h0m8.8-.7h0m4.9 .2h0m59 .1h0m24-.5h0m148.6 .9h0m2.8-.9h0m4.6 .2h0m164.3 .6h0m3.6-.4h0m1.2 0h0m-926.4 1.5h0m15.3-.1h0m6.1 .2h0m36.8-.6h0m27.8 .4h0m43.5-.8h0m114.7 .4h0m5.7-.2h0m5.5 .2h0m99.8-.3h0m15.4 .1h0m.1 .1h0m9.6 .5h0m20.1-.2h0m21.5-.1h0m52.4-.3h0m21.2 .2h0m9.7 .1h0m3.7-.3h0m4 .7h0m6 .1h0m187-.4h0m39.5-.2h0m18.4-.3h0m.4 .3h0m31.8 .3h0m6.5-.6h0m1 .8h0m9.7-.9h0m33 .1h0m68.6 .4h0m1.2 .4h0m8.3-.6h0m48.5-.2h0m-963.7 1.2h0m.8 .4h0m.1-.5h0m156.2 .4h0m50.3-.2h0m46.4-.4h0m116.6 .6h0m126.9 .4h0m18.8-.4h0m117.4-.2h0m59.8 .3h0m150.4-.5h0m35.8 .6h0m90.9-.1h0m-976.5 .7h0m13.6 .3h0m26.2-.6h0m118.1 .1h0m7.2 .7h0m95.6-.5h0m27.6 .4h0m2.4-.4h0m12.7-.2h0m78.7 .7h0m13.3-.2h0m25.7 .1h0m204.5 0h0m83.8-.2h0m60.1 .3h0m11.5-.7h0m3.7 .2h0m9.9 0h0m8.1-.1h0m1.9 .5h0m.6 0h0m35-.8h0m26.8 .9h0m-804.2 .9h0m21.7-.6h0m8.3 .3h0m42.1 0h0m49.2 .3h0m.6-.6h0m13.5 .2h0m14 .1h0m46 .4h0m43-.4h0m69.5 .4h0m22.5-.4h0m3.1-.1h0m62.7 .5h0m13.6-.2h0m40.9-.5h0m65.5 .1h0m48.4-.1h0m3.7 .2h0m121.1-.2h0m11.9 .2h0m71.9 .3h0m32 .2h0m41.6-.8h0m-919.6 1.2h0m6.9 0h0m136.5 .4h0m29.6-.2h0m8.4 .2h0m44.8-.2h0m85.3 .4h0m12.3-.6h0m27.9 0h0m6.6 .1h0m25.4 .1h0m13.5 0h0m60.7-.3h0m18.6 .4h0m42.4 .3h0m64.2-.4h0m50.6 0h0m92.4 .3h0m2.6-.4h0m26.4 .5h0m8.4-.7h0m72.4 .5h0m3.8-.2h0m6.2-.3h0m14 .5h0m120.9 .3h0m-969.2 .9h0m39-.7h0m63.5 .1h0m1.2 .1h0m29.7-.4h0m2.9 .6h0m124.5 .4h0m28.1-.3h0m3.7-.1h0m80.9 .1h0m4.9 .1h0m2.2-.2h0m3.3-.3h0m45.9 .2h0m23.6-.2h0m6.4 .5h0m33.1 0h0m20.9-.5h0m81.9 .2h0m110-.1h0m36 .2h0m10.6 0h0m6.1 0h0m48.2 .3h0m27-.9h0m-817.4 1.6h0m17.6-.2h0m27.6 .3h0m39.8-.7h0m75.7 .6h0m9 .3h0m59.2-.1h0m12.4-.6h0m109.8 .1h0m4.8 .3h0m1.4-.1h0m12.1-.2h0m6.3 .7h0m17.3-.4h0m10.4-.2h0m6.4-.3h0m27.2 .1h0m9.9 .4h0m.1 .2h0m125.1-.7h0m33.8 .6h0m6.9-.2h0m9.2-.3h0m170.7 .4h0m11.9 .3h0m.6-.6h0m12.8 0h0m44.1 0h0m36.7-.3h0m42.4 .7h0m-961 1.1h0m9.3-.2h0m45.5-.6h0m8.6 1h0m35.2-.8h0m18.2 .1h0m24 .1h0m39.5 .5h0m10.6-.6h0m119.4 .4h0m29.2-.1h0m26.8 .3h0m6.2-.9h0m5.2 .7h0m16.7-.6h0m2.6 .2h0m11.3 .4h0m19.5-.2h0m1.3-.3h0m49.1 .1h0m40-.1h0m.4 .8h0m79-.7h0m1.1 .1h0m28.9 0h0m1.1-.1h0m18.1 .3h0m105.8 .3h0m33.5-.1h0m99.5-.5h0m68.9 0h0m16.9 0h0m1.2 .4h0m2.9-.4h0m-974.2 .8h0m7.5 .2h0m30.5 .3h0m108.3 0h0m68.9-.4h0m28.3 .7h0m.8 0h0m12-.2h0m44.4 0h0m34.7-.1h0m10.6-.5h0m21.9 .8h0m8.2-.5h0m1.8 .4h0m5.9-.3h0m.4-.1h0m1.2-.2h0m8.4 .5h0m59.1-.6h0m1.6 0h0m36.5 .8h0m86.6-.9h0m14.6 .6h0m8.2-.4h0m16.8 .5h0m100.1-.6h0m23 .8h0m11.5-.6h0m19.8 0h0m10.1 .1h0m28.1 .2h0m18.6-.2h0m55.8 0h0m39.5 .4h0m-902.7 .8h0m13.8 0h0m49.4-.3h0m73.8 .2h0m13.6-.1h0m5.2 .3h0m4.1-.3h0m5.1 .1h0m112.7 .1h0m52.5-.2h0m44.8-.1h0m351.4-.1h0m54.7-.1h0m52.2 .5h0m74.2 .3h0m-895 .3h0m153.8 .3h0m157.9 0h0m26.5 .3h0m.3-.7h0m83.2 .9h0m36.2-.2h0m228.6-.4h0m148.9 .1h0m-787.7 .6h0m256.8 .5h0m27.8-.2h0m126.9-.3h0m104.8 .7h0m231.3-.2h0m20.9-.4h0m-103.5 1h0m87.9 1.6h0"/>
<rect class="ax" x="173" y="631.2" width="998" height="240.6"/>
<path class="tk" d="M173 725h-8M173 860.8h-8"/>
<text x="158.4" y="736.33" text-anchor="end">2</text>
<text x="158" y="872.13" text-anchor="end">0</text>
<text x="672.7" y="617.3" text-anchor="middle">SATB2</text>
<text transform="translate(125.3 754.4) rotate(-90)" text-anchor="middle">SATB2</text>
</g>
<g>
<path class="v" fill="#cc2957" d="M194.45 1000.96l0 48.25l.52 86.25l.14 3.75l.24 1.25l.54 1.25l.8 1l.9 .75l2.68 1.5l8.63 3.5l1.21 .75l.6 .99l-32.92 0l.6-.99l1.21-.75l8.63-3.5l2.68-1.5l.9-.75l.8-1l.54-1.25l.24-1.25l.14-3.75l.52-86.25l0-48.25z"/>
<path class="v" fill="#43a350" d="M236.05 980.37l.02 56.5l.5 94.25l.15 4.75l.23 1.5l.49 1.5l.72 1.25l1.11 1.25l2.77 2l8.06 4.25l1.6 1.25l.46 .75l.16 .58l-32.93 0l.16-.58l.46-.75l1.6-1.25l8.06-4.25l2.77-2l1.11-1.25l.72-1.25l.49-1.5l.23-1.5l.15-4.75l.5-94.25l.02-56.5z"/>
<path class="v" fill="#e5cf30" d="M277.66 1076.97l0 40.75l.28 21.75l.18 2.5l.33 1l.48 .75l.82 .75l1.26 .75l3.24 1.25l7.46 2.25l1.64 .75l.57 .73l-32.92 0l.57-.73l1.64-.75l7.46-2.25l3.24-1.25l1.26-.75l.82-.75l.48-.75l.33-1l.18-2.5l.28-21.75l0-40.75z"/>
<path class="v" fill="#536fcd" d="M319.26 1032.94l.07 46.25l.42 51l.25 5.25l.38 1.75l.49 1.25l.78 1.25l1.15 1.25l2.67 2l7.89 4.5l1.5 1.25l.56 1l.11 .51l-32.93 0l.11-.51l.56-1l1.5-1.25l7.89-4.5l2.67-2l1.15-1.25l.78-1.25l.49-1.25l.38-1.75l.25-5.25l.42-51l.06-46.25z"/>
<path class="v" fill="#e38741" d="M360.87 1011.25l.01 46l.61 84.25l.26 1.25l.38 .75l.66 .75l1.08 .75l2.92 1.25l8.21 2.5l1.6 .75l.53 .7l-32.92 0l.53-.7l1.6-.75l8.21-2.5l2.92-1.25l1.08-.75l.66-.75l.38-.75l.26-1.25l.61-84.25l.01-46z"/>
<path class="v" fill="#53dbde" d="M444.08 1015.2l0 43.5l.64 81.25l.24 1.25l.44 1l.8 1l.94 .75l2.92 1.5l8.15 3l1.41 .75l.49 .5l.23 .5l-32.92 0l.23-.5l.49-.5l1.41-.75l8.15-3l2.92-1.5l.94-.75l.8-1l.44-1l.24-1.25l.64-81.25l0-43.5z"/>
<path class="v" fill="#dc3ddc" d="M485.68 1022.21l.01 71l.39 49.5l.22 1l.41 .75l.82 .75l.85 .5l3.52 1.25l7.85 2l1.38 .5l.82 .74l-32.93 0l.82-.74l1.38-.5l7.85-2l3.52-1.25l.85-.5l.82-.75l.41-.75l.22-1l.39-49.5l0-71z"/>
<path class="v" fill="#acde23" d="M527.31 1056.49l.01 70.5l.08 4.25l.29 2.75l.36 1.5l.6 1.5l.75 1.25l1.05 1.25l3.02 2.5l5.99 3.75l2.1 1.5l1.43 1.5l.29 .5l.21 .96l-32.8 0l.21-.96l.29-.5l1.43-1.5l2.1-1.5l5.99-3.75l3.02-2.5l1.05-1.25l.75-1.25l.6-1.5l.36-1.5l.29-2.75l.08-4.25l.01-70.5z"/>
<path class="v" fill="#f0c3be" d="M568.91 931.89l.1 83l.21 23.75l.33 15.5l.43 9.75l.64 8.75l.91 8.5l2.5 19.5l.5 5.75l.21 5.25l-.02 3.75l-.28 3.5l-.57 3.75l-1.57 8l-.22 3.5l.52 2.5l.59 1.25l.86 1.25l2.53 2.5l5.31 4l1.7 1.5l1.25 1.75l.26 1.31l-32.81 0l.26-1.31l1.25-1.75l1.7-1.5l5.31-4l2.53-2.5l.86-1.25l.59-1.25l.52-2.5l-.22-3.5l-1.57-8l-.57-3.75l-.28-3.5l-.02-3.75l.21-5.25l.5-5.75l2.5-19.5l.91-8.5l.64-8.75l.43-9.75l.33-15.5l.21-23.75l.1-83z"/>
<path class="v" fill="#106e6e" d="M610.54 965.55l.13 29.25l.33 19l.64 14.5l1.03 11.75l1.23 8.75l1.59 8.25l2.27 9.25l4.72 16.5l1.7 6.5l1.42 7l.79 6.5l.16 6.75l-.51 7.5l-1.03 7l-2.2 10.75l-.33 3l.05 1.75l.28 1.75l1.97 6.25l.1 1.25l-.19 1.4l-28.78 0l-.19-1.4l.1-1.25l1.97-6.25l.28-1.75l.05-1.75l-.33-3l-2.2-10.75l-1.03-7l-.51-7.5l.16-6.75l.79-6.5l1.42-7l1.7-6.5l4.72-16.5l2.27-9.25l1.59-8.25l1.23-8.75l1.03-11.75l.64-14.5l.33-19l.13-29.25z"/>
<path class="v" fill="#e1befa" d="M652.13 951.65l.28 53l.37 16.25l.6 13l.8 10.25l1.12 9.75l1.25 8.5l2.75 16.5l.96 6.75l.62 6.25l.28 5.75l-.06 6l-.56 6l-1.1 6.5l-2.77 13l-.35 2.75l.01 2l.24 1.5l.4 1.25l1.29 2.25l2.06 2.25l5.05 4.25l1.52 1.5l1.15 1.75l.27 1.55l-32.81 0l.27-1.55l1.15-1.75l1.52-1.5l5.05-4.25l2.06-2.25l1.29-2.25l.4-1.25l.24-1.5l.01-2l-.35-2.75l-2.77-13l-1.1-6.5l-.56-6l-.06-6l.28-5.75l.62-6.25l.96-6.75l2.75-16.5l1.25-8.5l1.12-9.75l.8-10.25l.6-13l.37-16.25l.28-53z"/>
<path class="v" fill="#96693a" d="M693.74 943.63l.1 38.25l.28 28.75l.42 17.75l.7 13l.91 9.25l1.25 8.5l1.83 9.25l3.81 16l1.34 6.25l1.08 6.75l.52 6.25l0 5.75l-.53 5.5l-1.11 6l-2.56 10.5l-.33 2.25l.01 2l.5 2.25l1.18 2.25l1.38 1.75l3.52 3.75l1.28 1.75l.59 1.5l0 1.32l-32.8 0l0-1.32l.59-1.5l1.28-1.75l3.52-3.75l1.38-1.75l1.18-2.25l.5-2.25l.01-2l-.33-2.25l-2.56-10.5l-1.11-6l-.53-5.5l0-5.75l.52-6.25l1.08-6.75l1.34-6.25l3.81-16l1.83-9.25l1.25-8.5l.91-9.25l.7-13l.42-17.75l.28-28.75l.1-38.25z"/>
<path class="v" fill="#6e0f0f" d="M736.41 1059.35l1.37 13.5l.87 5.75l1.09 5.75l2.54 10.5l6.2 21.75l1.27 5.5l.88 5l.64 6.25l.06 5.75l-.55 5.5l-1.17 5.6l-28.99 0l-1.17-5.6l-.55-5.5l.06-5.75l.64-6.25l.88-5l1.27-5.5l6.2-21.75l2.54-10.5l1.09-5.75l.87-5.75l1.37-13.5z"/>
<path class="v" fill="#aff3c8" d="M776.92 954.8l.04 51.25l.83 17.5l.66 8.75l.91 6l2.12 9.25l6.51 23.25l1.61 6.75l1.1 5.75l.81 5.25l.97 8l.4 5.25l.06 3.75l-.16 4.25l-.87 9.25l-.81 4l-2.73 10l-1.19 5l-.99 5.75l-.73 6.4l-17.48 0l-.73-6.4l-.99-5.75l-1.19-5l-2.73-10l-.81-4l-.87-9.25l-.16-4.25l.06-3.75l.4-5.25l.97-8l.81-5.25l1.1-5.75l1.61-6.75l6.51-23.25l2.12-9.25l.91-6l.66-8.75l.83-17.5l.04-51.25z"/>
<path class="v" fill="#707014" d="M819.19 1016.39l.48 9.75l.79 5.75l3.54 15.75l7.46 30.25l2.3 12l.65 5.75l.02 3.5l-.24 3.75l-.56 4.75l-.65 3.75l-.93 3.25l-2.43 6l-1.13 3.25l-1.19 4.25l-.76 3.75l-.74 7.5l-.1 10.81l-14.75 0l-.1-10.81l-.74-7.5l-.76-3.75l-1.19-4.25l-1.13-3.25l-2.43-6l-.93-3.25l-.65-3.75l-.56-4.75l-.24-3.75l.02-3.5l.65-5.75l2.3-12l7.46-30.25l3.54-15.75l.79-5.75l.48-9.75z"/>
<path class="v" fill="#f8d7b9" d="M860.29 976.57l.05 19.25l.97 14.75l1.04 10.25l1.87 11.25l5.01 27.25l1.1 4.75l2.71 9.75l1.66 7.75l.91 5.75l.47 5.75l.04 3.25l-.18 3.25l-.5 4l-.67 3.75l-1.03 3.75l-4.28 12.25l-.75 2.75l-.51 2.75l-.4 4l-.17 4l.32 13.38l-16.04 0l.32-13.38l-.17-4l-.4-4l-.51-2.75l-.75-2.75l-4.28-12.25l-1.03-3.75l-.67-3.75l-.5-4l-.18-3.25l.04-3.25l.47-5.75l.91-5.75l1.66-7.75l2.71-9.75l1.1-4.75l5.01-27.25l1.87-11.25l1.04-10.25l.97-14.75l.05-19.25z"/>
<path class="v" fill="#0f0f69" d="M901.76 1020.4l.13 27.25l.5 16.25l.5 7.5l.71 7.5l2.98 22.5l.83 8l.37 9l-.37 9.5l.15 3.25l.53 2.5l1.05 2.5l2 3l4.07 4.75l1.49 2l1.06 2.25l.19 1l-.01 1.05l-32.81 0l-.01-1.05l.19-1l1.06-2.25l1.49-2l4.07-4.75l2-3l1.05-2.5l.53-2.5l.15-3.25l-.37-9.5l.37-9l.83-8l2.98-22.5l.71-7.5l.5-7.5l.5-16.25l.13-27.25z"/>
<path class="v" fill="#808080" d="M943.36 1010.37l0 125.25l.12 4.5l.25 1.25l.46 1l.85 1l1.01 .75l3.14 1.5l8.46 3l1.33 .75l.56 .83l-32.8 0l.56-.83l1.33-.75l8.46-3l3.14-1.5l1.01-.75l.85-1l.46-1l.25-1.25l.12-4.5l0-125.25z"/>
<path class="v" fill="#aacde1" d="M984.96 1014.24l0 118.5l.15 5.25l.29 1.5l.53 1.25l.73 1l1.1 1l2.97 1.75l8.54 3.75l1.41 1l.47 .96l-32.81 0l.47-.96l1.41-1l8.54-3.75l2.97-1.75l1.1-1l.73-1l.53-1.25l.29-1.5l.15-5.25l0-118.5z"/>
<path class="v" fill="#2d73aa" d="M1026.55 988.47l.01 53.5l.62 97l.27 1.5l.4 1l.72 1l1.14 1l3.27 1.75l7.56 3l1.69 1l.58 .98l-32.92 0l.58-.98l1.69-1l7.56-3l3.27-1.75l1.14-1l.72-1l.4-1l.27-1.5l.62-97l.01-53.5z"/>
<path class="v" fill="#96cdc3" d="M1068.32 980.37l.02 111l.15 10.5l.42 7l.46 3.75l.6 3.25l.76 3l.99 3l1.25 3l1.47 3l5.97 10.25l2.04 4l.88 2.25l.57 2l.35 2l.11 1.83l-32.81 0l.11-1.83l.35-2l.57-2l.88-2.25l2.04-4l5.97-10.25l1.47-3l1.25-3l.99-3l.76-3l.6-3.25l.46-3.75l.42-7l.15-10.5l.02-111z"/>
<path class="v" fill="#b4d791" d="M1109.76 1037.98l0 35.75l.36 42.5l.14 8.5l.36 4.5l.38 2l.55 1.75l.81 1.75l1.14 1.75l2.76 3l7.57 6.5l1.56 2l.47 1.25l.16 .97l-32.92 0l.16-.97l.47-1.25l1.56-2l7.57-6.5l2.76-3l1.14-1.75l.81-1.75l.55-1.75l.38-2l.36-4.5l.14-8.5l.36-42.5l0-35.75z"/>
<path class="v" fill="#f0be78" d="M1151.45 970.95l.22 77l.42 79l.17 5.75l.28 2l.51 1.75l.74 1.5l1.12 1.5l1.27 1.25l1.58 1.25l7.91 5.25l1.28 1.25l.51 1l.17 .75l-32.93 0l.17-.75l.51-1l1.28-1.25l7.91-5.25l1.58-1.25l1.27-1.25l1.12-1.5l.74-1.5l.51-1.75l.28-2l.17-5.75l.42-79l.22-77z"/>
<defs><linearGradient id="g3_4" gradientUnits="userSpaceOnUse" x1="0" x2="0" y1="1011.3" y2="1150.2"><stop offset="0" stop-opacity="0"/><stop offset=".96" stop-opacity=".02"/><stop offset="1" stop-opacity="0"/></linearGradient><mask id="m3_4" maskUnits="userSpaceOnUse" x="344" y="1010.3" width="33.4" height="140.9"><rect x="344" y="1010.3" width="33.4" height="140.9" fill="url(#g3_4)"/></mask><linearGradient id="g3_6" gradientUnits="userSpaceOnUse" x1="0" x2="0" y1="1015.2" y2="1150.2"><stop offset="0" stop-opacity="0"/><stop offset=".96" stop-opacity=".01"/><stop offset="1" stop-opacity="0"/></linearGradient><mask id="m3_6" maskUnits="userSpaceOnUse" x="427.2" y="1014.2" width="33.4" height="137"><rect x="427.2" y="1014.2" width="33.4" height="137" fill="url(#g3_6)"/></mask><linearGradient id="g3_7" gradientUnits="userSpaceOnUse" x1="0" x2="0" y1="1022.2" y2="1150.2"><stop offset="0" stop-opacity="0"/><stop offset=".95" stop-opacity=".01"/><stop offset="1" stop-opacity="0"/></linearGradient><mask id="m3_7" maskUnits="userSpaceOnUse" x="468.8" y="1021.2" width="33.4" height="130"><rect x="468.8" y="1021.2" width="33.4" height="130" fill="url(#g3_7)"/></mask><linearGradient id="g3_9" gradientUnits="userSpaceOnUse" x1="0" x2="0" y1="931.9" y2="1150.2"><stop offset="0" stop-opacity=".01"/><stop offset=".38" stop-opacity=".01"/><stop offset=".56" stop-opacity=".03"/><stop offset=".64" stop-opacity=".07"/><stop offset=".78" stop-opacity=".21"/><stop offset=".83" stop-opacity=".24"/><stop offset=".85" stop-opacity=".23"/><stop offset=".87" stop-opacity=".21"/><stop offset=".92" stop-opacity=".13"/><stop offset=".92" stop-opacity=".12"/><stop offset=".97" stop-opacity=".03"/><stop offset="1" stop-opacity=".03"/></linearGradient><mask id="m3_9" maskUnits="userSpaceOnUse" x="552" y="930.9" width="33.4" height="220.3"><rect x="552" y="930.9" width="33.4" height="220.3" fill="url(#g3_9)"/></mask><linearGradient id="g3_10" gradientUnits="userSpaceOnUse" x1="0" x2="0" y1="965.5" y2="1150.2"><stop offset="0" stop-opacity="0"/><stop offset=".4" stop-opacity=".01"/><stop offset=".76" stop-opacity=".05"/><stop offset=".93" stop-opacity=".04"/><stop offset="1" stop-opacity=".04"/><stop offset="1" stop-opacity=".01"/></linearGradient><mask id="m3_10" maskUnits="userSpaceOnUse" x="593.6" y="964.5" width="33.4" height="186.7"><rect x="593.6" y="964.5" width="33.4" height="186.7" fill="url(#g3_10)"/></mask><linearGradient id="g3_11" gradientUnits="userSpaceOnUse" x1="0" x2="0" y1="951.7" y2="1150.2"><stop offset="0" stop-opacity="0"/><stop offset=".27" stop-opacity=".01"/><stop offset=".41" stop-opacity=".03"/><stop offset=".51" stop-opacity=".06"/><stop offset=".68" stop-opacity=".15"/><stop offset=".74" stop-opacity=".16"/><stop offset=".81" stop-opacity=".14"/><stop offset=".91" stop-opacity=".08"/><stop offset=".97" stop-opacity=".02"/><stop offset="1" stop-opacity=".02"/></linearGradient><mask id="m3_11" maskUnits="userSpaceOnUse" x="635.2" y="950.7" width="33.4" height="200.5"><rect x="635.2" y="950.7" width="33.4" height="200.5" fill="url(#g3_11)"/></mask><linearGradient id="g3_12" gradientUnits="userSpaceOnUse" x1="0" x2="0" y1="943.6" y2="1150.2"><stop offset="0" stop-opacity="0"/><stop offset=".32" stop-opacity=".01"/><stop offset=".47" stop-opacity=".02"/><stop offset=".56" stop-opacity=".05"/><stop offset=".71" stop-opacity=".13"/><stop offset=".77" stop-opacity=".14"/><stop offset=".83" stop-opacity=".14"/><stop offset=".93" stop-opacity=".09"/><stop offset=".95" stop-opacity=".11"/><stop offset=".98" stop-opacity=".18"/><stop offset="1" stop-opacity=".19"/><stop offset="1" stop-opacity=".19"/><stop offset="1" stop-opacity=".05"/></linearGradient><mask id="m3_12" maskUnits="userSpaceOnUse" x="676.8" y="942.6" width="33.4" height="208.6"><rect x="676.8" y="942.6" width="33.4" height="208.6" fill="url(#g3_12)"/></mask><linearGradient id="g3_14" gradientUnits="userSpaceOnUse" x1="0" x2="0" y1="954.8" y2="1150.2"><stop offset="0" stop-opacity="0"/><stop offset=".4" stop-opacity="0"/><stop offset=".76" stop-opacity=".04"/><stop offset="1" stop-opacity=".02"/><stop offset="1" stop-opacity=".01"/></linearGradient><mask id="m3_14" maskUnits="userSpaceOnUse" x="760" y="953.8" width="33.4" height="197.4"><rect x="760" y="953.8" width="33.4" height="197.4" fill="url(#g3_14)"/></mask><linearGradient id="g3_15" gradientUnits="userSpaceOnUse" x1="0" x2="0" y1="1016.4" y2="1150.2"><stop offset="0" stop-opacity="0"/><stop offset=".6" stop-opacity=".03"/><stop offset=".99" stop-opacity=".02"/><stop offset="1" stop-opacity="0"/></linearGradient><mask id="m3_15" maskUnits="userSpaceOnUse" x="801.6" y="1015.4" width="33.4" height="135.8"><rect x="801.6" y="1015.4" width="33.4" height="135.8" fill="url(#g3_15)"/></mask><linearGradient id="g3_16" gradientUnits="userSpaceOnUse" x1="0" x2="0" y1="976.6" y2="1150.2"><stop offset="0" stop-opacity="0"/><stop offset=".25" stop-opacity=".01"/><stop offset=".68" stop-opacity=".05"/><stop offset=".93" stop-opacity=".02"/><stop offset="1" stop-opacity=".01"/></linearGradient><mask id="m3_16" maskUnits="userSpaceOnUse" x="843.2" y="975.6" width="33.4" height="175.6"><rect x="843.2" y="975.6" width="33.4" height="175.6" fill="url(#g3_16)"/></mask><linearGradient id="g3_17" gradientUnits="userSpaceOnUse" x1="0" x2="0" y1="1020.4" y2="1150.2"><stop offset="0" stop-opacity="0"/><stop offset=".34" stop-opacity="0"/><stop offset=".85" stop-opacity=".02"/><stop offset=".99" stop-opacity=".07"/><stop offset="1" stop-opacity=".07"/><stop offset="1" stop-opacity=".02"/></linearGradient><mask id="m3_17" maskUnits="userSpaceOnUse" x="884.8" y="1019.4" width="33.4" height="131.8"><rect x="884.8" y="1019.4" width="33.4" height="131.8" fill="url(#g3_17)"/></mask><linearGradient id="g3_18" gradientUnits="userSpaceOnUse" x1="0" x2="0" y1="1010.4" y2="1150.2"><stop offset="0" stop-opacity="0"/><stop offset=".96" stop-opacity=".01"/><stop offset="1" stop-opacity="0"/></linearGradient><mask id="m3_18" maskUnits="userSpaceOnUse" x="926.4" y="1009.4" width="33.4" height="141.8"><rect x="926.4" y="1009.4" width="33.4" height="141.8" fill="url(#g3_18)"/></mask><linearGradient id="g3_20" gradientUnits="userSpaceOnUse" x1="0" x2="0" y1="988.5" y2="1150.2"><stop offset="0" stop-opacity="0"/><stop offset=".96" stop-opacity=".01"/><stop offset="1" stop-opacity="0"/></linearGradient><mask id="m3_20" maskUnits="userSpaceOnUse" x="1009.6" y="987.5" width="33.4" height="163.7"><rect x="1009.6" y="987.5" width="33.4" height="163.7" fill="url(#g3_20)"/></mask></defs>
<rect x="344" y="1010.3" width="33.4" height="140.9" fill="url(#hz)" mask="url(#m3_4)"/><rect x="427.2" y="1014.2" width="33.4" height="137" fill="url(#hz)" mask="url(#m3_6)"/><rect x="468.8" y="1021.2" width="33.4" height="130" fill="url(#hz)" mask="url(#m3_7)"/><rect x="552" y="930.9" width="33.4" height="220.3" fill="url(#hz)" mask="url(#m3_9)"/><rect x="593.6" y="964.5" width="33.4" height="186.7" fill="url(#hz)" mask="url(#m3_10)"/><rect x="635.2" y="950.7" width="33.4" height="200.5" fill="url(#hz)" mask="url(#m3_11)"/><rect x="676.8" y="942.6" width="33.4" height="208.6" fill="url(#hz)" mask="url(#m3_12)"/><rect x="760" y="953.8" width="33.4" height="197.4" fill="url(#hz)" mask="url(#m3_14)"/><rect x="801.6" y="1015.4" width="33.4" height="135.8" fill="url(#hz)" mask="url(#m3_15)"/><rect x="843.2" y="975.6" width="33.4" height="175.6" fill="url(#hz)" mask="url(#m3_16)"/><rect x="884.8" y="1019.4" width="33.4" height="131.8" fill="url(#hz)" mask="url(#m3_17)"/><rect x="926.4" y="1009.4" width="33.4" height="141.8" fill="url(#hz)" mask="url(#m3_18)"/><rect x="1009.6" y="987.5" width="33.4" height="163.7" fill="url(#hz)" mask="url(#m3_20)"/>
<path d="M385.88 1150.2H418.67" fill="none" stroke="#222222" stroke-width="3.0" stroke-linecap="round"/>
<path d="M760.12 1150H766.48M786.96 1150H793.32M801.72 1150H809.45M827.2 1150H834.92M843.33 1150H850.41M869.45 1150H876.53" fill="none" stroke="#000" stroke-opacity=".22" stroke-width="1" stroke-dasharray="1 2.6"/>
<path class="dt" d="M681.5 949.5h0m-119 5.8h0m12.6 .5h0m-10.9 3.5h0m3.8-.6h0m113.9 2.5h0m90.1 7.9h0m-114 5.7h0m-87.1 2.7h0m136.1-.3h0m82 .3h0m-233.6 .3h0m205.4 2.8h0m-110.1 2.3h0m6.3 .2h0m-40.3 3.2h0m89.8-.1h0m58.6-.5h0m-204.4 1.1h0m598.4 .6h0m-451.6 .5h0m-147.7 1.2h0m87 1.8h0m209.5 2.2h0m-250.4 1.2h0m85.8 .9h0m-112.4 .4h0m60.3 .6h0m208.4-.5h0m-263.2 1.4h0m61.1 0h0m-85.1 .9h0m98.7-.1h0m-84.8 .8h0m72.8-.2h0m-64.3 1.4h0m13.6 .1h0m17.7 .5h0m-33.2 3.8h0m66.7 0h0m504.2-.5h0m-500.6 1.1h0m376.7 0h0m-386.5 1.6h0m125.3-.5h0m-214 1h0m12.4-.5h0m85.8 1.3h0m13.2-.1h0m22.8 .4h0m453-.4h0m-582.2 1.2h0m1.2 .5h0m13.9-.1h0m-11.2 1.2h0m62.4-.6h0m251.6 1.6h0m-233.7 .2h0m34.9 0h0m-452.9 2.6h0m25.2 .9h0m410.7 .9h0m2.1 .3h0m-82.8 .2h0m106.8 .3h0m289.3 0h0m-392.2 1.5h0m84.3 0h0m471.8-.8h0m-457.4 .9h0m172.3 0h0m183.3 .7h0m-354.3 2.4h0m-106.8 1.8h0m77.4-.1h0m43.7 .2h0m11.4 1h0m-32 .4h0m-309.5 .9h0m113.5-.2h0m207.6 .4h0m335.7-.5h0m55.2 .6h0m-625.7 .5h0m122.9 0h0m130.1 .6h0m-125.7 .4h0m74.2 .4h0m364 .2h0m45.4 0h0m-502.4 2.1h0m91.4 .2h0m39.2-.3h0m-194.1 .7h0m142 0h0m-75.7 1.5h0m124.6-.3h0m92.8 .3h0m32.9-.3h0m-243.3 1.2h0m1.4 .1h0m121.3-.3h0m175.7 1h0m191.4-.2h0m-412.6 .9h0m1.2 .1h0m12-.2h0m35.8 .3h0m319.2 .5h0m-786.2 .8h0m346.8 0h0m80.1-.2h0m-83.7 .5h0m106.4 .8h0m-491.8 .4h0m172.7 0h0m285.7 .2h0m57.4 .3h0m317.5 0h0m-342.2 1h0m-432.6 1.1h0m105.8-.9h0m215 .8h0m80.5-.2h0m203.5 .3h0m8.6-.2h0m-640.6 1.1h0m27.4-.4h0m533.5-.2h0m22.3 .8h0m-323.3 0h0m176.3 .5h0m242.8-.2h0m-323.4 1.7h0m.2-.1h0m84.8-.3h0m4.3 .2h0m319-.6h0m55.8 .4h0m-483.9 .9h0m3-.1h0m128.3 .2h0m181-.4h0m35.4 .4h0m-307.3 .8h0m95.9 .5h0m2.9 .1h0m157.3-.9h0m99.2 .3h0m0 .4h0m-732.7 .3h0m351.9 .4h0m.4-.2h0m-9.2 .9h0m84.2 .7h0m5.5-.7h0m1.1-.1h0m31 .8h0m18-.4h0m72.2 0h0m5.4-.1h0m-533.8 1.2h0m335.4 .2h0m99.9-.4h0m1.1 .3h0m6.5-.5h0m18.5-.1h0m151.6 .1h0m8.6 .2h0m35.1 0h0m93.1 0h0m-396.4 1.3h0m60.6-.5h0m268.4 .2h0m112.8-.3h0m-552.1 1.5h0m78.8-.2h0m.7 0h0m14.9 .2h0m116.4 .2h0m80.2-.1h0m90.6-.3h0m-247.5 1.3h0m67.1-.4h0m11.3 .3h0m60-.1h0m28.7 .2h0m22-.1h0m39.4 0h0m102-.1h0m-344.8 .8h0m36.7 .6h0m57.8-.7h0m84.8 .3h0m-210.2 .8h0m1.8-.2h0m56.6 .9h0m138.5-.7h0m-156.6 1h0m236.4 .2h0m21.6-.5h0m0 .1h0m55.2 .8h0m-452.6 1h0m226.8 .1h0m129.1-.7h0m199.7 .7h0m-852.1 .8h0m454.2-.2h0m174.4-.5h0m59.9 .3h0m4.9 .2h0m-423.8 .7h0m133.1 .2h0m66.6-.4h0m54.1 .5h0m249.9 .4h0m2.5-.7h0m34.3 .4h0m-421.9 1.3h0m28.7-.3h0m170.5-.1h0m81.9-.4h0m14.3 .3h0m9.8-.2h0m18.8 .4h0m141.7-.6h0m-596.5 1.1h0m119.7 .3h0m18.8-.2h0m1.5 .4h0m68.4 .2h0m12.7 .1h0m.5 0h0m241-.9h0m-662.1 1.5h0m399.2 .2h0m20.7-.2h0m46.2 0h0m252.4-.2h0m68 .1h0m-552.9 .9h0m83-.3h0m79.5 .6h0m12.6-.1h0m5.2 0h0m6-.3h0m33.5 .6h0m96.5-.1h0m38.2 0h0m329.1-.6h0m-593.1 1.2h0m96.3 .6h0m-203.9 .9h0m185.4-.6h0m9.6-.2h0m40.6 .2h0m97.7 .6h0m43-.8h0m.7 .5h0m27.4 .2h0m-613.4 .5h0m352.3 .4h0m9.2-.2h0m40.8-.3h0m12.8 .5h0m26.6-.6h0m14.7 0h0m144.7 0h0m97 .2h0m-390.2 1.7h0m.1-.5h0m94.7 .4h0m.7-.7h0m10.6-.1h0m186.3 .3h0m106.6 .3h0m71.4 0h0m-458.9 .5h0m89.3 .2h0m42.1-.2h0m-373.6 1.5h0m243.7-.4h0m13.4 .6h0m44.2-.4h0m13.3 .1h0m21.8 .3h0m24.9 0h0m368.4-.6h0m-486 1.6h0m16 0h0m391.9-.1h0m-624.6 .3h0m231.5 0h0m56.9 .9h0m54.2-.4h0m77.7 .2h0m82.6-.8h0m-291.5 1.2h0m102.9 .5h0m34.8 .2h0m269.2-.7h0m-332.4 1.3h0m66.7-.1h0m250.7 .4h0m78.8-.7h0m-658.3 1.6h0m208.4-.2h0m54.9-.5h0m.1 .2h0m9.3 .5h0m3.4-.2h0m4.3 .2h0m24.8-.3h0m17.4 .4h0m1.6-.2h0m62.6 .3h0m39.7-.6h0m-582 .7h0m345 1h0m48.4-.7h0m64.4 .4h0m172 .3h0m-296.5 .4h0m147 .6h0m3.4-.5h0m-393.1 .8h0m243.9 .1h0m10.1 0h0m2.7 .3h0m239.4-.2h0m49.8-.4h0m102.5 .7h0m-589.3 .9h0m71.8-.5h0m136.7 .6h0m80.7-.5h0m8.4 .2h0m.1-.3h0m35.9 .5h0m162.2-.2h0m280.2 .5h0m-902.6 .9h0m245.1-.8h0m3.4 .3h0m62.7-.1h0m4.5 .1h0m10.8-.2h0m24.2 0h0m5.7 .3h0m45.2-.1h0m10.8-.4h0m25.3 .2h0m23.5 .5h0m79.2-.1h0m79.3 .3h0m168-.1h0m-461.3 1.2h0m44.7-.5h0m35.6 .2h0m.2 .2h0m4.7-.7h0m1.3 .2h0m32 .2h0m138.4 .1h0m45.6-.5h0m290 .2h0m-607 1.5h0m17.5 0h0m74.3-.2h0m159-.1h0m17.3 .3h0m43.9-.8h0m-311.8 1.1h0m1.5-.1h0m1.7 0h0m4.5 .6h0m3.8 .1h0m93.3-.6h0m2.8 .4h0m3.3 .2h0m16.1-.7h0m92.1-.1h0m99.5 .6h0m162.6 .4h0m-796.7 .6h0m76.7 .1h0m174.2-.3h0m83.2 .4h0m4.3-.7h0m.6 .8h0m19.9-.2h0m24.9-.1h0m42.5 0h0m24.2 .1h0m4.7-.3h0m93.3 .5h0m18.6-.7h0m5.7 .7h0m39.4 .1h0m15.6-.4h0m79 .2h0m73.7 0h0m85.4 0h0m-921.3 .6h0m20.3 .1h0m120-.3h0m35.8-.2h0m109 .3h0m86.2 .6h0m95.8-.8h0m13 .5h0m2.6 .3h0m10.3-.5h0m156.8 .2h0m-381.6 .9h0m102.1 0h0m27-.3h0m34.3 .2h0m27 .1h0m1.5-.5h0m7.4 .9h0m50.4 0h0m189.1-.2h0m101.3-.3h0m142.7-.3h0m-931.8 1.8h0m110.4-.4h0m157.2-.4h0m105.5 .7h0m69.7-.7h0m12.8 .7h0m50.1 0h0m31.3-.3h0m39.7-.4h0m11.4 .9h0m239.6-.8h0m-791.7 .8h0m136.8 .8h0m184.5-.6h0m16.7 .5h0m63.3-.6h0m146.3 .5h0m-565 .9h0m279.6 .3h0m57.6-.6h0m13.1 .5h0m7.8-.4h0m2.4 .4h0m14 .1h0m7.4-.4h0m2.1-.4h0m1.1 .1h0m1.1 .7h0m51.9-.2h0m4.9 .3h0m94.9-.4h0m17.3 .1h0m-225.4 .7h0m3.9 .5h0m85.6-.7h0m3.2 .4h0m8.9 .3h0m48.6-.4h0m70.8 0h0m48-.4h0m90.1 .1h0m-478.6 1.4h0m128.4 0h0m0 .4h0m4.2 0h0m2.2-.7h0m.2 .1h0m50.8 0h0m17.5 .6h0m23.2-.1h0m26.5-.3h0m8.3 .5h0m10.5-.5h0m3.5 .3h0m82.3 0h0m56.2-.2h0m27.9-.3h0m33.2 .4h0m-715.2 .6h0m240-.2h0m38.3 .7h0m20.7-.6h0m76.9-.2h0m1.3 .4h0m3.8 .4h0m1.3-.4h0m111.8 .1h0m3.5-.3h0m10.9 .7h0m5.1-.3h0m55.4-.5h0m153.8-.1h0m-566.5 1.1h0m110.6 .1h0m181.2 .3h0m8.3 0h0m5.1 .2h0m177.3-.1h0m38-.4h0m113.7 0h0m-731.9 1.3h0m309.7 0h0m7 .1h0m.2-.1h0m13 0h0m15.5-.1h0m25.7 .4h0m69.1-.4h0m17 0h0m65.7-.1h0m42.5 .2h0m95.4 .4h0m33.3-.6h0m-471 1.1h0m18.6 .2h0m6.2 0h0m57.8 .2h0m10.7-.1h0m11-.1h0m29.7-.5h0m32.1 .2h0m15.4 .7h0m38.8-.8h0m119.3 .7h0m30.7-.3h0m6.4 .2h0m7.7 0h0m284.7-.7h0m-915.8 1.3h0m144.2-.3h0m180.9 .6h0m20.1-.1h0m4.1-.2h0m.7-.2h0m4.9 .6h0m1.7 .2h0m60.4 0h0m48.1-.1h0m14.7-.4h0m111.4 0h0m167.8-.2h0m179.9 0h0m-734.4 1.4h0m38.4-.1h0m101.1-.5h0m11.1 .3h0m52.9 0h0m9.7-.3h0m18.4 .7h0m14.2 0h0m1.7-.7h0m8.1 .1h0m8.1 .1h0m9.8 .3h0m69.2-.3h0m52.3 .3h0m129.2-.2h0m54.5 .4h0m151.2-.7h0m-932.3 1.7h0m328 0h0m1.1-.2h0m3.6 .4h0m9.2 0h0m5.7-.5h0m49.4-.1h0m30.3 .1h0m32.9 .2h0m1.6 .1h0m15.9-.4h0m59.5 .1h0m13-.5h0m259.2 .1h0m76.5 .8h0m29.9-.6h0m-704.2 1.6h0m14.6-.6h0m98-.1h0m5.2 .2h0m10 .3h0m8.2-.6h0m17.4 0h0m64.3 .8h0m2.5-.2h0m2.3-.5h0m.2 .3h0m21.6-.4h0m10.3 .5h0m10.4-.4h0m77.8 0h0m74.9-.1h0m-555.3 1h0m51.4 .9h0m115.8-.2h0m11.2 .2h0m9.4-.2h0m62.1-.4h0m1.3 .4h0m16 0h0m1.1-.3h0m76.9 .5h0m224.8-.2h0m282.4-.5h0m-906.5 1.1h0m307.2-.3h0m9-.1h0m1.3 .2h0m80.8-.1h0m10.4 .6h0m.6-.5h0m29.4 0h0m6.9 .7h0m9.6-.5h0m.5 .1h0m2.9-.4h0m53.6 .7h0m55.2 0h0m26.6 0h0m12.5 0h0m6.1-.6h0m-620.1 .8h0m115.5 .5h0m123.1 .2h0m88.5-.3h0m6.3 .1h0m2.1-.2h0m68.6-.1h0m8.1 .5h0m3.1 .1h0m21.8 .2h0m132.8-.2h0m52.7-.2h0m10.5 .1h0m-419.4 1h0m45.3-.7h0m63.5 1h0m17.8-.9h0m.1 .8h0m58.8-.6h0m10.4-.3h0m9.9 .6h0m.4-.1h0m19.3 0h0m187.5 .5h0m45.9-.9h0m240.6 .1h0m-933.1 1.5h0m128.7-.1h0m20.7-.1h0m186.8 0h0m65.9-.4h0m20.7 .9h0m14.4-.6h0m19.4 .6h0m11.1-.8h0m93.7 .3h0m6.1 .4h0m163.7-.5h0m-762.2 1.4h0m49.6-.6h0m293.5 .5h0m30.9 0h0m1-.1h0m9.9 .4h0m1.9-.1h0m72.2-.6h0m5.2-.2h0m12.6 .2h0m0 .7h0m11-.6h0m5.3-.3h0m5.6 .7h0m5-.7h0m68.1 .6h0m25.4-.1h0m24.6 .3h0m115.3-.7h0m16.4 .2h0m160.6 .3h0m-737.3 1h0m184.9-.1h0m4.2-.6h0m16 .5h0m0-.1h0m7.2 0h0m30.9-.1h0m30.5 .1h0m2.8 0h0m7.1 .3h0m29.2 .2h0m7.1-.9h0m350.4 .2h0m60.4 .7h0m-615.3 .3h0m82.3 0h0m6.8 .8h0m2-.5h0m2.4 .3h0m5.1 0h0m34.7-.4h0m3.8 .5h0m153.4 0h0m11.5-.3h0m23.7 .4h0m178.5-.1h0m-744.7 .9h0m46 0h0m33.2 .2h0m155.2-.3h0m87.1 .3h0m.4-.8h0m4.3 .4h0m2.3-.4h0m5.8 .2h0m22.2 .2h0m86.4 .2h0m103.2 .2h0m14.9-.4h0m18.7-.4h0m5.6 0h0m22.5-.1h0m23.8 .4h0m76.8-.2h0m119-.2h0m79.7 .4h0m-823.5 1.1h0m226 .1h0m18.9 .1h0m1.7-.6h0m.1 .6h0m4.1 .1h0m3.5-.2h0m121.8 .2h0m68.4-.4h0m12.7-.5h0m21.4 .3h0m4.8 0h0m106.6-.2h0m60.2 .4h0m54 .4h0m-724.7 .2h0m46.6 .6h0m3-.7h0m2.5 .7h0m200.9-.7h0m4.6 .6h0m16.6-.1h0m37.5 0h0m8.4-.1h0m79.5 .5h0m.4-.4h0m26.6 .4h0m27.8-.9h0m28.3 .4h0m56.7-.2h0m1.1 .4h0m40.1 0h0m58.3-.1h0m211.5 .2h0m-600.6 .8h0m1.7-.2h0m9.2 .3h0m40.2-.1h0m14.1 .4h0m21.4-.9h0m12.6 .4h0m22.3 0h0m27.1 .6h0m57.1 0h0m43.2-.2h0m20.8-.1h0m27.3-.4h0m43.8 .4h0m-548.1 1.2h0m22.6-.6h0m103.5 .5h0m78.6-.6h0m9.1 .3h0m2.7-.2h0m88.6 .4h0m26.7-.5h0m5.7 .7h0m12.5-.2h0m.1-.3h0m2.2-.2h0m70.7 .1h0m14.7 .1h0m44.4-.1h0m19.6 .5h0m9.3 .2h0m290.3 0h0m-638.3 .7h0m69-.3h0m39.6-.3h0m36.5 .8h0m28.2-.9h0m127.6 .2h0m7.1 .7h0m13.7-.7h0m116.8 .6h0m67 .1h0m12.5-.3h0m109.2-.5h0m-904.7 1.8h0m130.8-.7h0m189.2 .5h0m8-.2h0m9.7-.5h0m9.9 .5h0m56.5 .1h0m1.4 .2h0m40.6-.4h0m9.1 .1h0m8.5-.3h0m3.5-.2h0m64.5 .4h0m2.9-.2h0m47.1 .2h0m10.4 .1h0m20.7 0h0m6.8 .3h0m1.8 0h0m11.5-.6h0m3.9-.1h0m25.9 .5h0m46.7-.6h0m70.6 .7h0m20.5-.2h0m79.4 0h0m-932.3 1.1h0m57.3 .1h0m135.9-.5h0m113.3 0h0m9.8 .4h0m61.4 .1h0m5-.1h0m1.3-.5h0m5.9-.1h0m2.9 .6h0m2.4 .2h0m35 0h0m4.2 .2h0m27.4-.9h0m.4 .5h0m18 .3h0m19.6-.2h0m5.9 .3h0m99.8-.7h0m39.8 .7h0m.4-.7h0m30.3 .2h0m38.4 .4h0m75.1-.9h0m-729.3 2h0m110.8-.3h0m88-.3h0m1.9 .6h0m44.7-1h0m83.8 .7h0m26.8 0h0m6.5-.1h0m33.7-.1h0m3.5 .1h0m8.9-.4h0m10.7 .4h0m7 .1h0m12.4-.6h0m12.8 .1h0m464.1-.1h0m-829.3 1h0m101 .4h0m98.6-.2h0m28.7-.2h0m89.3 .7h0m.3-.1h0m14-.6h0m28.6 .4h0m2.9-.2h0m4.2-.2h0m2.3 .6h0m68.3-.6h0m61.3 .3h0m29.9 .4h0m8.1 .2h0m24.3-.7h0m104.6 .3h0m-809 .7h0m141.6 .3h0m151.4 .2h0m51.6-.8h0m23 .1h0m14.2 .6h0m.2 .1h0m53.6-.3h0m39.4-.1h0m16.8-.4h0m8.6 .1h0m74.7 .2h0m129.4 .5h0m137.2-.1h0m-838.6 .5h0m124.9 .7h0m44.4-.2h0m121.4 .2h0m7.2-.9h0m80.3 .2h0m6.4-.1h0m6.1 0h0m78.4 .7h0m6.4-.4h0m26.5 0h0m113.5 .3h0m62.1 0h0m171.1 .3h0m-794.7 .7h0m193.4-.7h0m120.7 .7h0m4.7-.4h0m.2 .5h0m15.7-.2h0m33.6-.1h0m15.6 .2h0m32.5-.3h0m27 0h0m9.8 .1h0m64.7 0h0m255 0h0m-741.7 .9h0m81.4 .3h0m199.2-.4h0m.3 .6h0m9.4-.4h0m21.2 .4h0m18.9-.6h0m18.9 .3h0m20.1-.1h0m8.3 .2h0m14.9-.7h0m35 .3h0m76.2-.3h0m29.6 0h0m18.8 .1h0m33.7 .4h0m130.5-.5h0m34.6 .3h0m118.8 .7h0m-906.3 .9h0m118.5-.6h0m119.3 0h0m58.7-.3h0m19.7 .1h0m27.6 .1h0m3.5 0h0m55.7 .1h0m13.1 .6h0m44-.6h0m3.8 .2h0m2.6 0h0m.7 .5h0m84.1-.1h0m31.8 .1h0m126.1-.7h0m47.9 .2h0m-757.4 1.4h0m14.8-.7h0m229.3 .8h0m71.8-.3h0m13.6-.1h0m1.2 .1h0m1.3-.6h0m10.7 .1h0m19 0h0m19.1 .6h0m23.4-.5h0m43.5 .2h0m24.5-.2h0m52.4 .7h0m4.8-.7h0m6.7 .4h0m59.4 .1h0m61.9-.5h0m78.3 .4h0m0-.2h0m37.9 .4h0m4.2-.1h0m-681.6 1.1h0m40.6-.7h0m69.2 .4h0m53.8-.5h0m56.7 .4h0m11.6-.3h0m9.8 0h0m69 .6h0m.5 .1h0m7.5-.4h0m54.7-.4h0m108.5 0h0m332.5 .3h0m1.6 .6h0m-838.2 .2h0m.1 .6h0m15.4-.4h0m189.5 .4h0m46.4-.5h0m7.8 .1h0m5.5-.3h0m45.9 .3h0m41.8 .1h0m20.7 .4h0m16.1-.3h0m5.8-.3h0m83.3-.3h0m13.3 .3h0m92.5 .1h0m45.9 .2h0m59.1 .2h0m82.7 0h0m60.3-.5h0m13.6 .5h0m-891.9 .9h0m52.5-.7h0m59.4 .2h0m52.6 .4h0m131.7 .2h0m11.9-.4h0m8.6-.3h0m.8 .3h0m3.1-.1h0m80.3-.2h0m32.4 .9h0m6.4-.7h0m167.3 .6h0m32.3-.2h0m175.5 .3h0m-851 .2h0m16.4 .5h0m191.5 .2h0m46.3-.2h0m73.8 0h0m2.7-.6h0m10.7 .1h0m12.1 .3h0m3.1-.4h0m37.8 .5h0m15 .4h0m26.7-.6h0m20 .4h0m117.6-.5h0m47 .2h0m167 0h0m-723.8 1.2h0m64-.6h0m129.9 .4h0m74.2 .3h0m2.5-.8h0m7.9 1h0m12.7-.2h0m15.7 0h0m11.5-.6h0m5.3 .7h0m6.1-.8h0m3.4 .8h0m39.6-.4h0m17 .4h0m15.3-.8h0m48.8 .9h0m4.8-.8h0m20.3-.2h0m45.2 .7h0m8.1-.5h0m195.4 .2h0m12.5-.2h0m-724.3 1.1h0m125.1-.1h0m60.1 .7h0m68.3-.6h0m10.4-.3h0m78.8 .6h0m2.8-.1h0m25.1-.4h0m218.5 .7h0m14.2-.4h0m16 .5h0m225.4-.4h0m6.4-.4h0m-973 1.7h0m18.6-.5h0m118.7 .5h0m22.1-.8h0m175.8 .1h0m38.5 .1h0m15.1-.2h0m6.7 .3h0m22.5 .7h0m43.7-.5h0m12.2-.4h0m2.9 0h0m16.7 .1h0m11.3 .3h0m11.8 .3h0m78.3-.3h0m21.2-.1h0m156.2-.1h0m-640 .9h0m27.3 .6h0m83.2-.3h0m22.6 .3h0m28.7-.8h0m9.5 .3h0m89 .1h0m16.8 .2h0m11 0h0m50.3-.1h0m3.5-.2h0m17-.2h0m.4-.1h0m4.3 .6h0m22.7 .2h0m128.3-.5h0m103.8-.1h0m3 .4h0m59.5 .1h0m41.4-.1h0m-612.8 .9h0m15.3 .4h0m82.9-.6h0m30.3 .4h0m17.5 .2h0m81-.7h0m5.6 .5h0m20.1-.6h0m176 .4h0m71.3-.1h0m88.2 .1h0m1.3 .3h0m-696.6 .7h0m33.5 0h0m115.6-.5h0m99 .8h0m.2-.7h0m12.2-.1h0m105.6 1h0m251.4-.8h0m2.5-.1h0m-718.6 1.4h0m7.9 .3h0m42.8-.6h0m74.1 .6h0m7.9-.7h0m208.2 .7h0m75.5-.1h0m10.9-.3h0m14.7 0h0m21.3 .1h0m10.8 0h0m63.7-.2h0m19.6 .6h0m46.2-.7h0m47.2 .8h0m163.8-.5h0m4.2 0h0m-804.1 .9h0m129-.1h0m9.1-.1h0m180.7 .1h0m.7 0h0m5.1 .4h0m3.1-.2h0m41.8-.3h0m30.8 .1h0m15.7-.1h0m3.6 .1h0m41-.1h0m165 .3h0m77.7 .4h0m14.8-.2h0m15.7-.5h0m67.8 0h0m62.3 .4h0m-849.2 1.2h0m35.2-.6h0m27.9 .2h0m1.5-.2h0m56.3 .7h0m.5-.3h0m74.7-.1h0m6.6 .2h0m.2-.5h0m113.9 .5h0m1.1 .2h0m9-.9h0m38.4 1h0m18.6-.4h0m7.3-.3h0m35 .2h0m6.2-.2h0m191.9 .2h0m18.8 .2h0m14-.2h0m83.4-.1h0m3.4 .3h0m29.5-.2h0m2-.2h0m45.9 .6h0m-865.1 .8h0m32.1 .1h0m245.8 0h0m84.7-.3h0m12.7 .2h0m27.3-.6h0m67.1 .2h0m18.9 .4h0m4.9-.2h0m63.4 .1h0m5.5-.3h0m21.9 .7h0m101.5-.5h0m36.2 .5h0m.8-.9h0m54.7 .7h0m-639.3 .9h0m8.3-.4h0m16.5 .2h0m74.7 0h0m40.1 .4h0m96.8-.5h0m85.5-.2h0m17.7 .1h0m14.9 .1h0m3.1 .5h0m66.7-.7h0m5.6 .6h0m27 .1h0m91.1-.3h0m39.3 .3h0m15.5-.2h0m124.6 .2h0m-852 .4h0m98.6 .5h0m28.5-.4h0m136.7-.3h0m76.4 .6h0m4.6-.3h0m4.3 0h0m3.3 .1h0m21.4-.3h0m51.6 .3h0m54.6-.5h0m104.8 .5h0m27.6-.4h0m11.8 .2h0m4.4 .7h0m36.7-.7h0m146.7-.2h0m121.3 .6h0m-973.9 .6h0m70.6-.2h0m12.9 .4h0m106-.2h0m57.4-.1h0m71.5 .7h0m56.1-.1h0m69.4-.6h0m11.9 .5h0m9 0h0m11.6 .2h0m24.7-.3h0m6.5 0h0m197.2 0h0m191.7-.4h0m-850.2 1.3h0m24 .4h0m102-.7h0m99.3-.1h0m99.7 .8h0m1.5-.4h0m55.9-.4h0m14.7 .1h0m54.9 .3h0m190.5-.4h0m28.6 .1h0m17 0h0m38.3 .3h0m183.3 .1h0m-940.1 1h0m12.3 .2h0m68.3-.6h0m33.2 .5h0m17.5-.4h0m248.4 0h0m1.7 .7h0m30.9-.5h0m34.9-.5h0m47 .8h0m0 .2h0m4.2-.6h0m197.8 .1h0m88.4 0h0m-797.5 .8h0m53.2 .6h0m113.7 0h0m16.6-.3h0m202.4-.1h0m39.2-.2h0m47.5-.2h0m27.5 .8h0m79.8-.3h0m40.9 .3h0m58.9-.7h0m3.9 .1h0m5.8 .1h0m38.2 .4h0m21.3-.7h0m11 .3h0m15.8 .2h0m51-.5h0m148.2 .6h0m-892.2 .9h0m79.4 .3h0m21.5-.5h0m73.7 0h0m39 .5h0m4.4-.5h0m11.8 .1h0m1.1 0h0m35.1 .3h0m25.3-.2h0m1-.5h0m10.7 .6h0m69.2-.5h0m.3-.1h0m1.1 .1h0m8.3-.1h0m40.7 .1h0m50.3 .6h0m119.2 0h0m9.1 0h0m25.3-.3h0m8.9 .1h0m2.2-.2h0m42.8-.4h0m210.2 .9h0m-912.6 1h0m208.3-.7h0m110.3 .7h0m3.5-.1h0m42.9-.5h0m7.7 .6h0m8.2-.6h0m76 .3h0m167.8-.1h0m22.2-.4h0m16.2 .1h0m77.6 .5h0m160.3 .2h0m16.9 0h0m-842.6 1h0m41 0h0m7.5-.2h0m5.4-.5h0m77.7 .8h0m126.1-.2h0m5.6-.7h0m23.4 .4h0m31 .1h0m10.6-.3h0m2.6 .4h0m1.2-.6h0m29.9 .1h0m14.2 0h0m4.6 .5h0m7.4 .2h0m70.8-.2h0m75.7-.1h0m39.2-.5h0m13.4 0h0m1 .6h0m77-.5h0m10.2 .8h0m46.8-.4h0m52.8 0h0m-856.1 1.2h0m78.5-.6h0m57.4 .2h0m183.9-.3h0m2.3 .4h0m11.9-.2h0m27.6 .1h0m2.4-.3h0m18.6 .1h0m2.5 .4h0m.3-.3h0m2.5 .3h0m26.8-.6h0m3 .7h0m30.1 .3h0m115.3-.4h0m1.1 .2h0m43.4 .1h0m40.3-.5h0m5.8-.3h0m22.5 .1h0m57.6 .2h0m47.2 .2h0m-819.2 .9h0m153-.2h0m284.9 .2h0m46.2-.1h0m20.8 0h0m73.8 .2h0m153-.5h0m5.7 .3h0m19.8 .5h0m-646.3 1h0m168.2-.4h0m18.7 .3h0m79.8-.3h0m4.1 .1h0m21.3-.2h0m4.3-.2h0m89.6 .1h0m.8 .2h0m3.8 .5h0m248.5-.3h0m-380.4 .4h0m73.6 .5h0m15.5-.3h0m43.9 .5h0m63.2-.3h0m44-.3h0m88.4 .6h0m55.5-.6h0m-330.5 1h0m71.2 .7h0m155.2-.5h0m-142.1 .9h0m71.5 .1h0m9.8 .1h0m97.4 .5h0m6.6-.3h0m9-.1h0m2.8-.4h0m-278.8 1h0m39.2 .2h0"/>
<rect class="ax" x="173" y="920.2" width="998" height="240.7"/>
<path class="tk" d="M173 949h-8M173 1049.5h-8M173 1150h-8"/>
<text x="158.4" y="960.33" text-anchor="end">2</text>
<text x="158.3" y="1060.83" text-anchor="end">1</text>
<text x="158" y="1161.33" text-anchor="end">0</text>
<text x="672.7" y="906.3" text-anchor="middle">TBR1</text>
<text transform="translate(125.3 1042.55) rotate(-90)" text-anchor="middle">TBR1</text>
</g>
<g>
<path class="v" fill="#cc2957" d="M194.61 1385.44l.32 6.5l.38 4l1.45 9.5l.92 3.75l.97 2.25l1.19 2l5.02 6.25l2.71 4l1.87 4l.54 1.75l.38 2l.09 1.75l-.21 1.25l-.54 1.25l-.8 1l-1 .75l-1.56 .75l-3.13 1l-1.87 .41l-14.18 0l-1.87-.41l-3.13-1l-1.56-.75l-1-.75l-.8-1l-.54-1.25l-.21-1.25l.09-1.75l.38-2l.54-1.75l1.87-4l2.71-4l5.02-6.25l1.19-2l.97-2.25l.92-3.75l1.45-9.5l.38-4l.32-6.5z"/>
<path class="v" fill="#43a350" d="M236.05 1375.42l.04 30l.26 3.25l.68 3.5l1.09 3l1.84 3.25l3.89 5.75l6.64 8.75l.86 1.5l.26 1l-.07 .75l-.39 .75l-1.36 1l-3.72 1.25l-2.05 .5l-1.07 .07l-14.19 0l-1.07-.07l-2.05-.5l-3.72-1.25l-1.36-1l-.39-.75l-.07-.75l.26-1l.86-1.5l6.64-8.75l3.89-5.75l1.84-3.25l1.09-3l.68-3.5l.26-3.25l.04-30z"/>
<path class="v" fill="#e5cf30" d="M278.11 1369.69l.13 23.25l.53 5.5l.91 5.25l1.24 4l1.33 3l6.86 11.25l2.44 4.5l1.44 3.5l.61 2.5l-.04 1.25l-.37 1.25l-.58 1l-1.05 1l-1.37 .75l-2.08 .75l-3.85 1l-1.07 .01l-11.46 0l-1.07-.01l-3.85-1l-2.08-.75l-1.37-.75l-1.05-1l-.58-1l-.37-1.25l-.04-1.25l.61-2.5l1.44-3.5l2.44-4.5l6.86-11.25l1.33-3l1.24-4l.91-5.25l.53-5.5l.13-23.25z"/>
<path class="v" fill="#536fcd" d="M319.26 1377.28l.05 31l.33 3.25l.88 4.25l.71 2.25l.87 2l1.34 2.5l1.47 2.25l3.85 4.75l1.95 2l2.9 2.5l.6 .75l.18 .5l-.2 .75l-.47 .5l-1.81 1l-4.06 1.25l-3.26 .75l-1.15 .07l-8.75 0l-1.15-.07l-3.26-.75l-4.06-1.25l-1.81-1l-.47-.5l-.2-.75l.18-.5l.6-.75l2.9-2.5l1.95-2l3.85-4.75l1.47-2.25l1.34-2.5l.87-2l.71-2.25l.88-4.25l.33-3.25l.04-31z"/>
<path class="v" fill="#e38741" d="M360.87 1357.23l.03 38.25l.42 6.5l.76 5l1.21 4.25l2.42 5.25l3.56 5.75l6.13 8.5l.96 1.75l.34 1.25l-.06 1l-.4 1l-.66 .75l-.74 .5l-1.11 .5l-2.45 .75l-2.06 .5l-1.1 .07l-14.9 0l-1.1-.07l-2.06-.5l-2.45-.75l-1.11-.5l-.74-.5l-.66-.75l-.4-1l-.06-1l.34-1.25l.96-1.75l6.13-8.5l3.56-5.75l2.42-5.25l1.21-4.25l.76-5l.42-6.5l.03-38.25z"/>
<path class="v" fill="#8a2ba3" d="M402.92 1357.95l-.08 23.5l.65 6.5l1.05 5.25l1.27 4l1.58 3.25l1.37 2l5.66 7.25l2.22 3.5l1.31 3l.66 3l-.05 1.5l-.31 1.5l-.69 2l-.87 1.75l-6.44 9.5l-1.31 1.5l-1.08 .85l-11.17 0l-1.08-.85l-1.31-1.5l-6.44-9.5l-.87-1.75l-.69-2l-.31-1.5l-.05-1.5l.66-3l1.31-3l2.22-3.5l5.66-7.25l1.37-2l1.58-3.25l1.27-4l1.05-5.25l.65-6.5l-.08-23.5z"/>
<path class="v" fill="#53dbde" d="M444.08 1365.39l.02 37.5l.25 5.75l.54 3.5l.67 2.5l.75 2l1.23 2.5l1.47 2.5l3.31 4.5l6.31 7l.79 1.25l.28 1l-.12 .75l-.29 .5l-1.38 1l-2.86 1l-4.22 .96l-13.9 0l-4.22-.96l-2.86-1l-1.38-1l-.29-.5l-.12-.75l.28-1l.79-1.25l6.31-7l3.31-4.5l1.47-2.5l1.23-2.5l.75-2l.67-2.5l.54-3.5l.25-5.75l.02-37.5z"/>
<path class="v" fill="#dc3ddc" d="M485.68 1330.45l.03 43.25l.5 8l.75 6.5l1.5 7.25l2.29 7.5l2.63 7.25l6.96 17.25l.91 2.75l.31 1.75l-.09 1.25l-.41 1.25l-.82 1.25l-.89 .75l-2.82 1.25l-3.65 1l-1.02 .1l-12.75 0l-1.02-.1l-3.65-1l-2.82-1.25l-.89-.75l-.82-1.25l-.41-1.25l-.09-1.25l.31-1.75l.91-2.75l6.96-17.25l2.63-7.25l2.29-7.5l1.5-7.25l.75-6.5l.5-8l.02-43.25z"/>
<path class="v" fill="#acde23" d="M527.29 1360.1l.01 43.5l.16 3l.41 2.75l.89 2.75l1.71 3l2.07 2.75l8.39 10l1.52 2.25l.48 1.5l-.07 1l-.37 1l-.67 1l-.8 .75l-1.32 .75l-1.3 .5l-4.57 1.2l-13.48 0l-4.57-1.2l-1.3-.5l-1.32-.75l-.8-.75l-.67-1l-.37-1l-.07-1l.48-1.5l1.52-2.25l8.39-10l2.07-2.75l1.71-3l.89-2.75l.41-2.75l.16-3l.01-43.5z"/>
<path class="v" fill="#f0c3be" d="M568.9 1275.17l.02 81.25l.36 16.25l.6 7.5l.69 5.5l.82 4.75l1.01 4.5l1.23 4.25l1.15 3.25l1.28 3l4.79 9.5l1.91 4.25l1.65 4.75l.52 2.75l-.16 1.5l-.71 1.75l-1.02 1.5l-1.52 1.5l-2.39 1.75l-2.9 1.75l-2.9 1.25l-2.98 .92l-3.31 0l-2.98-.92l-2.9-1.25l-2.9-1.75l-2.39-1.75l-1.52-1.5l-1.02-1.5l-.71-1.75l-.16-1.5l.52-2.75l1.65-4.75l1.91-4.25l4.79-9.5l1.28-3l1.15-3.25l1.23-4.25l1.01-4.5l.82-4.75l.69-5.5l.6-7.5l.36-16.25l.02-81.25z"/>
<path class="v" fill="#106e6e" d="M610.5 1251.25l.03 62.25l.35 16.25l.49 7.75l.75 5.5l3.93 22.25l1.04 4l2.76 8.75l1.85 6.5l2.26 9.25l1.76 11l.94 11l-.08 3l-.4 2.75l-.89 3.5l-.92 2.25l-1.07 1.75l-4.29 6l-1.43 1.25l-1.66 1l-.46 .12l-10.32 0l-.46-.12l-1.66-1l-1.43-1.25l-4.29-6l-1.07-1.75l-.92-2.25l-.89-3.5l-.4-2.75l-.08-3l.94-11l1.76-11l2.26-9.25l1.85-6.5l2.76-8.75l1.04-4l3.93-22.25l.75-5.5l.49-7.75l.35-16.25l.03-62.25z"/>
<path class="v" fill="#e1befa" d="M652.1 1341.48l.03 45.25l.25 4.25l.59 4.5l.96 3.5l1.84 4l7.78 12.5l2.21 4l1.03 2.5l.72 2.25l.47 2.25l.2 2l-.19 1.5l-.69 1.5l-1.23 1.5l-1.6 1.25l-1.88 1l-2.63 1l-5.23 1.5l-.96 .07l-3.73 0l-.96-.07l-5.23-1.5l-2.63-1l-1.88-1l-1.6-1.25l-1.23-1.5l-.69-1.5l-.19-1.5l.2-2l.47-2.25l.72-2.25l1.03-2.5l2.21-4l7.78-12.5l1.84-4l.96-3.5l.59-4.5l.25-4.25l.02-45.25z"/>
<path class="v" fill="#96693a" d="M693.71 1247.67l.01 107.75l.18 14l.47 7.5l.84 6.25l.99 4.25l1.02 3.5l1.46 4.25l1.69 4.25l7.16 16.25l1.61 5.25l.53 2.75l.2 2l-.15 1.75l-.57 1.75l-1.06 2l-1.32 1.75l-1.33 1.25l-1.43 1l-2.37 1.25l-2.25 .95l-11.76 0l-2.25-.95l-2.37-1.25l-1.43-1l-1.33-1.25l-1.32-1.75l-1.06-2l-.57-1.75l-.15-1.75l.2-2l.53-2.75l1.61-5.25l7.16-16.25l1.69-4.25l1.46-4.25l1.02-3.5l.99-4.25l.84-6.25l.47-7.5l.18-14l.01-107.75z"/>
<path class="v" fill="#6e0f0f" d="M735.62 1221.17l-.2 63.5l.28 18l.47 8l1.67 14l3.72 24.75l1.87 10l4.1 18.5l1.97 10l1.26 9l.82 8.75l.06 3.5l-.19 3.5l-.49 4.25l-.66 4l-.67 2.5l-1.07 3l-1.25 3l-1.52 3.08l-21.35 0l-1.52-3.08l-1.25-3l-1.07-3l-.67-2.5l-.66-4l-.49-4.25l-.19-3.5l.06-3.5l.82-8.75l1.26-9l1.97-10l4.1-18.5l1.87-10l3.72-24.75l1.67-14l.47-8l.28-18l-.2-63.5z"/>
<path class="v" fill="#aff3c8" d="M776.92 1283.76l.06 66.5l.18 10.5l.55 7.25l1.25 7l2.5 8.5l1.63 4.25l4.44 9l2.76 6.5l1.95 6l.6 2.5l.25 2l-.1 1.75l-.48 2l-1.06 2.75l-1.21 2.5l-2.09 3.25l-7.56 10.36l-7.74 0l-7.56-10.36l-2.09-3.25l-1.21-2.5l-1.06-2.75l-.48-2l-.1-1.75l.25-2l.6-2.5l1.95-6l2.76-6.5l4.44-9l1.63-4.25l2.5-8.5l1.25-7l.55-7.25l.18-10.5l.06-66.5z"/>
<path class="v" fill="#707014" d="M818.52 1263.71l.07 53.5l.31 14l.65 9.75l1.39 10l1.32 7.25l2.91 13l5.31 20.25l1.92 8.25l1.38 7.25l.89 7.75l-.07 2.5l-.38 2.5l-.79 3.25l-.91 2.5l-4.17 8l-1.68 2l-1.44 1.25l-.31 .08l-13.19 0l-.31-.08l-1.44-1.25l-1.68-2l-4.17-8l-.91-2.5l-.79-3.25l-.38-2.5l-.07-2.5l.89-7.75l1.38-7.25l1.92-8.25l5.31-20.25l2.91-13l1.32-7.25l1.39-10l.65-9.75l.31-14l.06-53.5z"/>
<path class="v" fill="#f8d7b9" d="M860.13 1229.77l.01 102.5l.18 12.5l.32 8.25l.71 5.75l2.12 14l2.73 13.75l1.09 4l1.79 5.5l1.84 5l2.35 5.75l.83 2.5l1.34 5.5l.81 5.75l-.05 1.75l-.38 2l-.74 2.25l-.93 2l-1.12 1.75l-1.77 2.25l-4.01 4.25l-.23 .02l-14.18 0l-.23-.02l-4.01-4.25l-1.77-2.25l-1.12-1.75l-.93-2l-.74-2.25l-.38-2l-.05-1.75l.81-5.75l1.34-5.5l.83-2.5l2.35-5.75l1.84-5l1.79-5.5l1.09-4l2.73-13.75l2.12-14l.71-5.75l.32-8.25l.18-12.5l.01-102.5z"/>
<path class="v" fill="#0f0f69" d="M901.74 1358.23l.06 23.75l.6 8.25l.79 5.25l1.28 4.25l1.92 4.75l2.47 5l5.22 9.75l1.54 3.25l1.6 4.25l.6 3l-.1 1.5l-.48 1.25l-.84 1.25l-1.26 1.25l-1.13 .75l-1.58 .75l-3.69 1.25l-.83 .07l-12.75 0l-.83-.07l-3.69-1.25l-1.58-.75l-1.13-.75l-1.26-1.25l-.84-1.25l-.48-1.25l-.1-1.5l.6-3l1.6-4.25l1.54-3.25l5.22-9.75l2.47-5l1.92-4.75l1.28-4.25l.79-5.25l.6-8.25l.06-23.75z"/>
<path class="v" fill="#808080" d="M943.36 1400.2l.2 14.25l.53 3l.97 2.75l1.53 2.75l2.18 2.75l2.67 2.5l6.03 4.75l1.1 1.25l.45 1l-.02 .75l-.45 .75l-1.63 1l-3.27 1l-4.71 .9l-11.6 0l-4.71-.9l-3.27-1l-1.63-1l-.45-.75l-.02-.75l.45-1l1.1-1.25l6.03-4.75l2.67-2.5l2.18-2.75l1.53-2.75l.97-2.75l.53-3l.2-14.25z"/>
<path class="v" fill="#aacde1" d="M984.94 1394.47l.07 17l.37 3l.78 2.75l1.86 3.75l2.45 3.5l3.2 3.5l5.62 5l.79 1l.34 1l-.18 .75l-.39 .5l-1.69 1l-3.36 1l-4.9 .95l-10.31 0l-4.9-.95l-3.36-1l-1.69-1l-.39-.5l-.18-.75l.34-1l.79-1l5.62-5l3.2-3.5l2.45-3.5l1.86-3.75l.78-2.75l.37-3l.06-17z"/>
<path class="v" fill="#2d73aa" d="M1026.55 1401.2l0 24.5l.18 1.25l.46 1.25l.63 1.25l.64 .75l2.79 2l2.69 1.25l5.94 2.25l2.42 1.25l.5 .5l-.18 .75l-1.02 .75l-5.15 .36l-20.2 0l-5.15-.36l-1.02-.75l-.18-.75l.5-.5l2.42-1.25l5.94-2.25l2.69-1.25l2.79-2l.64-.75l.63-1.25l.46-1.25l.18-1.25l0-24.5z"/>
<path class="v" fill="#96cdc3" d="M1068.46 1423.4l.35 .75l-.39 3.25l.4 .75l.71 .75l2.3 1.75l7.39 3.5l2.76 1.5l1.5 1l.96 1l.06 .25l-.24 .5l-1.38 .75l-1.55 .25l-3.99 .2l-18.77 0l-3.99-.2l-1.55-.25l-1.38-.75l-.24-.5l.06-.25l.96-1l1.5-1l2.76-1.5l7.39-3.5l2.3-1.75l.71-.75l.4-.75l-.39-3.25l.35-.75z"/>
<path class="v" fill="#b4d791" d="M1110.21 1427.69l.34 .5l.01 .25l-.42 2.25l.25 .5l.67 .5l3.57 1.75l8.3 3l2.27 1l.68 .5l-.19 .5l-.31 .25l-1.16 .5l-5.28 .41l-18.76 0l-5.28-.41l-1.16-.5l-.31-.25l-.19-.5l.68-.5l2.27-1l8.3-3l3.57-1.75l.67-.5l.25-.5l-.42-2.25l.01-.25l.34-.5z"/>
<path class="v" fill="#f0be78" d="M1151.38 1384.44l.19 43.25l.79 2.25l1.07 1l4.46 2.25l7.77 3.25l1.78 1.25l.11 .5l-.33 .5l-1.45 .75l-5.01 .3l-19.19 0l-5.01-.3l-1.45-.75l-.33-.5l.11-.5l1.78-1.25l7.77-3.25l4.46-2.25l1.07-1l.79-2.25l.19-43.25z"/>
<defs><linearGradient id="g4_0" gradientUnits="userSpaceOnUse" x1="0" x2="0" y1="1385.4" y2="1439.6"><stop offset="0" stop-opacity="0"/><stop offset=".44" stop-opacity=".01"/><stop offset=".85" stop-opacity=".05"/><stop offset=".95" stop-opacity=".04"/><stop offset="1" stop-opacity=".02"/></linearGradient><mask id="m4_0" maskUnits="userSpaceOnUse" x="177.6" y="1384.4" width="33.4" height="56.2"><rect x="177.6" y="1384.4" width="33.4" height="56.2" fill="url(#g4_0)"/></mask><linearGradient id="g4_1" gradientUnits="userSpaceOnUse" x1="0" x2="0" y1="1375.4" y2="1439.7"><stop offset="0" stop-opacity="0"/><stop offset=".57" stop-opacity=".01"/><stop offset=".67" stop-opacity=".03"/><stop offset=".93" stop-opacity=".11"/><stop offset=".97" stop-opacity=".1"/><stop offset="1" stop-opacity=".05"/></linearGradient><mask id="m4_1" maskUnits="userSpaceOnUse" x="219.2" y="1374.4" width="33.4" height="66.3"><rect x="219.2" y="1374.4" width="33.4" height="66.3" fill="url(#g4_1)"/></mask><linearGradient id="g4_2" gradientUnits="userSpaceOnUse" x1="0" x2="0" y1="1369.7" y2="1439.5"><stop offset="0" stop-opacity="0"/><stop offset=".49" stop-opacity="0"/><stop offset=".9" stop-opacity=".03"/><stop offset=".96" stop-opacity=".03"/><stop offset="1" stop-opacity=".01"/></linearGradient><mask id="m4_2" maskUnits="userSpaceOnUse" x="260.8" y="1368.7" width="33.4" height="71.8"><rect x="260.8" y="1368.7" width="33.4" height="71.8" fill="url(#g4_2)"/></mask><linearGradient id="g4_3" gradientUnits="userSpaceOnUse" x1="0" x2="0" y1="1377.3" y2="1439.6"><stop offset="0" stop-opacity="0"/><stop offset=".62" stop-opacity=".01"/><stop offset=".76" stop-opacity=".02"/><stop offset=".93" stop-opacity=".06"/><stop offset=".97" stop-opacity=".05"/><stop offset="1" stop-opacity=".02"/></linearGradient><mask id="m4_3" maskUnits="userSpaceOnUse" x="302.4" y="1376.3" width="33.4" height="64.3"><rect x="302.4" y="1376.3" width="33.4" height="64.3" fill="url(#g4_3)"/></mask><linearGradient id="g4_4" gradientUnits="userSpaceOnUse" x1="0" x2="0" y1="1357.2" y2="1438.8"><stop offset="0" stop-opacity="0"/><stop offset=".47" stop-opacity="0"/><stop offset=".61" stop-opacity=".02"/><stop offset=".73" stop-opacity=".07"/><stop offset=".9" stop-opacity=".2"/><stop offset=".94" stop-opacity=".22"/><stop offset=".96" stop-opacity=".22"/><stop offset=".98" stop-opacity=".2"/><stop offset="1" stop-opacity=".1"/></linearGradient><mask id="m4_4" maskUnits="userSpaceOnUse" x="344" y="1356.2" width="33.4" height="83.6"><rect x="344" y="1356.2" width="33.4" height="83.6" fill="url(#g4_4)"/></mask><linearGradient id="g4_6" gradientUnits="userSpaceOnUse" x1="0" x2="0" y1="1365.4" y2="1439.6"><stop offset="0" stop-opacity="0"/><stop offset=".63" stop-opacity=".01"/><stop offset=".76" stop-opacity=".05"/><stop offset=".94" stop-opacity=".14"/><stop offset=".97" stop-opacity=".13"/><stop offset="1" stop-opacity=".06"/></linearGradient><mask id="m4_6" maskUnits="userSpaceOnUse" x="427.2" y="1364.4" width="33.4" height="76.2"><rect x="427.2" y="1364.4" width="33.4" height="76.2" fill="url(#g4_6)"/></mask><linearGradient id="g4_7" gradientUnits="userSpaceOnUse" x1="0" x2="0" y1="1330.4" y2="1438.8"><stop offset="0" stop-opacity="0"/><stop offset=".4" stop-opacity="0"/><stop offset=".53" stop-opacity=".02"/><stop offset=".67" stop-opacity=".06"/><stop offset=".94" stop-opacity=".18"/><stop offset=".96" stop-opacity=".17"/><stop offset=".98" stop-opacity=".15"/><stop offset="1" stop-opacity=".07"/></linearGradient><mask id="m4_7" maskUnits="userSpaceOnUse" x="468.8" y="1329.4" width="33.4" height="110.4"><rect x="468.8" y="1329.4" width="33.4" height="110.4" fill="url(#g4_7)"/></mask><linearGradient id="g4_8" gradientUnits="userSpaceOnUse" x1="0" x2="0" y1="1360.1" y2="1437.8"><stop offset="0" stop-opacity="0"/><stop offset=".63" stop-opacity="0"/><stop offset=".92" stop-opacity=".03"/><stop offset=".97" stop-opacity=".03"/><stop offset="1" stop-opacity=".01"/></linearGradient><mask id="m4_8" maskUnits="userSpaceOnUse" x="510.4" y="1359.1" width="33.4" height="79.7"><rect x="510.4" y="1359.1" width="33.4" height="79.7" fill="url(#g4_8)"/></mask><linearGradient id="g4_9" gradientUnits="userSpaceOnUse" x1="0" x2="0" y1="1275.2" y2="1438.6"><stop offset="0" stop-opacity=".01"/><stop offset=".5" stop-opacity=".01"/><stop offset=".6" stop-opacity=".02"/><stop offset=".64" stop-opacity=".05"/><stop offset=".71" stop-opacity=".11"/><stop offset=".76" stop-opacity=".2"/><stop offset=".8" stop-opacity=".29"/><stop offset=".88" stop-opacity=".56"/><stop offset=".91" stop-opacity=".62"/><stop offset=".93" stop-opacity=".64"/><stop offset=".94" stop-opacity=".64"/><stop offset=".95" stop-opacity=".61"/><stop offset=".97" stop-opacity=".51"/><stop offset=".99" stop-opacity=".3"/><stop offset="1" stop-opacity=".07"/></linearGradient><mask id="m4_9" maskUnits="userSpaceOnUse" x="552" y="1274.2" width="33.4" height="165.4"><rect x="552" y="1274.2" width="33.4" height="165.4" fill="url(#g4_9)"/></mask><linearGradient id="g4_10" gradientUnits="userSpaceOnUse" x1="0" x2="0" y1="1251.2" y2="1437.4"><stop offset="0" stop-opacity="0"/><stop offset=".46" stop-opacity="0"/><stop offset=".77" stop-opacity=".05"/><stop offset=".88" stop-opacity=".06"/><stop offset=".95" stop-opacity=".05"/><stop offset="1" stop-opacity=".02"/></linearGradient><mask id="m4_10" maskUnits="userSpaceOnUse" x="593.6" y="1250.2" width="33.4" height="188.1"><rect x="593.6" y="1250.2" width="33.4" height="188.1" fill="url(#g4_10)"/></mask><linearGradient id="g4_11" gradientUnits="userSpaceOnUse" x1="0" x2="0" y1="1341.5" y2="1437.8"><stop offset="0" stop-opacity="0"/><stop offset=".47" stop-opacity="0"/><stop offset=".56" stop-opacity=".02"/><stop offset=".64" stop-opacity=".07"/><stop offset=".81" stop-opacity=".25"/><stop offset=".86" stop-opacity=".28"/><stop offset=".9" stop-opacity=".29"/><stop offset=".93" stop-opacity=".27"/><stop offset=".96" stop-opacity=".22"/><stop offset="1" stop-opacity=".03"/></linearGradient><mask id="m4_11" maskUnits="userSpaceOnUse" x="635.2" y="1340.5" width="33.4" height="98.3"><rect x="635.2" y="1340.5" width="33.4" height="98.3" fill="url(#g4_11)"/></mask><linearGradient id="g4_12" gradientUnits="userSpaceOnUse" x1="0" x2="0" y1="1247.7" y2="1437.4"><stop offset="0" stop-opacity="0"/><stop offset=".57" stop-opacity="0"/><stop offset=".68" stop-opacity=".02"/><stop offset=".71" stop-opacity=".03"/><stop offset=".76" stop-opacity=".07"/><stop offset=".89" stop-opacity=".25"/><stop offset=".91" stop-opacity=".28"/><stop offset=".94" stop-opacity=".29"/><stop offset=".96" stop-opacity=".28"/><stop offset=".98" stop-opacity=".24"/><stop offset="1" stop-opacity=".1"/></linearGradient><mask id="m4_12" maskUnits="userSpaceOnUse" x="676.8" y="1246.7" width="33.4" height="191.7"><rect x="676.8" y="1246.7" width="33.4" height="191.7" fill="url(#g4_12)"/></mask><linearGradient id="g4_14" gradientUnits="userSpaceOnUse" x1="0" x2="0" y1="1283.8" y2="1436.4"><stop offset="0" stop-opacity="0"/><stop offset=".55" stop-opacity="0"/><stop offset=".65" stop-opacity=".02"/><stop offset=".85" stop-opacity=".08"/><stop offset=".91" stop-opacity=".07"/><stop offset="1" stop-opacity=".02"/></linearGradient><mask id="m4_14" maskUnits="userSpaceOnUse" x="760" y="1282.8" width="33.4" height="154.6"><rect x="760" y="1282.8" width="33.4" height="154.6" fill="url(#g4_14)"/></mask><linearGradient id="g4_15" gradientUnits="userSpaceOnUse" x1="0" x2="0" y1="1263.7" y2="1436.8"><stop offset="0" stop-opacity="0"/><stop offset=".45" stop-opacity="0"/><stop offset=".87" stop-opacity=".04"/><stop offset=".93" stop-opacity=".04"/><stop offset="1" stop-opacity=".02"/></linearGradient><mask id="m4_15" maskUnits="userSpaceOnUse" x="801.6" y="1262.7" width="33.4" height="175.1"><rect x="801.6" y="1262.7" width="33.4" height="175.1" fill="url(#g4_15)"/></mask><linearGradient id="g4_16" gradientUnits="userSpaceOnUse" x1="0" x2="0" y1="1229.8" y2="1436.8"><stop offset="0" stop-opacity="0"/><stop offset=".6" stop-opacity="0"/><stop offset=".76" stop-opacity=".03"/><stop offset=".87" stop-opacity=".07"/><stop offset=".92" stop-opacity=".08"/><stop offset=".96" stop-opacity=".07"/><stop offset="1" stop-opacity=".04"/></linearGradient><mask id="m4_16" maskUnits="userSpaceOnUse" x="843.2" y="1228.8" width="33.4" height="209"><rect x="843.2" y="1228.8" width="33.4" height="209" fill="url(#g4_16)"/></mask><linearGradient id="g4_17" gradientUnits="userSpaceOnUse" x1="0" x2="0" y1="1358.2" y2="1437.8"><stop offset="0" stop-opacity="0"/><stop offset=".47" stop-opacity=".01"/><stop offset=".9" stop-opacity=".06"/><stop offset=".96" stop-opacity=".05"/><stop offset="1" stop-opacity=".03"/></linearGradient><mask id="m4_17" maskUnits="userSpaceOnUse" x="884.8" y="1357.2" width="33.4" height="81.6"><rect x="884.8" y="1357.2" width="33.4" height="81.6" fill="url(#g4_17)"/></mask><linearGradient id="g4_18" gradientUnits="userSpaceOnUse" x1="0" x2="0" y1="1400.2" y2="1439.6"><stop offset="0" stop-opacity="0"/><stop offset=".36" stop-opacity="0"/><stop offset=".51" stop-opacity=".02"/><stop offset=".65" stop-opacity=".06"/><stop offset=".89" stop-opacity=".16"/><stop offset=".95" stop-opacity=".14"/><stop offset="1" stop-opacity=".06"/></linearGradient><mask id="m4_18" maskUnits="userSpaceOnUse" x="926.4" y="1399.2" width="33.4" height="41.4"><rect x="926.4" y="1399.2" width="33.4" height="41.4" fill="url(#g4_18)"/></mask><linearGradient id="g4_19" gradientUnits="userSpaceOnUse" x1="0" x2="0" y1="1394.5" y2="1439.2"><stop offset="0" stop-opacity="0"/><stop offset=".51" stop-opacity=".01"/><stop offset=".67" stop-opacity=".03"/><stop offset=".91" stop-opacity=".09"/><stop offset=".96" stop-opacity=".08"/><stop offset="1" stop-opacity=".03"/></linearGradient><mask id="m4_19" maskUnits="userSpaceOnUse" x="968" y="1393.5" width="33.4" height="46.7"><rect x="968" y="1393.5" width="33.4" height="46.7" fill="url(#g4_19)"/></mask><linearGradient id="g4_20" gradientUnits="userSpaceOnUse" x1="0" x2="0" y1="1401.2" y2="1439.3"><stop offset="0" stop-opacity="0"/><stop offset=".64" stop-opacity="0"/><stop offset=".71" stop-opacity=".01"/><stop offset=".81" stop-opacity=".06"/><stop offset=".95" stop-opacity=".2"/><stop offset=".99" stop-opacity=".18"/><stop offset="1" stop-opacity=".12"/></linearGradient><mask id="m4_20" maskUnits="userSpaceOnUse" x="1009.6" y="1400.2" width="33.4" height="40.1"><rect x="1009.6" y="1400.2" width="33.4" height="40.1" fill="url(#g4_20)"/></mask><linearGradient id="g4_23" gradientUnits="userSpaceOnUse" x1="0" x2="0" y1="1384.4" y2="1439.7"><stop offset="0" stop-opacity="0"/><stop offset=".78" stop-opacity="0"/><stop offset=".84" stop-opacity=".01"/><stop offset=".96" stop-opacity=".06"/><stop offset=".99" stop-opacity=".06"/><stop offset="1" stop-opacity=".04"/></linearGradient><mask id="m4_23" maskUnits="userSpaceOnUse" x="1134.5" y="1383.4" width="33.4" height="57.3"><rect x="1134.5" y="1383.4" width="33.4" height="57.3" fill="url(#g4_23)"/></mask></defs>
<rect x="177.6" y="1384.4" width="33.4" height="56.2" fill="url(#hz)" mask="url(#m4_0)"/><rect x="219.2" y="1374.4" width="33.4" height="66.3" fill="url(#hz)" mask="url(#m4_1)"/><rect x="260.8" y="1368.7" width="33.4" height="71.8" fill="url(#hz)" mask="url(#m4_2)"/><rect x="302.4" y="1376.3" width="33.4" height="64.3" fill="url(#hz)" mask="url(#m4_3)"/><rect x="344" y="1356.2" width="33.4" height="83.6" fill="url(#hz)" mask="url(#m4_4)"/><rect x="427.2" y="1364.4" width="33.4" height="76.2" fill="url(#hz)" mask="url(#m4_6)"/><rect x="468.8" y="1329.4" width="33.4" height="110.4" fill="url(#hz)" mask="url(#m4_7)"/><rect x="510.4" y="1359.1" width="33.4" height="79.7" fill="url(#hz)" mask="url(#m4_8)"/><rect x="552" y="1274.2" width="33.4" height="165.4" fill="url(#hz)" mask="url(#m4_9)"/><rect x="593.6" y="1250.2" width="33.4" height="188.1" fill="url(#hz)" mask="url(#m4_10)"/><rect x="635.2" y="1340.5" width="33.4" height="98.3" fill="url(#hz)" mask="url(#m4_11)"/><rect x="676.8" y="1246.7" width="33.4" height="191.7" fill="url(#hz)" mask="url(#m4_12)"/><rect x="760" y="1282.8" width="33.4" height="154.6" fill="url(#hz)" mask="url(#m4_14)"/><rect x="801.6" y="1262.7" width="33.4" height="175.1" fill="url(#hz)" mask="url(#m4_15)"/><rect x="843.2" y="1228.8" width="33.4" height="209" fill="url(#hz)" mask="url(#m4_16)"/><rect x="884.8" y="1357.2" width="33.4" height="81.6" fill="url(#hz)" mask="url(#m4_17)"/><rect x="926.4" y="1399.2" width="33.4" height="41.4" fill="url(#hz)" mask="url(#m4_18)"/><rect x="968" y="1393.5" width="33.4" height="46.7" fill="url(#hz)" mask="url(#m4_19)"/><rect x="1009.6" y="1400.2" width="33.4" height="40.1" fill="url(#hz)" mask="url(#m4_20)"/><rect x="1134.5" y="1383.4" width="33.4" height="57.3" fill="url(#hz)" mask="url(#m4_23)"/>
<path class="dt" d="M617.5 1275.5h0m64.3 8.8h0m6.9 6.7h0m-134.2 4.5h0m13.6 6.2h0m10.2 6.2h0m125.1 2.3h0m-126 17.4h0m-8.4 7.1h0m51.6 .5h0m140.4-.3h0m91.9 4.7h0m-240.2 8.1h0m-4.3 3.3h0m-7.7 1.9h0m21.7 2.5h0m197.2 3.2h0m5.5 0h0m-240.6 4.7h0m33 0h0m-6.6 .8h0m5.2 1.5h0m10 .3h0m-67 2.9h0m299.6 4h0m-295.1 1.6h0m200.6 .1h0m39.3-.2h0m-117.7 1.4h0m99.4 .1h0m-220.1 1.5h0m200.2-.5h0m1.1-.1h0m-191.6 1.6h0m205.4 1.2h0m89.7-.5h0m-438.5 1h0m44.2-.1h0m378.5 .3h0m-269.3 .8h0m112.5 .7h0m6 .1h0m83.6 .3h0m-185.4 .4h0m2.7 .1h0m205.1 0h0m-381.1 1.8h0m69-.8h0m59.7 .1h0m14.7 0h0m114.5 .5h0m22-.7h0m-236.2 1.4h0m88.9 .5h0m16.3-.1h0m33.4-.1h0m14.2 0h0m73.9-.2h0m-133.6 1.3h0m17.3-.7h0m138.6 .3h0m113.5 1.2h0m-267.4 .5h0m.8 .1h0m13.3 .3h0m277.6 .4h0m-235.6 1.1h0m59.7-.3h0m139.2-.2h0m-267.6 1.1h0m9 0h0m36.7 .2h0m96.9-.3h0m78 .2h0m-195.9 .5h0m36.4 1.6h0m72.1-.3h0m-130.9 .7h0m1.8 .1h0m16.5 .3h0m135.1 .3h0m58.8-.8h0m46.2 .5h0m-456.5 .9h0m202.1-.4h0m11.6 .2h0m90.7 .6h0m24.4-.2h0m123 0h0m60.9 .1h0m-179.9 .7h0m2.7-.3h0m128.1 .3h0m4.2 .2h0m21.2-.6h0m24 .4h0m-386.2 1.1h0m77.5-.3h0m128 .7h0m-197 .6h0m118.1 .2h0m67.2-.3h0m24.4 .3h0m116-.1h0m39.3 .2h0m17.5-.5h0m-513.4 1h0m195.1 .4h0m7.4 0h0m217.8-.6h0m-218.4 1.6h0m136.2 0h0m.5-.5h0m-220.6 1h0m81.2 .6h0m.7-.2h0m9.1 0h0m.2-.1h0m7.7 .2h0m.7-.3h0m102.3 .5h0m25.1-.3h0m1.5-.5h0m184.2 .4h0m-416.5 .5h0m24.4 .7h0m54.2-.6h0m6.8 .5h0m46-.6h0m-128.6 1.9h0m82.5-.2h0m9.6-.6h0m4.8-.2h0m8.3 .1h0m12.5 .1h0m25.1 0h0m76.6-.1h0m4.2 .7h0m62.5-.2h0m57.7 .1h0m21-.4h0m-280.2 1.4h0m8.1 .1h0m8.5 .1h0m232.3-.7h0m52.1 .3h0m-367.2 1.3h0m61.5-.2h0m25.3 .2h0m8.5 0h0m13 0h0m49.9-.4h0m28.5-.1h0m.5 .7h0m-122.3 .2h0m2.8-.1h0m11.5 .2h0m25.1-.1h0m-38.8 1.6h0m3 .2h0m.2-.3h0m14.9-.4h0m73.3 .1h0m11.3 .5h0m23.1-.8h0m13.7 0h0m32.2 .8h0m-166.4 1h0m76.9-.5h0m9-.3h0m29.8 .3h0m10.4-.1h0m2.4 .6h0m2.5 0h0m202.6 0h0m-640.6 1.1h0m103-.3h0m191.5 0h0m1.9-.3h0m2.5 .6h0m6.8-.6h0m67.7-.1h0m50.1 0h0m11.6 0h0m64.2-.1h0m85.5 0h0m-657.2 .9h0m12.7 .6h0m289.1-.3h0m5.7 .5h0m56.6-.3h0m.7 .2h0m7.2 0h0m20.7-.2h0m14.6 .2h0m5.7-.6h0m6.7 .6h0m11.6-.3h0m17.9 .2h0m11.9 .1h0m26.9-.5h0m3.7 .5h0m98.6-.1h0m.6 .2h0m90.8-.1h0m2.1-.3h0m-672.6 1.3h0m353.1 .2h0m2.1-1h0m8.1 .3h0m3.9 0h0m15.6 .2h0m1.1-.2h0m11.8 .6h0m47.4 0h0m12.2 0h0m1.8-.4h0m26.9 .5h0m18.2-.4h0m.1-.5h0m164.8 .9h0m.7-.3h0m-675.3 .9h0m157.6 .1h0m202.4-.3h0m2.1 .1h0m4.5-.4h0m9.1 .5h0m5.8-.3h0m73.5 .3h0m8.3-.5h0m24.9 0h0m2.5 .8h0m23.2-.2h0m157.7-.2h0m-516 1.3h0m94.5-.7h0m35.8 .8h0m83.1-.1h0m3.6-.4h0m9-.3h0m75 .8h0m4.6 0h0m10.4-.5h0m36.6-.2h0m7.6 0h0m59.8 .3h0m7.6 .5h0m-596.2 .2h0m291.9 .8h0m22.1 0h0m60.5-.5h0m7-.4h0m3.8 .4h0m.2-.1h0m17.5-.3h0m41.2 .7h0m33.2-.4h0m10.4-.3h0m25.7-.1h0m.7 .2h0m3.3 .3h0m3.1 .3h0m79.6-.2h0m10-.5h0m21.3 .1h0m41.6 .6h0m-484.6 1.1h0m2.6 .1h0m130.4-.5h0m54.7-.5h0m6.1 .2h0m1.5 .6h0m.8 0h0m9.2 .1h0m23.6 0h0m11.4-.8h0m74.7 .6h0m19.3 .2h0m148.2-.8h0m3.7 .4h0m5.2 0h0m35.9 .4h0m44.4-.2h0m-752.3 1h0m300 0h0m66.4-.7h0m2.5 .4h0m11.9-.3h0m3.3 .1h0m1.3 .4h0m6 0h0m1.6 .3h0m44.7 0h0m11.3-.8h0m7.6 .7h0m3.6 0h0m15.7-.7h0m13.8 .4h0m4.5 .2h0m20.5-.5h0m1.8 .3h0m17.4-.1h0m61.3 .1h0m39.9-.5h0m21.9 .8h0m28.8-.5h0m35.9 .6h0m-468.1 .4h0m41.5-.3h0m12.1 .8h0m4.5-.4h0m59.2-.2h0m21.6 .6h0m3.5-.6h0m65.9 0h0m142.4 .1h0m-611.1 1.5h0m21.4-.6h0m72.2 .2h0m199.9 .1h0m86.8-.2h0m99.8 .2h0m21.7 .1h0m131.8 0h0m-632.5 1h0m22 .1h0m165.5-.2h0m65.6 0h0m46.3 .3h0m71.3-.5h0m30.1 .2h0m56.2-.4h0m10.6 .6h0m8-.6h0m34.3 .9h0m8.9-.6h0m5.2 .3h0m200.5 .2h0m-541.8 1.1h0m112.7-.6h0m16.7 .4h0m63.1-.2h0m3.8 .1h0m11-.2h0m2.5 .1h0m104.1-.6h0m11.5 .5h0m13.5-.4h0m119.8 .3h0m20.3 .1h0m48 .2h0m63.9 0h0m-772.2 .6h0m15.5 .6h0m39.9 .1h0m124.1-.6h0m191.2 .5h0m5.5-.5h0m5.8-.4h0m1.4 .7h0m3.8-.5h0m6.9 .7h0m.9-.4h0m.6 .1h0m4.1 .1h0m58.7-.5h0m11-.2h0m9.2 .6h0m20-.3h0m5.2 .1h0m10.1-.4h0m8.3 .2h0m159 .3h0m40.2 .1h0m-558.9 .5h0m18.5 .7h0m6.5-.6h0m42.8-.1h0m104.8 .6h0m37.5 0h0m4.2-.3h0m5.8-.1h0m1.3-.1h0m4.7 .6h0m4.2-.2h0m3.5-.4h0m.3 .2h0m38.9-.3h0m4.9 .7h0m33.3-.2h0m19.4 0h0m11-.4h0m5.8 .3h0m4.3 .4h0m4.9-.1h0m.9-.7h0m170.8 .1h0m-686 .8h0m2.8 .4h0m45.2 .1h0m94 .3h0m231.4-.3h0m3.3-.1h0m.5 .2h0m.1-.3h0m4.2-.2h0m12.4-.1h0m.3 .7h0m74.9-.1h0m1.8-.4h0m1.1 .2h0m6.9 .3h0m20.1 .1h0m9.5-.6h0m-468.8 1h0m46.6 0h0m88.9-.2h0m3.9 .1h0m6.4 .3h0m70.4 0h0m56.5 .2h0m56-.1h0m10.3-.1h0m6.8 0h0m6.2-.4h0m2.3 .7h0m.7 .1h0m32.7-.3h0m26.6-.4h0m6.1 .1h0m8.5-.2h0m2.2 .9h0m4.4-.9h0m0 .7h0m20.6 0h0m93.8 0h0m29.1-.2h0m87.7-.1h0m-690.3 1h0m348.5-.4h0m2.7 .2h0m2.7 .6h0m16.3-.7h0m2.1 .2h0m1 .6h0m71.8-.9h0m4 .7h0m6.2-.5h0m3.2 .8h0m20.1-.5h0m4.2 .3h0m11.9 .2h0m2.6-.3h0m2-.3h0m5.8 .1h0m100.3 .4h0m33.5-.7h0m4.6 .5h0m.8-.4h0m-542.8 .9h0m48.5 .5h0m4.9-.1h0m2.7-.6h0m86.2 .5h0m66.4 0h0m11.2-.5h0m25.9 .3h0m5 .2h0m18.4 .1h0m3.7-.5h0m.8 .1h0m1.6 .6h0m37.6 .2h0m15.9-.3h0m25.3-.7h0m3.4 .2h0m18.6 .4h0m14.8 0h0m6.7-.2h0m3.8-.1h0m166.9-.2h0m-691.8 1.9h0m189-.1h0m74.9 0h0m22.9-.4h0m72.6-.1h0m23.4 .1h0m7.1 .1h0m7.3-.4h0m.2-.2h0m3.6 .6h0m1.1 .3h0m66.9-.7h0m27.2 .1h0m82.5 .4h0m26.1 .1h0m75.6-.6h0m31.5-.1h0m16.5 .1h0m89.9 .2h0m-766.2 1.5h0m81.8-.4h0m44-.5h0m4.7 .9h0m4-.8h0m108.6 .6h0m14.9-.2h0m1.1 .5h0m3.3-.2h0m2.8 0h0m52.3 .1h0m3.6-.3h0m4.9-.5h0m6.4 .5h0m.5 .2h0m68.4 .1h0m8.3-.8h0m12 .2h0m8 .4h0m13.5-.6h0m13.8 0h0m79.7 .5h0m80.1-.5h0m17.3 0h0m43.1 .1h0m2.5 .5h0m-723.4 1.2h0m7.7 0h0m25.2-.2h0m131.1 .1h0m9.2-.1h0m68.1 .1h0m3.7-.3h0m61.9 .3h0m55.5-.2h0m1.9 0h0m9.5-.3h0m11.5 .2h0m6.9 .1h0m15.5 0h0m53.3-.3h0m7.8 .7h0m4.4-.7h0m15-.2h0m23.7 .2h0m87.4-.3h0m1 .1h0m61.9 .8h0m105-.4h0m-772.1 1h0m171.5-.4h0m138.6-.1h0m.2 .9h0m35-.6h0m20.9 .3h0m3.8-.3h0m9.6-.1h0m10.3 .3h0m2-.3h0m27.8-.1h0m51.6 .4h0m1.9-.1h0m19.4 .4h0m1.6-.2h0m5-.2h0m5.1-.2h0m17 .2h0m121.7 .2h0m114.2 .2h0m-668.5 .9h0m56.2-.6h0m13.8 .2h0m58.1 .1h0m34.7 0h0m5.9-.2h0m7.3-.2h0m103.7 .7h0m6.5-.4h0m4.5-.2h0m.9 .8h0m1.3-.3h0m3 .3h0m0-.5h0m12.9 .3h0m.6-.7h0m62.2 .1h0m12 .8h0m24.6-.2h0m8-.5h0m3.1 .3h0m6.9 .4h0m233-.6h0m8.6 .2h0m-707 .8h0m45.6 .5h0m28.8-.2h0m37.8-.2h0m5.5-.1h0m75.1-.1h0m16.3-.2h0m5.5 .4h0m107.2 .2h0m4-.4h0m12.8 .1h0m.6 .1h0m4.5-.4h0m0 1h0m73.7-.7h0m10-.3h0m13.7 0h0m4.4 .5h0m2.1-.1h0m7.6 .2h0m152.7-.2h0m6.9 .1h0m6.5 .2h0m74.3 0h0m47.9-.3h0m7.1-.2h0m5.8 .8h0m-630.2 .6h0m8.1-.4h0m.5 .5h0m61.5 .3h0m24-.2h0m29.3-.8h0m53.1 1h0m14.1-.9h0m.9 .3h0m8.9 .5h0m18.8-.5h0m0 0h0m17.8 .3h0m42.6-.1h0m7.9 0h0m.4-.5h0m4 0h0m3.1 .2h0m2.7 .4h0m7.6-.5h0m15.3 .4h0m15.9 0h0m153.9-.2h0m83.5-.2h0m4.4-.2h0m14.8 .9h0m61.7-.7h0m1.7-.1h0m-767.3 1.4h0m82.2 0h0m38.3-.4h0m88.2 .4h0m92.9 .5h0m4-.3h0m3.5-.1h0m2.5-.2h0m3.9 .5h0m7.7 .1h0m7.9-.7h0m1.2 .3h0m33.9-.2h0m18.3 .3h0m1.3 0h0m20.2 .1h0m6.5-.3h0m15.7-.2h0m.4 .1h0m5.9-.2h0m18.1 .5h0m152.2 0h0m.4-.2h0m31.6 .2h0m40.8-.4h0m-741.5 1.4h0m146.1 .1h0m33.5-.3h0m75 .3h0m40-.5h0m7 .2h0m5.6 0h0m42.8-.3h0m4.7 .1h0m12.8 0h0m3.3 .6h0m13.2-.7h0m6.6 .6h0m65.3-.6h0m44.3 .7h0m7.7-.2h0m8.2-.5h0m140.9 .2h0m47.7 0h0m63.8-.4h0m13 .7h0m14-.6h0m166.8 .4h0m-921.4 1.3h0m102.1 .1h0m17.2-.2h0m.8 .2h0m5.5 0h0m20.8-.2h0m53.1-.3h0m61.8 .1h0m67.6 .3h0m4-.3h0m9.6 .4h0m78.7-.5h0m33.8 .2h0m3.2 .3h0m179.6-.1h0m4.1-.4h0m18.4-.3h0m56 .7h0m4.2-.1h0m67.2-.6h0m23.8 .8h0m-798.9 .6h0m1-.4h0m45.2 .3h0m86.1-.1h0m63.8 .4h0m37.3 0h0m78.2-.2h0m1.4-.3h0m7.6 .5h0m7.9-.6h0m2.9 0h0m8.8 .9h0m101.9-.5h0m10.8-.4h0m172.8 .4h0m62.6-.4h0m13.6 .2h0m12.3 .2h0m39.5 .3h0m107.7 .2h0m-922.2 .2h0m44.9 .1h0m126 .5h0m.6-.3h0m8.2 .1h0m10.7-.5h0m82.4 .7h0m26-.2h0m77.9-.3h0m15.3 .4h0m8.3-.5h0m451.5 .3h0m-837.7 .6h0m25.9 .7h0m22.8-.3h0m5.3 0h0m86.9-.5h0m9.8 .4h0m4.3 .1h0m95.1 0h0m50.3-.4h0m74.9 .7h0m88.2-.7h0m273.9 .6h0m13.7 .1h0m10.8 0h0m86.8 .1h0m92.9-.8h0m3.4 .4h0m-887.7 .6h0m125.1-.1h0m77 .5h0m21.7-.2h0m80.7-.2h0"/>
<rect class="ax" x="173" y="1210.2" width="998" height="240.66"/>
<path class="tk" d="M173 1285.4h-8M173 1440.95h-8"/>
<text x="157.98" y="1296.73" text-anchor="end">200000</text>
<text x="158" y="1452.28" text-anchor="end">0</text>
<text x="672.7" y="1196.3" text-anchor="middle">Number of UMIs</text>
<text transform="translate(37.7 1330.53) rotate(-90)" text-anchor="middle">Number of UMIs</text>
</g>
<path class="tk" d="M194.25 1450.86v8M235.85 1450.86v8M277.46 1450.86v8M319.06 1450.86v8M360.67 1450.86v8M402.27 1450.86v8M443.88 1450.86v8M485.48 1450.86v8M527.09 1450.86v8M568.69 1450.86v8M610.3 1450.86v8M651.9 1450.86v8M693.51 1450.86v8M735.12 1450.86v8M776.72 1450.86v8M818.32 1450.86v8M859.93 1450.86v8M901.53 1450.86v8M943.14 1450.86v8M984.74 1450.86v8M1026.35 1450.86v8M1067.95 1450.86v8M1109.56 1450.86v8M1151.16 1450.86v8"/>
<text transform="translate(202.35 1469.83) rotate(-90)" text-anchor="end">Lamp5 Lhx6</text>
<text transform="translate(243.95 1469.91) rotate(-90)" text-anchor="end">Lamp5</text>
<text transform="translate(286.66 1469.81) rotate(-90)" text-anchor="end">Pax6</text>
<text transform="translate(327.17 1469.21) rotate(-90)" text-anchor="end">Sncg</text>
<text transform="translate(368.77 1469.91) rotate(-90)" text-anchor="end">Vip</text>
<text transform="translate(411.47 1469.07) rotate(-90)" text-anchor="end">Sst Chodl</text>
<text transform="translate(453.08 1470.97) rotate(-90)" text-anchor="end">Sst</text>
<text transform="translate(494.68 1469.9) rotate(-90)" text-anchor="end">Pvalb</text>
<text transform="translate(536.29 1470.68) rotate(-90)" text-anchor="end">Chandelier</text>
<text transform="translate(577.89 1470.49) rotate(-90)" text-anchor="end">L2/3 IT</text>
<text transform="translate(619.5 1470.53) rotate(-90)" text-anchor="end">L6 IT</text>
<text transform="translate(661.11 1470.53) rotate(-90)" text-anchor="end">L4 IT</text>
<text transform="translate(702.71 1470.53) rotate(-90)" text-anchor="end">L5 IT</text>
<text transform="translate(744.32 1470.53) rotate(-90)" text-anchor="end">L5 ET</text>
<text transform="translate(785.92 1470.51) rotate(-90)" text-anchor="end">L6 CT</text>
<text transform="translate(827.52 1469.91) rotate(-90)" text-anchor="end">L6b</text>
<text transform="translate(869.13 1469.84) rotate(-90)" text-anchor="end">L6 IT Car3</text>
<text transform="translate(910.74 1469.53) rotate(-90)" text-anchor="end">L5/6 NP</text>
<text transform="translate(951.24 1469.78) rotate(-90)" text-anchor="end">Astrocyte</text>
<text transform="translate(993.94 1469.91) rotate(-90)" text-anchor="end">OPC</text>
<text transform="translate(1034.45 1469.82) rotate(-90)" text-anchor="end">Oligodendrocyte</text>
<text transform="translate(1077.15 1469.11) rotate(-90)" text-anchor="end">Endothelial</text>
<text transform="translate(1118.76 1469.89) rotate(-90)" text-anchor="end">VLMC</text>
<text transform="translate(1159.26 1468.72) rotate(-90)" text-anchor="end">Microglia-PVM</text>
</svg></body></html>
